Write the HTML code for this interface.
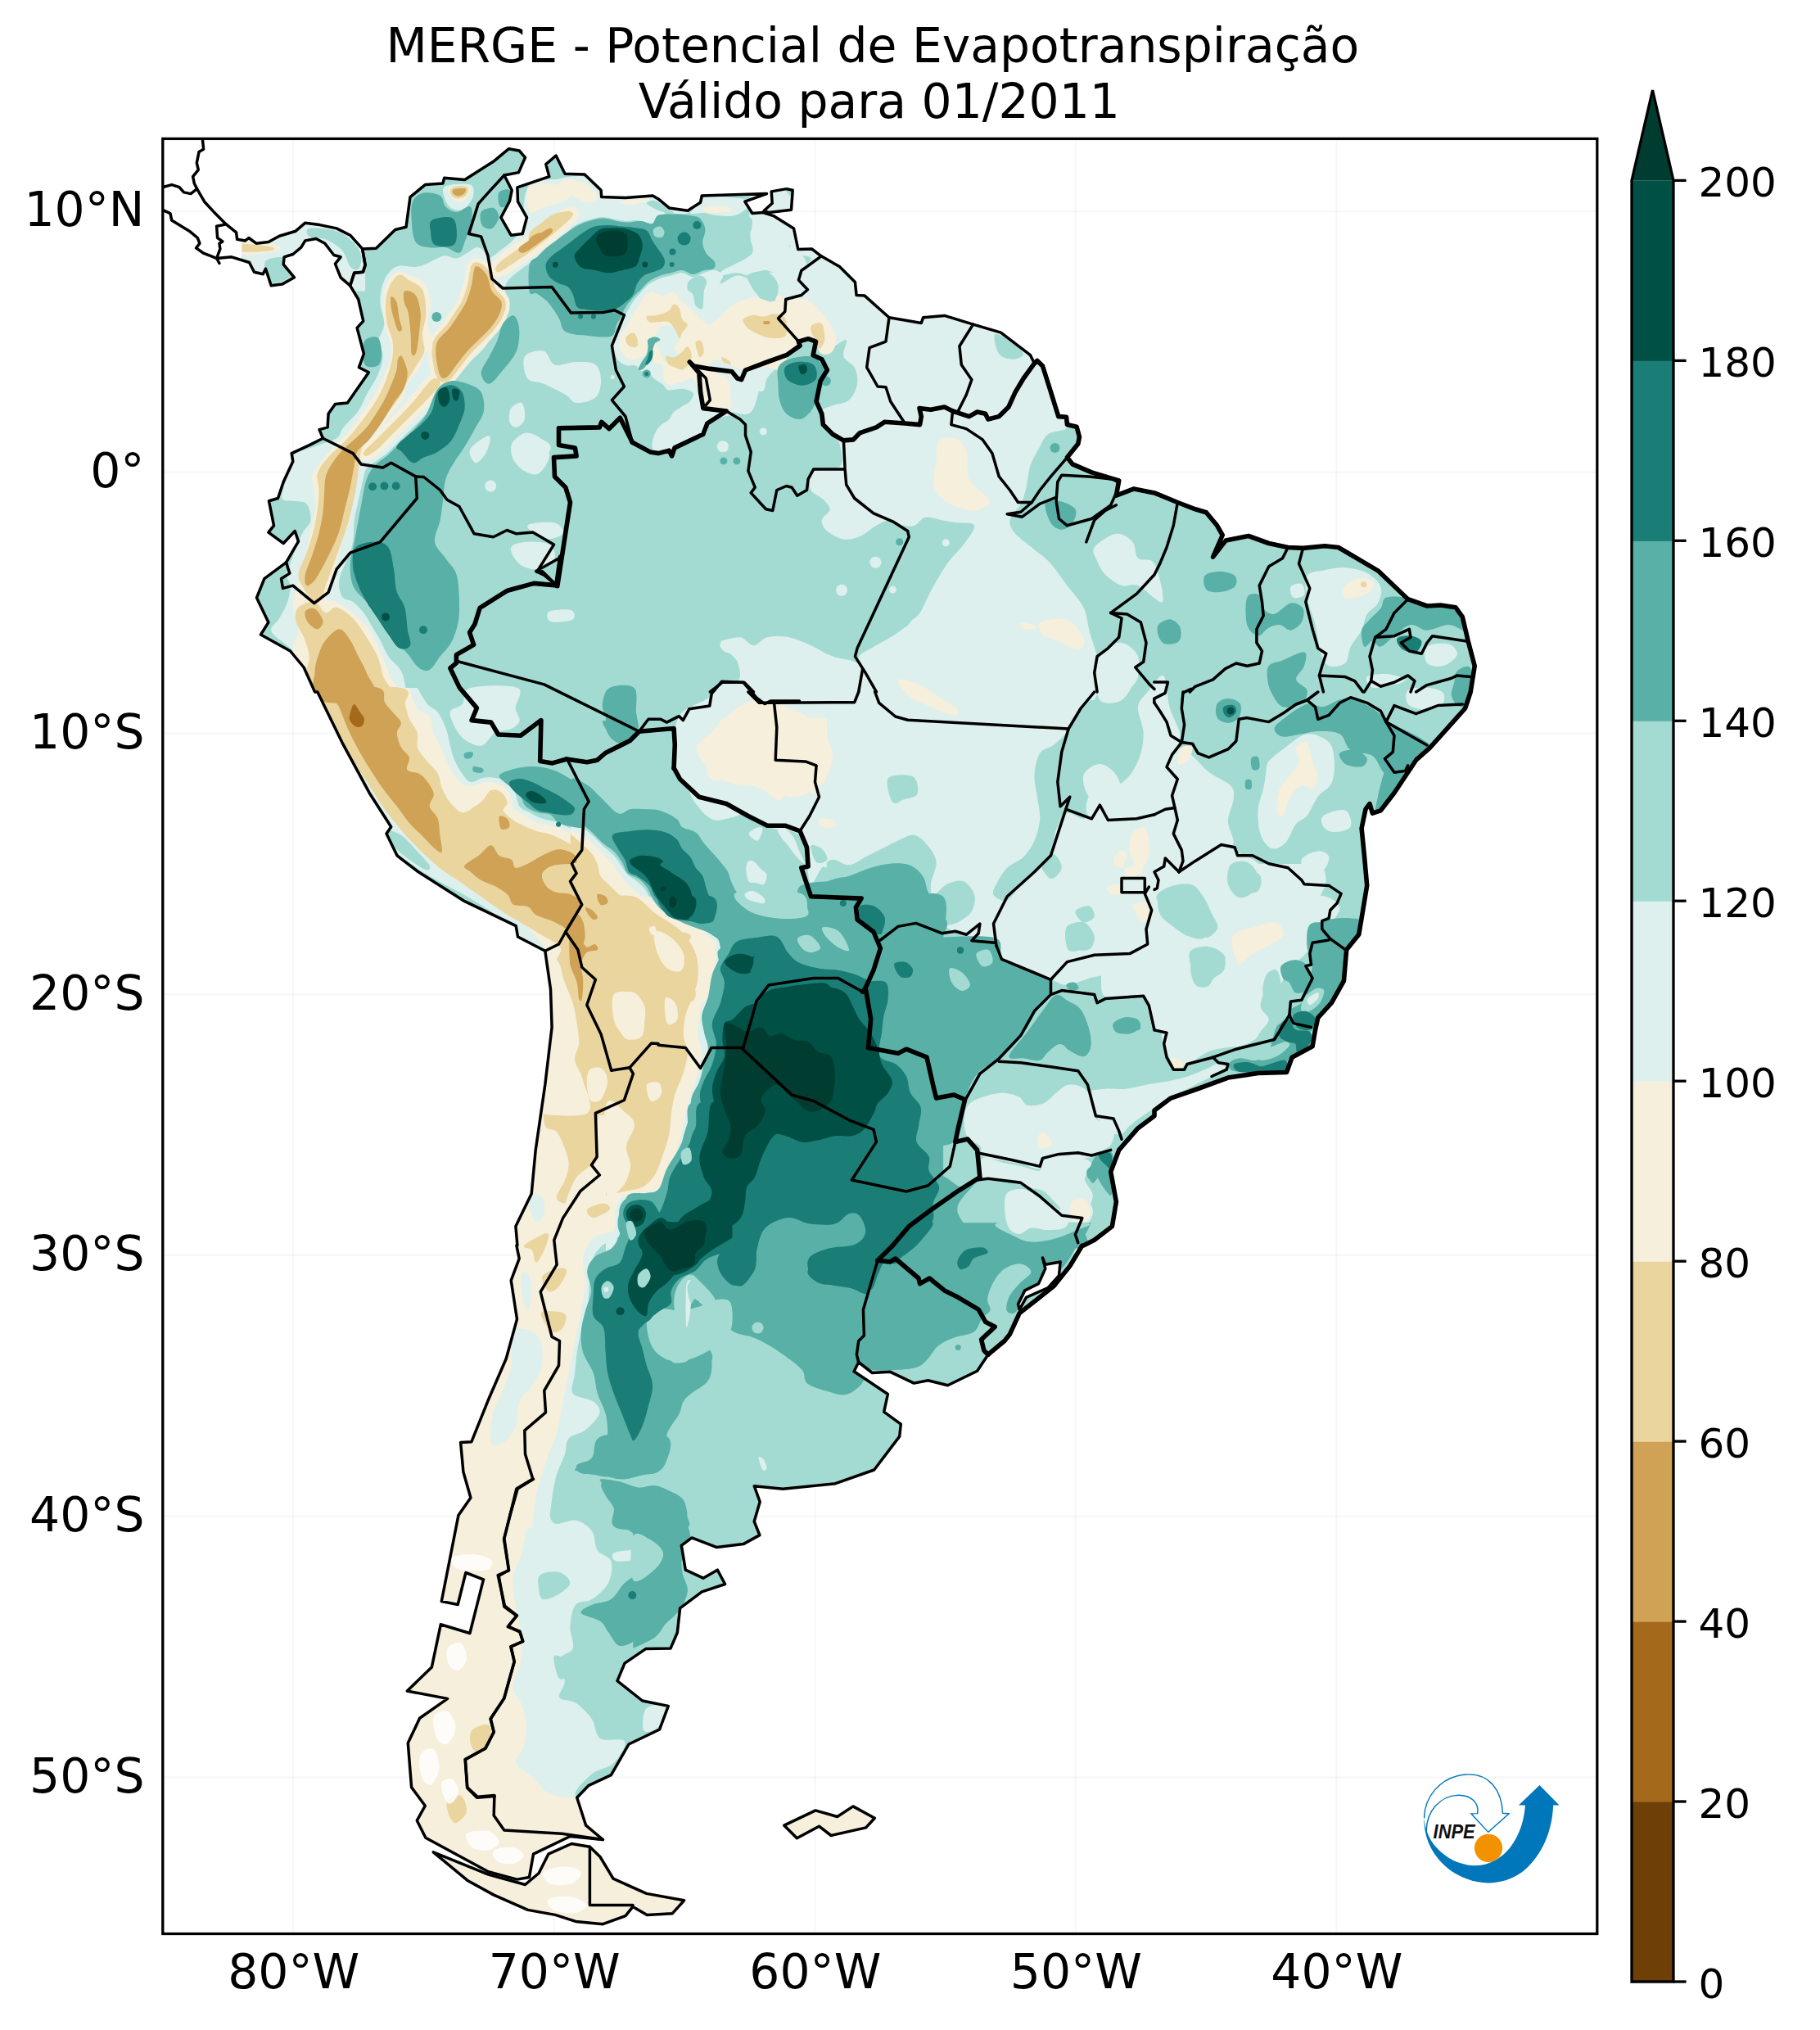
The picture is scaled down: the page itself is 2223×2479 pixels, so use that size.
<!DOCTYPE html>
<html lang="pt"><head><meta charset="utf-8"><title>MERGE - Potencial de Evapotranspiração</title>
<style>html,body{margin:0;padding:0;background:#fff}body{width:2223px;height:2479px;overflow:hidden}svg{display:block}text{font-family:"DejaVu Sans","Liberation Sans",sans-serif;fill:#000}</style></head><body>
<svg width="2223" height="2479" viewBox="0 0 2223 2479">
<rect width="2223" height="2479" fill="#fff"/>
<defs><clipPath id="ax"><rect x="198.8" y="169.4" width="1752" height="2192.1"/></clipPath>
<clipPath id="dat"><rect x="295.5" y="169.4" width="1700" height="2192.1"/></clipPath>
<clipPath id="land">
<path d="M442.7,303.9 459.4,303.2 482.7,280.5 496,277.2 501,240.6 519.3,225.6 541,223.9 542.6,217.3 567.6,219.6 602.6,197.3 621.5,181.7 634.2,184 641.5,192.3 633.5,210.6 615.9,214 625.2,232.3 622.5,245.6 611.9,265.6 624.2,287.2 638.2,285.5 643.5,265.6 632.5,246.2 631.9,228.9 670.8,215.6 666.8,200.6 679.1,190 690.1,212.3 714.1,213 734.1,232.3 734.7,240.6 764,241.6 797.3,238.9 804,242.9 817.3,253.9 840,257.2 855.6,247.2 857.3,238.9 936.5,236.6 909.9,246.2 918.9,260.6 932.2,259.6 945.5,263.9 969.5,278.9 974.8,304.5 991.5,303.9 1003.1,312.8 1025.4,325.5 1044.4,344.5 1046.1,360.5 1056.1,361.1 1086,387.8 1125.3,394.4 1127.6,387.8 1153.6,385.4 1188.6,396.1 1222.5,406.1 1258.5,433.7 1263.5,443.7 1266.8,440.4 1273.5,447 1283.5,478.7 1292.8,508.6 1302.5,509.3 1303.5,518.6 1315.1,521.3 1318.4,533.6 1316.8,541.9 1303.5,558.6 1310.1,566.9 1333.4,576.9 1366.7,586.9 1363.4,605.2 1385,596.9 1410,601.9 1410,601.9 1438.3,613.5 1459.9,621.8 1473.3,625.8 1486.6,641.8 1493.2,653.5 1481.6,680.1 1497.2,660.1 1524.9,654.5 1549.8,663.5 1573.2,668.5 1591.5,669.4 1618.1,666.8 1634.8,668.5 1683,696.8 1719.7,731.7 1743,740 1759.6,739 1777.9,741.7 1786.3,753.4 1792.9,781.7 1801.2,813.3 1796.2,844.9 1796.2,845 1789.6,865 1762.9,894.9 1746.3,913.3 1729.6,928.2 1716.3,948.2 1703,968.2 1686.4,989.8 1676.4,993.2 1673,981.5 1668,988.2 1663.1,1011.5 1666.4,1044.8 1669.7,1081.4 1663.1,1121.4 1659.7,1141.3 1644.7,1159.7 1641.4,1197.9 1626.4,1224.6 1609.8,1242.9 1606.5,1257.9 1603.1,1277.9 1578.1,1291.2 1571.5,1309.5 1536.5,1310.5 1499.9,1316.1 1463.3,1329.5 1430,1341.1 1410,1356.1 1410,1362.8 1390,1377.7 1366.7,1404.4 1356.7,1431 1363.4,1467.6 1358.4,1497.6 1336.7,1514.3 1323.4,1520.9 1321.8,1521 1306.8,1546 1286.8,1570.9 1263.5,1589.3 1245.2,1603.6 1233.5,1629.2 1226.9,1637.5 1206.9,1654.2 1193.6,1674.2 1157.6,1691.8 1133.6,1685.8 1116.3,1689.1 1087,1675.2 1065.4,1676.5 1048.7,1663.5 1043.1,1674.8 1084.4,1702.5 1079.7,1724.1 1100.3,1739.1 1098.7,1754.1 1067.7,1795 1020.4,1811.7 956.2,1818.3 921.2,1814.7 928.2,1834 921.2,1858 927.9,1874.6 907.9,1885.6 875.6,1889.6 845,1877.9 832.3,1887.3 837.3,1917.2 858.9,1927.2 876.3,1917.2 885.6,1934.5 857.3,1943.9 830.6,1963.8 827.3,1993.8 819,2013.1 789,2013.4 763,2031.1 754,2052.7 784.7,2077 816.3,2083.4 805.6,2112 768,2130 746.4,2167.6 719.1,2180.3 704.7,2195.2 715.7,2229.2 736.4,2246.5 696.4,2242.5 651.5,2264.2 646.5,2292.5 631.5,2295.1 596.5,2285.8 519.9,2244.2 509.3,2223.2 519.3,2205.2 502.6,2182.6 498.3,2128.6 512.6,2098.3 546.6,2074.4 497.3,2065 527.3,2036.1 538.3,1983.8 573.9,1994.5 590.5,1928.9 568.9,1920.5 559.2,1959.5 539.3,1955.5 559.9,1850.6 574.9,1829 565.9,1797.4 562.6,1761.4 575.9,1760.7 595.9,1710.8 618.2,1659.2 631.5,1610.9 624.2,1563.6 634.2,1537 630.9,1521 631.9,1520.9 629.9,1497.6 649.2,1457.7 654.2,1404.4 665.8,1324.5 674.1,1254.5 672.5,1207.9 665.8,1161.3 632.5,1144 630.2,1130.7 567.6,1100.7 511,1064.8 485,1044.8 472,1018.1 477.7,1009.8 451.1,968.2 417.8,906.6 387.8,845 384.5,844.9 371.1,815 354.5,795 318.5,775 327.9,760 313.5,730 322.9,706.7 349.5,686.8 364.5,661.1 360.2,648.5 346.2,663.5 327.9,650.1 334.5,641.8 328.5,611.8 339.5,608.5 346.2,588.5 357.8,563.6 356.2,553.6 377.8,543.6 394.5,535.3 390.1,524.6 400.1,521.9 401.1,505.3 409.4,493.6 424.4,492 450.4,454.7 438.4,448.7 444.4,432 436.1,400.4 443.7,392.1 437.7,365.5 427.7,348.8 432.7,333.2 443.4,332.2 446.1,323.8Z"/>
<path d="M276.2,273.9 288.6,283.9 289.6,292.2 299.6,293.9 303.9,290.5 312.9,297.2 327.9,295.5 341.2,288.2 361.2,282.2 372.8,272.2 390.5,274.6 411.1,278.9 427.7,287.2 442.7,303.9 446.1,323.8 443.4,332.2 432.7,333.2 427.7,348.8 416.1,338.8 409.4,322.2 416.1,313.8 407.8,311.5 396.8,297.2 386.1,291.5 372.8,293.9 367.8,302.2 357.8,310.5 347.2,313.8 346.2,322.8 359.5,338.8 344.5,347.1 331.2,348.8 324.5,328.2 321.2,334.8 310.5,332.2 304.5,320.5 282.9,313.8 264.6,315.5 268.9,303.9 267.9,297.2 271.9,294.9 265.6,290.5 264.6,276.2Z"/>
<path d="M942.2,233.9 960.5,230.6 968.2,232.3 966.5,256.2 938.9,259.6 933.2,257.2 943.2,248.2Z"/>
<path d="M720.4,2255.2 698.1,2251.5 669.8,2264.2 658.1,2287.5 641.5,2301.5 596.5,2289.1 529.3,2261.8 571.6,2296.8 603.2,2314.1 644.8,2332.4 678.1,2338.4 703.1,2346.4 736.4,2349.7 764,2339.7 773,2328.4 790.3,2338.4 821.3,2336.7 835.6,2320.8 789.6,2312.4 749,2294.1 733,2267.5Z"/>
<path d="M957.8,2229.2 996.1,2210.9 1022.7,2218.5 1042,2205.9 1068.3,2220.2 1057.7,2231.9 1015.1,2241.5 1000.4,2230.2 973.4,2244.8Z"/>
</clipPath></defs>
<g clip-path="url(#ax)">
<g stroke="#000" stroke-opacity="0.03" stroke-width="2.2" fill="none">
<path d="M358.1,169.4 V2361.5"/>
<path d="M676.6,169.4 V2361.5"/>
<path d="M995.2,169.4 V2361.5"/>
<path d="M1313.7,169.4 V2361.5"/>
<path d="M1632.3,169.4 V2361.5"/>
<path d="M198.8,258.1 H1950.8"/>
<path d="M198.8,576.8 H1950.8"/>
<path d="M198.8,895.5 H1950.8"/>
<path d="M198.8,1214.2 H1950.8"/>
<path d="M198.8,1532.9 H1950.8"/>
<path d="M198.8,1851.6 H1950.8"/>
<path d="M198.8,2170.3 H1950.8"/>
</g>
<g clip-path="url(#land)"><g clip-path="url(#dat)">
<rect x="198.8" y="169.4" width="1752" height="2192.1" fill="#a3dbd3"/>
<path d="M296.2,268.9 446.1,268.9 446.1,355.5 296.2,355.5Z" fill="#def0ed"/>
<path d="M534.3,315.5C528.7,317.7 519.3,323.8 511,325.5C502.7,327.2 491.3,322.7 484.4,325.5C477.4,328.3 472.7,334.9 469.4,342.1C466,349.4 464.4,359.9 464.4,368.8C464.4,377.7 469.6,387.6 469.4,395.4C469.1,403.2 463,408.7 462.7,415.4C462.4,422.1 468,428.2 467.7,435.4C467.4,442.6 464.4,450.9 461,458.7C457.7,466.5 451.6,474.8 447.7,482C443.8,489.2 442.5,495.3 437.7,502C433,508.6 423.9,516.4 419.4,521.9C415,527.5 416.9,531.4 411.1,535.3C405.3,539.1 393.3,541.6 384.5,545.3C375.6,548.9 363.7,550.2 357.8,556.9C352,563.6 351.7,576.6 349.5,585.2C347.3,593.8 343.1,604.1 344.5,608.5C345.9,613 352.8,610.7 357.8,611.8C362.8,613 370.9,611.3 374.5,615.2C378.1,619.1 380,629.6 379.5,635.2C378.9,640.7 373.6,644 371.1,648.5C368.6,652.9 367.3,655.1 364.5,661.8C361.7,668.5 357,681.8 354.5,688.4C352,695.1 349.5,697.3 349.5,701.7C349.5,706.2 354.2,709.5 354.5,715.1C354.8,720.6 353.4,728.4 351.2,735C348.9,741.7 344.5,749.5 341.2,755C337.8,760.6 331.7,764.5 331.2,768.3C330.6,772.2 334,774.4 337.8,778.3C341.7,782.2 348.9,785.5 354.5,791.6C360,797.8 366.1,804.4 371.1,815C376.1,825.5 384.5,854.9 384.5,854.9L497.7,854.9C497.7,854.9 494.9,830.5 491,821.6C487.1,812.7 478.8,808.3 474.4,801.6C469.9,795 467.7,787.8 464.4,781.7C461,775.6 457.7,770.6 454.4,765C451.1,759.5 448.3,753.4 444.4,748.4C440.5,743.4 435.5,738.4 431.1,735C426.6,731.7 420.5,732.8 417.8,728.4C415,723.9 413.3,716.2 414.4,708.4C415.5,700.6 421.6,689.5 424.4,681.8C427.2,674 429.7,669.6 431.1,661.8C432.5,654 431.6,643.5 432.7,635.2C433.9,626.8 436.1,619.6 437.7,611.8C439.4,604.1 441.1,595.2 442.7,588.5C444.4,581.9 444.7,576.3 447.7,571.9C450.8,567.5 456.6,565.2 461,561.9C465.5,558.6 469.9,555.8 474.4,551.9C478.8,548 482.7,543.6 487.7,538.6C492.7,533.6 499.3,526.9 504.3,521.9C509.3,517 513.2,513.6 517.6,508.6C522.1,503.6 526.5,497.5 531,492C535.4,486.4 539.8,480.3 544.3,475.3C548.7,470.3 552.6,467.6 557.6,462C562.6,456.5 568.7,448.1 574.3,442C579.8,435.9 585.9,431.5 590.9,425.4C595.9,419.3 600.3,412.1 604.2,405.4C608.1,398.7 611.7,392.1 614.2,385.4C616.7,378.8 619.2,371.3 619.2,365.5C619.2,359.6 617,354.4 614.2,350.5C611.4,346.6 605.3,348 602.6,342.1C599.8,336.3 600.6,322.2 597.6,315.5C594.5,308.8 588.7,303.3 584.2,302.2C579.8,301.1 575.4,306.6 570.9,308.8C566.5,311.1 562,315 557.6,315.5C553.2,316.1 548.2,312.2 544.3,312.2C540.4,312.2 539.8,313.3 534.3,315.5Z" fill="#def0ed"/>
<path d="M597.6,318.8C598.7,313.3 602.6,313.3 607.5,308.8C612.5,304.4 621.4,298.9 627.5,292.2C633.6,285.5 642,276.7 644.2,268.9C646.4,261.1 640.3,251.7 640.8,245.6C641.4,239.5 642.5,236.1 647.5,232.3C652.5,228.4 662.5,225 670.8,222.3C679.1,219.5 689.7,216.4 697.5,215.6C705.2,214.8 711.3,214 717.4,217.3C723.5,220.6 726.3,231.2 734.1,235.6C741.8,240 751.8,242.8 764,243.9C776.3,245 800.1,237.5 807.3,242.3C814.5,247 812.3,267.8 807.3,272.2C802.3,276.7 786.8,270 777.4,268.9C767.9,267.8 759,267.2 750.7,265.6C742.4,263.9 734.1,258.9 727.4,258.9C720.8,258.9 715.8,262.2 710.8,265.6C705.8,268.9 702.4,273.9 697.5,278.9C692.5,283.9 686.9,290 680.8,295.5C674.7,301.1 667.5,307.2 660.8,312.2C654.2,317.2 647.5,320.5 640.8,325.5C634.2,330.5 625.3,337.1 620.9,342.1C616.4,347.1 617.5,355.5 614.2,355.5C610.9,355.5 603.7,348.2 600.9,342.1C598.1,336 596.5,324.4 597.6,318.8Z" fill="#def0ed"/>
<path d="M544.3,227.3C549.6,224.8 568.7,223.4 574.3,225.6C579.8,227.8 579,235.6 577.6,240.6C576.2,245.6 570.4,253.4 565.9,255.6C561.5,257.8 554.8,256.4 550.9,253.9C547.1,251.4 543.7,245 542.6,240.6C541.5,236.1 539,229.8 544.3,227.3Z" fill="#def0ed"/>
<path d="M640.8,435.4C644.2,429.8 658,427 664.2,428.7C670.3,430.4 670.8,443.1 677.5,445.4C684.1,447.6 695.8,442 704.1,442C712.4,442 722.4,441.5 727.4,445.4C732.4,449.2 734.1,458.7 734.1,465.3C734.1,472 732.4,480.9 727.4,485.3C722.4,489.8 710.2,492.5 704.1,492C698,491.4 697.5,485.9 690.8,482C684.1,478.1 671.9,472 664.2,468.7C656.4,465.3 648.1,467.6 644.2,462C640.3,456.5 637.5,440.9 640.8,435.4Z" fill="#def0ed"/>
<path d="M624.2,498.6C626.7,494.8 634.7,489.8 637.5,492C640.3,494.2 642,507 640.8,512C639.7,517 633.9,521.4 630.9,521.9C627.8,522.5 623.6,519.2 622.5,515.3C621.4,511.4 621.7,502.5 624.2,498.6Z" fill="#def0ed"/>
<path d="M630.9,535.3C634.2,532.5 638.6,528 644.2,528.6C649.7,529.2 659.7,533.6 664.2,538.6C668.6,543.6 671.9,551.9 670.8,558.6C669.7,565.2 662.5,575.8 657.5,578.5C652.5,581.3 645.8,578 640.8,575.2C635.9,572.4 630.3,566.9 627.5,561.9C624.8,556.9 623.6,549.7 624.2,545.3C624.8,540.8 627.5,538 630.9,535.3Z" fill="#def0ed"/>
<path d="M574.3,548.6C577,543 594.2,531.4 597.6,531.9C600.9,532.5 597,546.4 594.2,551.9C591.5,557.5 584.2,565.8 580.9,565.2C577.6,564.7 571.5,554.1 574.3,548.6Z" fill="#def0ed"/>
<circle cx="599.2" cy="593.5" r="7" fill="#def0ed"/>
<path d="M624.2,668.5C625.9,664 636.4,662.3 644.2,661.8C651.9,661.2 665.3,661.8 670.8,665.1C676.4,668.5 679.7,676.8 677.5,681.8C675.3,686.8 664.7,694 657.5,695.1C650.3,696.2 639.7,692.9 634.2,688.4C628.6,684 622.5,672.9 624.2,668.5Z" fill="#def0ed"/>
<path d="M644.2,641.8C646.4,638.5 670.3,636.8 677.5,638.5C684.7,640.1 689.7,648.5 687.5,651.8C685.2,655.1 671.4,660.1 664.2,658.5C656.9,656.8 642,645.1 644.2,641.8Z" fill="#def0ed"/>
<path d="M670.8,746.7C675,744.4 692.7,743.4 697.5,745C702.2,746.7 703.3,754.4 699.1,756.7C695,759 677.2,760.7 672.5,759C667.8,757.4 666.7,749 670.8,746.7Z" fill="#def0ed"/>
<path d="M915.5,242.3C919.7,233.9 928,210.1 943.8,218.9C959.7,227.8 991.6,273.9 1010.4,295.5C1029.3,317.2 1043.7,335.5 1057.1,348.8C1070.4,362.1 1068.2,369.3 1090.4,375.4C1112.5,381.5 1166.9,381.5 1190.2,385.4C1213.5,389.3 1216.9,391 1230.2,398.7C1243.5,406.5 1261.8,420.4 1270.2,432C1278.5,443.7 1275.7,457 1280.1,468.7C1284.6,480.3 1292.9,493.1 1296.8,502C1300.7,510.8 1306.2,517.2 1303.5,521.9C1300.7,526.7 1286,525.8 1280.1,530.3C1274.3,534.7 1272.1,542.2 1268.5,548.6C1264.9,555 1261,560.8 1258.5,568.6C1256,576.3 1255.4,587.4 1253.5,595.2C1251.6,603 1250.2,608.5 1246.8,615.2C1243.5,621.8 1234.6,629 1233.5,635.2C1232.4,641.3 1235.7,646.3 1240.2,651.8C1244.6,657.4 1253,662.3 1260.2,668.5C1267.4,674.6 1276.3,680.7 1283.5,688.4C1290.7,696.2 1296.8,706.2 1303.5,715.1C1310.1,723.9 1319,732.8 1323.4,741.7C1327.9,750.6 1327.9,759.5 1330.1,768.3C1332.3,777.2 1333.4,786.7 1336.7,795C1340.1,803.3 1350.1,808.3 1350.1,818.3C1350.1,828.3 1336.7,854.9 1336.7,854.9L1057.1,854.9C1057.1,854.9 1059.3,830.5 1063.7,821.6C1068.2,812.7 1077,808.3 1083.7,801.6C1090.4,795 1099.2,788.3 1103.7,781.7C1108.1,775 1107,767.2 1110.3,761.7C1113.7,756.1 1119.2,755 1123.6,748.4C1128.1,741.7 1131.4,731.7 1137,721.7C1142.5,711.7 1150.3,697.9 1156.9,688.4C1163.6,679 1171.4,672.9 1176.9,665.1C1182.5,657.4 1191.4,646.3 1190.2,641.8C1189.1,637.4 1176.9,639.6 1170.3,638.5C1163.6,637.4 1156.9,636.3 1150.3,635.2C1143.6,634 1135.9,630.7 1130.3,631.8C1124.8,632.9 1121.4,640.1 1117,641.8C1112.5,643.5 1108.7,642.9 1103.7,641.8C1098.7,640.7 1092.6,635.2 1087,635.2C1081.5,635.2 1076.5,638.5 1070.4,641.8C1064.3,645.1 1057.1,652.4 1050.4,655.1C1043.7,657.9 1037.1,659.6 1030.4,658.5C1023.8,657.4 1014.9,652.4 1010.4,648.5C1006,644.6 1003.2,639.6 1003.8,635.2C1004.3,630.7 1013.8,626.3 1013.8,621.8C1013.8,617.4 1007.7,612.4 1003.8,608.5C999.9,604.6 992.7,603.5 990.5,598.5C988.2,593.5 988.2,582.7 990.5,578.5C992.7,574.4 997.7,575.2 1003.8,573.6C1009.9,571.9 1023.5,573.8 1027.1,568.6C1030.7,563.3 1027.1,548 1025.4,541.9C1023.8,535.8 1020.2,535.8 1017.1,531.9C1014,528 1009.3,523.6 1007.1,518.6C1004.9,513.6 1002.1,505.9 1003.8,502C1005.4,498.1 1011.5,497.5 1017.1,495.3C1022.6,493.1 1032.1,493.1 1037.1,488.6C1042.1,484.2 1046,475.3 1047.1,468.7C1048.2,462 1046.5,454.2 1043.7,448.7C1041,443.1 1032.1,440.9 1030.4,435.4C1028.8,429.8 1035.4,417.6 1033.7,415.4C1032.1,413.2 1025.4,419.3 1020.4,422.1C1015.4,424.8 1008.2,433.2 1003.8,432C999.3,430.9 998.2,417.9 993.8,415.4C989.4,412.9 984.4,421.5 977.1,417.1C969.9,412.6 953.6,394.9 950.5,388.8C947.5,382.7 957.3,384.3 958.8,380.4C960.4,376.5 956.5,368.8 959.8,365.5C963.2,362.1 974.4,362.4 978.8,360.5C983.2,358.5 987,356.8 986.5,353.8C985.9,350.7 976.8,346 975.5,342.1C974.2,338.3 976.3,334.9 978.8,330.5C981.3,326 991.8,319.1 990.5,315.5C989.1,311.9 975.5,312.2 970.5,308.8C965.5,305.5 964.9,296.6 960.5,295.5C956.1,294.4 948.8,300.5 943.8,302.2C938.9,303.9 935,306.6 930.5,305.5C926.1,304.4 919.2,301.6 917.2,295.5C915.3,289.4 919.2,277.8 918.9,268.9C918.6,260 911.4,250.6 915.5,242.3Z" fill="#def0ed"/>
<path d="M857.3,242.3C861.7,239.2 878.4,239.8 887.2,240.6C896.1,241.4 907.8,243.9 910.5,247.2C913.3,250.6 907.8,257.8 903.9,260.6C900,263.3 894.5,264.2 887.2,263.9C880,263.6 865.6,262.5 860.6,258.9C855.6,255.3 852.8,245.3 857.3,242.3Z" fill="#def0ed"/>
<path d="M857.3,458.7C862.5,451.5 882.8,454.2 890.6,455.4C898.3,456.5 897.8,464.2 903.9,465.3C910,466.5 923.9,458.1 927.2,462C930.5,465.9 926.1,481.4 923.9,488.6C921.6,495.9 920,503.1 913.9,505.3C907.8,507.5 896.4,503.1 887.2,502C878.1,500.9 863.9,505.9 858.9,498.6C853.9,491.4 852,465.9 857.3,458.7Z" fill="#def0ed"/>
<path d="M880.6,785C883.9,782.2 897.2,777.8 903.9,778.3C910.5,778.9 915,788.3 920.5,788.3C926.1,788.3 930,780 937.2,778.3C944.4,776.7 954.9,776.7 963.8,778.3C972.7,780 981.6,784.4 990.5,788.3C999.3,792.2 1008.2,798.3 1017.1,801.6C1026,805 1037.1,805 1043.7,808.3C1050.4,811.6 1053.2,813.8 1057.1,821.6C1060.9,829.4 1067,854.9 1067,854.9L903.9,854.9C903.9,854.9 905,830.5 903.9,821.6C902.8,812.7 900.6,806.1 897.2,801.6C893.9,797.2 886.7,797.8 883.9,795C881.1,792.2 877.3,787.8 880.6,785Z" fill="#def0ed"/>
<circle cx="1069.4" cy="686.8" r="7" fill="#def0ed"/>
<circle cx="1028.1" cy="720.7" r="7" fill="#def0ed"/>
<circle cx="882.9" cy="545.3" r="7" fill="#def0ed"/>
<circle cx="1090.4" cy="720.1" r="4.5" fill="#def0ed"/>
<circle cx="1155.3" cy="662.8" r="4.5" fill="#def0ed"/>
<circle cx="932.2" cy="526.9" r="4.5" fill="#def0ed"/>
<path d="M1336.7,668.5C1340.6,662.9 1355.6,652.9 1363.4,651.8C1371.2,650.7 1378.9,656.8 1383.4,661.8C1387.8,666.8 1385.6,677.3 1390,681.8C1394.5,686.2 1405,679.5 1410,688.4C1415,697.3 1423.3,730.6 1420,735C1416.7,739.5 1398.3,718.4 1390,715.1C1381.7,711.7 1376.7,717.3 1370,715.1C1363.4,712.8 1355.1,706.7 1350.1,701.7C1345.1,696.8 1342.3,690.6 1340.1,685.1C1337.9,679.5 1332.9,674 1336.7,668.5Z" fill="#def0ed"/>
<path d="M1346.7,795C1351.7,788.9 1362.8,783.9 1370,785C1377.3,786.1 1387.2,794.4 1390,801.6C1392.8,808.9 1390,819.4 1386.7,828.3C1383.4,837.2 1377.3,850.5 1370,854.9C1362.8,859.4 1348.4,860.5 1343.4,854.9C1338.4,849.4 1339.5,831.6 1340.1,821.6C1340.6,811.6 1341.7,801.1 1346.7,795Z" fill="#def0ed"/>
<path d="M947.2,295.5C947.2,295.5 973.3,302.2 980.5,312.2C987.7,322.2 993.2,346 990.5,355.5C987.7,364.9 969.9,363.2 963.8,368.8C957.7,374.3 951.6,380.4 953.8,388.8C956.1,397.1 978.3,412.1 977.1,418.7C976,425.4 947.2,428.7 947.2,428.7L947.2,295.5Z" fill="#def0ed"/>
<path d="M831.5,876.7C831.5,876.7 829.9,890.5 829.9,896.6C829.9,902.8 831,907.7 831.5,913.3C832.1,918.8 832.1,924.4 833.2,929.9C834.3,935.5 836.8,941 838.2,946.6C839.6,952.1 840.1,958.2 841.5,963.2C842.9,968.2 843.5,971.6 846.5,976.6C849.6,981.6 855.4,989 859.8,993.2C864.3,997.4 868.7,1000.4 873.1,1001.5C877.6,1002.6 882,1000.7 886.5,999.9C890.9,999 894.8,998.5 899.8,996.5C904.8,994.6 910.9,988.8 916.4,988.2C922,987.7 928.1,990.7 933.1,993.2C938.1,995.7 942,1000.1 946.4,1003.2C950.8,1006.3 955.3,1009.9 959.7,1011.5C964.2,1013.2 969.1,1011.2 973,1013.2C976.9,1015.1 980.2,1018.7 983,1023.2C985.8,1027.6 987.5,1034.8 989.7,1039.8C991.9,1044.8 993,1049.8 996.3,1053.1C999.7,1056.5 1009.7,1059.8 1009.7,1059.8L1009.7,876.7L831.5,876.7Z" fill="#def0ed"/>
<path d="M949.7,1013.2C950.6,1011.5 956.4,1011.5 959.7,1013.2C963,1014.9 966.9,1018.7 969.7,1023.2C972.5,1027.6 974.1,1034.6 976.4,1039.8C978.6,1045.1 983.6,1053.7 983,1054.8C982.5,1055.9 976.4,1050.1 973,1046.5C969.7,1042.9 966.1,1037 963,1033.2C960,1029.3 956.9,1026.5 954.7,1023.2C952.5,1019.8 948.9,1014.9 949.7,1013.2Z" fill="#def0ed"/>
<path d="M696.7,1006.5C696.7,1006.5 705.5,1007.6 710,1009.9C714.4,1012.1 718.9,1016 723.3,1019.8C727.7,1023.7 732.2,1029 736.6,1033.2C741.1,1037.3 746.3,1040.9 749.9,1044.8C753.6,1048.7 755.5,1052.6 758.3,1056.5C761,1060.4 763.3,1064.8 766.6,1068.1C769.9,1071.5 774.6,1073.4 778.2,1076.5C781.9,1079.5 785.5,1082.8 788.2,1086.4C791,1090 791.8,1093.9 794.9,1098.1C797.9,1102.3 802.4,1107.5 806.5,1111.4C810.7,1115.3 815.4,1118.6 819.9,1121.4C824.3,1124.2 828.2,1125.8 833.2,1128.1C838.2,1130.3 844.3,1132.5 849.8,1134.7C855.4,1136.9 861.5,1138.9 866.5,1141.4C871.5,1143.9 878.1,1146.1 879.8,1149.7C881.5,1153.3 876.8,1158 876.5,1163C876.2,1168 877,1174.1 878.1,1179.7C879.2,1185.2 881.5,1190.8 883.1,1196.3C884.8,1201.9 886.5,1208.5 888.1,1213C889.8,1217.4 893.1,1223 893.1,1223L696.7,1223L696.7,1006.5Z" fill="#def0ed"/>
<path d="M1596.5,703.1C1599.8,697.6 1608.7,698.1 1616.4,696.5C1624.2,694.8 1634.2,692.6 1643.1,693.2C1652,693.7 1662.5,695.9 1669.7,699.8C1676.9,703.7 1684.1,710.4 1686.4,716.5C1688.6,722.6 1685.8,730.9 1683,736.4C1680.3,742 1673,744.2 1669.7,749.8C1666.4,755.3 1666.4,763.1 1663.1,769.7C1659.7,776.4 1653.1,783.1 1649.7,789.7C1646.4,796.4 1647.5,805.8 1643.1,809.7C1638.6,813.6 1628.1,815.2 1623.1,813C1618.1,810.8 1615.9,804.7 1613.1,796.4C1610.3,788 1609.2,774.2 1606.5,763.1C1603.7,752 1598.1,739.8 1596.5,729.8C1594.8,719.8 1593.1,708.7 1596.5,703.1Z" fill="#def0ed"/>
<path d="M1576.5,716.5C1578.1,713.7 1587,711.5 1589.8,713.1C1592.6,714.8 1594.8,723.7 1593.1,726.5C1591.5,729.2 1582.6,731.4 1579.8,729.8C1577,728.1 1574.8,719.2 1576.5,716.5Z" fill="#def0ed"/>
<path d="M1743,789.7C1747.4,785.8 1763.5,784.7 1769.6,786.4C1775.7,788 1780.7,795.3 1779.6,799.7C1778.5,804.1 1769,811.4 1762.9,813C1756.8,814.7 1746.3,813.6 1743,809.7C1739.6,805.8 1738.5,793.6 1743,789.7Z" fill="#def0ed"/>
<path d="M1719.7,843C1723.5,839.7 1735.8,839.1 1743,839.7C1750.2,840.2 1760.2,842.4 1762.9,846.3C1765.7,850.2 1764.1,859.6 1759.6,863C1755.2,866.3 1743,866.9 1736.3,866.3C1729.6,865.7 1722.4,863.5 1719.7,859.6C1716.9,855.8 1715.8,846.3 1719.7,843Z" fill="#def0ed"/>
<path d="M1669.7,826.3C1672.5,823.6 1685.3,822.5 1693,823C1700.8,823.6 1714.7,827.5 1716.3,829.7C1718,831.9 1709.7,834.7 1703,836.3C1696.4,838 1681.9,841.3 1676.4,839.7C1670.8,838 1666.9,829.1 1669.7,826.3Z" fill="#def0ed"/>
<path d="M1430,922.9C1432.8,918.5 1438.3,912.4 1443.3,912.9C1448.3,913.5 1454.4,921.2 1459.9,926.2C1465.5,931.2 1469.4,937.3 1476.6,942.9C1483.8,948.4 1498.2,954 1503.2,959.5C1508.2,965.1 1507.1,969 1506.6,976.2C1506,983.4 1499.9,993.9 1499.9,1002.8C1499.9,1011.7 1507.7,1023.3 1506.6,1029.5C1505.5,1035.6 1498.2,1037.2 1493.2,1039.4C1488.2,1041.7 1484.9,1039.4 1476.6,1042.8C1468.3,1046.1 1450,1058.3 1443.3,1059.4C1436.6,1060.5 1437.2,1055.5 1436.6,1049.4C1436.1,1043.3 1440.5,1031.7 1440,1022.8C1439.4,1013.9 1433.9,1006.1 1433.3,996.2C1432.8,986.2 1437.7,972.3 1436.6,962.9C1435.5,953.4 1427.8,946.2 1426.6,939.5C1425.5,932.9 1427.2,927.3 1430,922.9Z" fill="#def0ed"/>
<path d="M1549.8,929.6C1553.7,924.6 1562.1,918.5 1569.8,912.9C1577.6,907.4 1587.6,897.4 1596.5,896.3C1605.3,895.2 1617.5,900.7 1623.1,906.3C1628.6,911.8 1629.2,921.2 1629.8,929.6C1630.3,937.9 1629.8,949 1626.4,956.2C1623.1,963.4 1614.8,966.2 1609.8,972.8C1604.8,979.5 1600.9,990.6 1596.5,996.2C1592,1001.7 1587.6,1000.6 1583.1,1006.1C1578.7,1011.7 1574.8,1024.5 1569.8,1029.5C1564.8,1034.4 1558.2,1037.8 1553.2,1036.1C1548.2,1034.4 1542.6,1027.2 1539.9,1019.5C1537.1,1011.7 1536,998.9 1536.5,989.5C1537.1,980.1 1541.5,970.6 1543.2,962.9C1544.9,955.1 1545.4,948.4 1546.5,942.9C1547.6,937.3 1546,934.6 1549.8,929.6Z" fill="#def0ed"/>
<path d="M1589.8,1049.4C1592,1044.4 1604.2,1040 1609.8,1039.4C1615.3,1038.9 1622,1042.2 1623.1,1046.1C1624.2,1050 1620.9,1058.9 1616.4,1062.7C1612,1066.6 1600.9,1071.6 1596.5,1069.4C1592,1067.2 1587.6,1054.4 1589.8,1049.4Z" fill="#def0ed"/>
<path d="M1616.4,996.2C1620.9,992.8 1637.5,987.3 1643.1,989.5C1648.6,991.7 1652,1005 1649.7,1009.5C1647.5,1013.9 1635.3,1016.1 1629.8,1016.1C1624.2,1016.1 1618.7,1012.8 1616.4,1009.5C1614.2,1006.1 1612,999.5 1616.4,996.2Z" fill="#def0ed"/>
<path d="M1443.3,1062.7C1452.2,1056.6 1467.7,1047.8 1476.6,1042.8C1485.5,1037.8 1491,1033.3 1496.6,1032.8C1502.1,1032.2 1504.3,1036.7 1509.9,1039.4C1515.4,1042.2 1523.2,1045.5 1529.9,1049.4C1536.5,1053.3 1542.1,1059.4 1549.8,1062.7C1557.6,1066.1 1569.3,1065 1576.5,1069.4C1583.7,1073.8 1585.4,1084.9 1593.1,1089.4C1600.9,1093.8 1615.9,1092.7 1623.1,1096C1630.3,1099.4 1636.4,1103.8 1636.4,1109.4C1636.4,1114.9 1627.5,1124.3 1623.1,1129.3C1618.7,1134.3 1614.2,1133.8 1609.8,1139.3C1605.3,1144.9 1602,1155.4 1596.5,1162.6C1590.9,1169.9 1583.1,1173.7 1576.5,1182.6C1569.8,1191.5 1556.5,1215.9 1556.5,1215.9L1403.3,1215.9L1403.3,1096C1403.3,1096 1416.7,1084.9 1423.3,1079.4C1430,1073.8 1434.4,1068.9 1443.3,1062.7Z" fill="#def0ed"/>
<path d="M1416.7,826.3C1420,824.1 1421.4,823.6 1423.3,829.7C1425.3,835.8 1425.3,851.3 1428.3,863C1431.4,874.6 1441.4,889.6 1441.6,899.6C1441.9,909.6 1432.5,916.2 1430,922.9C1427.5,929.6 1425.5,932.9 1426.6,939.5C1427.8,946.2 1435.5,953.4 1436.6,962.9C1437.7,972.3 1432.8,986.2 1433.3,996.2C1433.9,1006.1 1439.4,1013.9 1440,1022.8C1440.5,1031.7 1436.1,1042.8 1436.6,1049.4C1437.2,1056.1 1448.8,1055 1443.3,1062.7C1437.7,1070.5 1412.2,1098.3 1403.3,1096C1394.5,1093.8 1391.1,1061.6 1390,1049.4C1388.9,1037.2 1398.9,1030.6 1396.7,1022.8C1394.5,1015 1385.6,1005 1376.7,1002.8C1367.8,1000.6 1351.7,1011.7 1343.4,1009.5C1335.1,1007.3 1327.9,997.3 1326.8,989.5C1325.6,981.7 1329.5,968.4 1336.7,962.9C1344,957.3 1361.2,961.7 1370,956.2C1378.9,950.6 1385.6,939.5 1390,929.6C1394.5,919.6 1396.7,907.4 1396.7,896.3C1396.7,885.2 1388.9,871.8 1390,863C1391.1,854.1 1398.9,849.1 1403.3,843C1407.8,836.9 1413.3,828.6 1416.7,826.3Z" fill="#def0ed"/>
<path d="M509.8,840C509.8,840 518.1,855 522.3,860C526.5,865 531.1,865 534.8,870C538.5,875 542.3,883.3 544.8,890C547.3,896.6 548.1,903.7 549.8,909.9C551.4,916.2 552.3,921.6 554.8,927.4C557.3,933.2 561.4,940.3 564.8,944.9C568.1,949.5 570.6,954 574.8,954.9C578.9,955.7 584.7,950.7 589.7,949.9C594.7,949.1 599.7,949.1 604.7,949.9C609.7,950.7 615.5,951.5 619.7,954.9C623.9,958.2 627.2,964.9 629.7,969.9C632.2,974.9 631.8,981.1 634.7,984.8C637.6,988.6 642.6,989.8 647.2,992.3C651.8,994.8 656.3,997.7 662.2,999.8C668,1001.9 675.5,1002.3 682.1,1004.8C688.8,1007.3 696.7,1011.5 702.1,1014.8C707.5,1018.1 710.9,1020.6 714.6,1024.8C718.3,1029 721.7,1034 724.6,1039.8C727.5,1045.6 729.2,1053.9 732.1,1059.8C735,1065.6 737.9,1070.6 742.1,1074.7C746.2,1078.9 751.6,1081.4 757.1,1084.7C762.5,1088.1 768.3,1091.8 774.5,1094.7C780.8,1097.6 787.9,1099.7 794.5,1102.2C801.2,1104.7 814.5,1109.7 814.5,1109.7L814.5,1359.4L649.7,1359.4L649.7,1169.6L375,840L509.8,840Z" fill="#def0ed"/>
<path d="M549.8,870C550.6,864.1 560.6,865 564.8,860C568.9,855 563.5,843.3 574.8,840C586,836.7 623,835.8 632.2,840C641.3,844.2 629.3,858.3 629.7,865C630.1,871.6 635.5,875.8 634.7,880C633.9,884.1 629.7,887.5 624.7,890C619.7,892.4 610.5,891.6 604.7,894.9C598.9,898.3 594.7,907.8 589.7,909.9C584.7,912 579.7,909.9 574.8,907.4C569.8,904.9 563.9,901.2 559.8,894.9C555.6,888.7 548.9,875.8 549.8,870Z" fill="#def0ed"/>
<path d="M834.6,1347C834.6,1347 832.1,1367 829.6,1377C827.1,1387 824.6,1397 819.6,1406.9C814.6,1416.9 807.1,1428.6 799.6,1436.9C792.1,1445.2 780.9,1449.4 774.6,1456.9C768.4,1464.4 764.6,1473.5 762.1,1481.9C759.6,1490.2 764.2,1500.2 759.6,1506.8C755.1,1513.5 740.9,1516 734.7,1521.8C728.4,1527.6 724.7,1533.5 722.2,1541.8C719.7,1550.1 720.5,1561.8 719.7,1571.8C718.8,1581.7 718.8,1592.6 717.2,1601.7C715.5,1610.9 711.8,1618.4 709.7,1626.7C707.6,1635 705.9,1643.3 704.7,1651.7C703.4,1660 703,1668.3 702.2,1676.6C701.4,1685 696,1695.8 699.7,1701.6C703.4,1707.4 719.3,1707.4 724.7,1711.6C730.1,1715.8 733.8,1720.8 732.2,1726.6C730.5,1732.4 720.9,1741.6 714.7,1746.6C708.4,1751.6 698.9,1751.6 694.7,1756.6C690.5,1761.5 692.2,1769 689.7,1776.5C687.2,1784 682.2,1793.2 679.7,1801.5C677.2,1809.8 676.4,1815.7 674.7,1826.5C673.1,1837.3 669.7,1866.4 669.7,1866.4L529.9,1866.4L529.9,1751.6L604.8,1601.7L604.8,1347L834.6,1347Z" fill="#def0ed"/>
<path d="M880.6,783.3C882.8,780.5 897.8,778.3 903.9,780C910,781.6 911.7,793.3 917.2,793.3C922.8,793.3 929.4,781.6 937.2,780C945,778.3 954.9,781.1 963.8,783.3C972.7,785.5 981.6,789.4 990.5,793.3C999.3,797.2 1008.2,803.3 1017.1,806.6C1026,809.9 1038.2,814.4 1043.7,813.3C1049.3,812.2 1046.5,803.8 1050.4,800C1054.3,796.1 1060.4,793.9 1067,790C1073.7,786.1 1082.6,781.6 1090.4,776.6C1098.1,771.7 1108.7,763.9 1113.7,760C1118.7,756.1 1120.3,753.3 1120.3,753.3L1323.4,753.3C1323.4,753.3 1330.6,771.7 1333.4,780C1336.2,788.3 1338.4,795.5 1340.1,803.3C1341.7,811.1 1346.2,817.2 1343.4,826.6C1340.6,836 1330.1,848.8 1323.4,859.9C1316.8,871 1309.6,884.9 1303.5,893.2C1297.3,901.5 1292.4,905.4 1286.8,909.8C1281.3,914.3 1274,913.7 1270.2,919.8C1266.3,925.9 1264,937.6 1263.5,946.5C1262.9,955.3 1265.7,964.2 1266.8,973.1C1267.9,982 1270.7,990.9 1270.2,999.7C1269.6,1008.6 1266.8,1018.6 1263.5,1026.4C1260.2,1034.1 1255.7,1040.8 1250.2,1046.4C1244.6,1051.9 1235.7,1054.1 1230.2,1059.7C1224.6,1065.2 1219.7,1074.1 1216.9,1079.6C1214.1,1085.2 1211.3,1089.6 1213.5,1093C1215.8,1096.3 1224.6,1101.8 1230.2,1099.6C1235.7,1097.4 1240.2,1086.3 1246.8,1079.6C1253.5,1073 1264,1065.8 1270.2,1059.7C1276.3,1053.6 1280.1,1050.8 1283.5,1043C1286.8,1035.3 1286.8,1021.4 1290.1,1013.1C1293.5,1004.7 1297.9,995.3 1303.5,993.1C1309,990.9 1316.8,1000.3 1323.4,999.7C1330.1,999.2 1335.6,989.2 1343.4,989.7C1351.2,990.3 1357.8,1002.5 1370,1003.1C1382.3,1003.6 1416.7,993.1 1416.7,993.1L1416.7,1186.2C1416.7,1186.2 1383.4,1188.4 1370,1189.5C1356.7,1190.6 1347.8,1190.6 1336.7,1192.9C1325.6,1195.1 1312.3,1202.3 1303.5,1202.8C1294.6,1203.4 1292.9,1199 1283.5,1196.2C1274,1193.4 1257.4,1190.1 1246.8,1186.2C1236.3,1182.3 1225.5,1178.4 1220.2,1172.9C1214.9,1167.3 1219.1,1156.8 1215.2,1152.9C1211.3,1149 1206.6,1152.9 1196.9,1149.6C1187.2,1146.2 1161.4,1136.8 1156.9,1132.9C1152.5,1129 1165.3,1129.6 1170.3,1126.3C1175.3,1122.9 1183.6,1118.5 1186.9,1112.9C1190.2,1107.4 1191.9,1099.1 1190.2,1093C1188.6,1086.9 1182.5,1078.5 1176.9,1076.3C1171.4,1074.1 1163,1076.9 1156.9,1079.6C1150.8,1082.4 1143.6,1093 1140.3,1093C1137,1093 1136.4,1086.3 1137,1079.6C1137.5,1073 1144.2,1060.8 1143.6,1053C1143.1,1045.2 1138.1,1038.6 1133.6,1033C1129.2,1027.5 1123.1,1020.8 1117,1019.7C1110.9,1018.6 1103.7,1023.6 1097,1026.4C1090.4,1029.1 1083.7,1033 1077,1036.4C1070.4,1039.7 1063.7,1043 1057.1,1046.4C1050.4,1049.7 1043.7,1055.8 1037.1,1056.3C1030.4,1056.9 1022.6,1049.1 1017.1,1049.7C1011.5,1050.2 1008.2,1054.7 1003.8,1059.7C999.3,1064.7 993.5,1080.8 990.5,1079.6C987.4,1078.5 987.1,1061.9 985.5,1053C983.8,1044.1 983,1032.5 980.5,1026.4C978,1020.3 975.5,1018.6 970.5,1016.4C965.5,1014.2 957.2,1014.7 950.5,1013.1C943.8,1011.4 938.3,1009.7 930.5,1006.4C922.8,1003.1 912.8,997 903.9,993.1C895,989.2 886.1,986.4 877.3,983.1C868.4,979.8 858.4,978.1 850.6,973.1C842.8,968.1 835.1,959.8 830.6,953.1C826.2,946.5 825.1,942 824,933.1C822.9,924.3 823.4,908.7 824,899.8C824.5,891 825.1,885.4 827.3,879.9C829.5,874.3 831.2,871 837.3,866.5C843.4,862.1 858.4,857.1 863.9,853.2C869.5,849.3 867.3,846.8 870.6,843.2C873.9,839.6 878.9,833.3 883.9,831.6C888.9,829.9 897.2,836.3 900.6,833.3C903.9,830.2 905.6,819.4 903.9,813.3C902.2,807.2 894.5,801.6 890.6,796.6C886.7,791.6 878.4,786.1 880.6,783.3Z" fill="#def0ed"/>
<path d="M1323.4,946.5C1325.6,939.8 1336.7,933.1 1343.4,933.1C1350.1,933.1 1358.9,939.8 1363.4,946.5C1367.8,953.1 1372.3,967.5 1370,973.1C1367.8,978.6 1356.7,979.8 1350.1,979.8C1343.4,979.8 1334.5,978.6 1330.1,973.1C1325.6,967.5 1321.2,953.1 1323.4,946.5Z" fill="#def0ed"/>
<path d="M1370,806.6C1371.2,800 1380,796.6 1383.4,800C1386.7,803.3 1391.1,819.9 1390,826.6C1388.9,833.3 1380,843.2 1376.7,839.9C1373.4,836.6 1368.9,813.3 1370,806.6Z" fill="#def0ed"/>
<path d="M1295,1055L1614.7,1055C1614.7,1055 1620.1,1068.3 1619.6,1075C1619.2,1081.6 1615.5,1089.1 1612.2,1095C1608.8,1100.8 1602.6,1104.1 1599.7,1109.9C1596.8,1115.8 1596.8,1124.1 1594.7,1129.9C1592.6,1135.8 1590.5,1139.9 1587.2,1144.9C1583.9,1149.9 1578.4,1154.9 1574.7,1159.9C1571,1164.9 1568.5,1169.9 1564.7,1174.9C1561,1179.9 1555.6,1184 1552.2,1189.9C1548.9,1195.7 1546.8,1203.2 1544.7,1209.8C1542.6,1216.5 1538.9,1224 1539.7,1229.8C1540.6,1235.6 1549.7,1239.8 1549.7,1244.8C1549.7,1249.8 1542.6,1255.6 1539.7,1259.8C1536.8,1263.9 1536.4,1266.9 1532.2,1269.8C1528.1,1272.7 1521,1275.6 1514.8,1277.3C1508.5,1278.9 1501.4,1278.5 1494.8,1279.8C1488.1,1281 1481.5,1281.8 1474.8,1284.8C1468.1,1287.7 1461.5,1293.9 1454.8,1297.2C1448.2,1300.6 1439,1305.1 1434.9,1304.7C1430.7,1304.3 1431.9,1298.9 1429.9,1294.7C1427.8,1290.6 1424.4,1285.6 1422.4,1279.8C1420.3,1273.9 1419.5,1263.9 1417.4,1259.8C1415.3,1255.6 1412.4,1258.9 1409.9,1254.8C1407.4,1250.6 1404.1,1240.6 1402.4,1234.8C1400.7,1229 1402.8,1223.2 1399.9,1219.8C1397,1216.5 1391.1,1214.8 1384.9,1214.8C1378.7,1214.8 1368.7,1219.8 1362.4,1219.8C1356.2,1219.8 1350.4,1219 1347.4,1214.8C1344.5,1210.7 1345,1201.5 1345,1194.9C1345,1188.2 1349.5,1179 1347.4,1174.9C1345.4,1170.7 1337.9,1170.7 1332.5,1169.9C1327.1,1169 1321.2,1168.6 1315,1169.9C1308.7,1171.1 1295,1177.4 1295,1177.4L1295,1055Z" fill="#def0ed"/>
<path d="M1325,1334.7C1328.3,1331.4 1341.6,1330.5 1349.9,1329.7C1358.3,1328.9 1366.6,1330.5 1374.9,1329.7C1383.2,1328.9 1390.7,1326.4 1399.9,1324.7C1409,1323 1421.5,1321.4 1429.9,1319.7C1438.2,1318 1442.3,1317.2 1449.8,1314.7C1457.3,1312.2 1468.1,1307.6 1474.8,1304.7C1481.5,1301.8 1485.6,1298.1 1489.8,1297.2C1494,1296.4 1499.8,1297.7 1499.8,1299.7C1499.8,1301.8 1494.8,1306.4 1489.8,1309.7C1484.8,1313.1 1476.5,1316.4 1469.8,1319.7C1463.2,1323 1455.7,1326.8 1449.8,1329.7C1444,1332.6 1439.8,1334.3 1434.9,1337.2C1429.9,1340.1 1425.7,1343.4 1419.9,1347.2C1414,1350.9 1406.5,1355.1 1399.9,1359.7C1393.2,1364.2 1384.9,1370.5 1379.9,1374.7C1374.9,1378.8 1374.1,1383.4 1369.9,1384.6C1365.8,1385.9 1359.9,1385.5 1354.9,1382.1C1349.9,1378.8 1344.1,1370.1 1340,1364.7C1335.8,1359.3 1332.5,1354.7 1330,1349.7C1327.5,1344.7 1321.6,1338 1325,1334.7Z" fill="#def0ed"/>
<path d="M1295,1364.7C1295,1364.7 1317.5,1366.3 1325,1369.7C1332.5,1373 1335.8,1380.5 1340,1384.6C1344.1,1388.8 1349.1,1390.5 1349.9,1394.6C1350.8,1398.8 1349.1,1406.3 1345,1409.6C1340.8,1412.9 1330.8,1412.9 1325,1414.6C1319.1,1416.3 1312.5,1415.4 1310,1419.6C1307.5,1423.8 1307.5,1432.9 1310,1439.6C1312.5,1446.2 1320.8,1452.9 1325,1459.6C1329.1,1466.2 1335,1472.9 1335,1479.5C1335,1486.2 1329.1,1494.5 1325,1499.5C1320.8,1504.5 1315,1507 1310,1509.5C1305,1512 1295,1514.5 1295,1514.5L1295,1364.7Z" fill="#def0ed"/>
<path d="M1259.5,1493.3C1252.8,1495.6 1271.7,1502.8 1279.5,1503.3C1287.2,1503.9 1299.4,1498.9 1306.1,1496.7C1312.7,1494.5 1327.2,1490.6 1319.4,1490C1311.6,1489.5 1266.1,1491.1 1259.5,1493.3Z" fill="#def0ed"/>
<path d="M926.5,1779.7C926.8,1777.8 931.5,1780.8 933.2,1783C934.8,1785.2 936.8,1791.1 936.5,1793C936.2,1795 933.2,1796.9 931.5,1794.7C929.8,1792.5 926.2,1781.6 926.5,1779.7Z" fill="#def0ed"/>
<path d="M795,1095C808.3,1097.5 810.8,1105.4 819.9,1110C829.1,1114.6 841.6,1117.9 849.9,1122.5C858.2,1127.1 864.5,1131.2 869.9,1137.5C875.3,1143.7 881.5,1152 882.4,1159.9C883.2,1167.8 877.4,1176.6 874.9,1184.9C872.4,1193.2 869.5,1201.6 867.4,1209.9C865.3,1218.2 863.6,1226.5 862.4,1234.9C861.1,1243.2 859.5,1252.3 859.9,1259.8C860.3,1267.3 864.9,1273.1 864.9,1279.8C864.9,1286.5 862,1292.3 859.9,1299.8C857.8,1307.3 854.9,1316.4 852.4,1324.8C849.9,1333.1 847,1341.4 844.9,1349.7C842.8,1358 841.6,1366.4 839.9,1374.7C838.2,1383 836.6,1391.8 834.9,1399.7C833.2,1407.6 832,1414.7 829.9,1422.1C827.8,1429.6 825.3,1438.8 822.4,1444.6C819.5,1450.4 817.4,1453.8 812.4,1457.1C807.4,1460.4 799.5,1462.9 792.5,1464.6C785.4,1466.3 776.2,1463.8 770,1467.1C763.7,1470.4 757.9,1477.5 755,1484.6C752.1,1491.7 751.7,1502.1 752.5,1509.5C753.3,1517 760.4,1522.9 760,1529.5C759.6,1536.2 753.3,1545.3 750,1549.5C746.7,1553.7 740,1554.5 740,1554.5L740,1095C740,1095 781.6,1092.5 795,1095Z" fill="#def0ed"/>
<path d="M683.1,1753.3C683.1,1753.3 678.7,1780 676.4,1793.3C674.2,1806.6 669.8,1822.2 669.8,1833.3C669.8,1844.4 670.9,1856 676.4,1859.9C682,1863.8 695.3,1854.9 703.1,1856.6C710.8,1858.2 718.6,1863.8 723.1,1869.9C727.5,1876 725.8,1887.1 729.7,1893.2C733.6,1899.3 744.1,1899.8 746.4,1906.5C748.6,1913.2 746.9,1925.4 743,1933.1C739.1,1940.9 729.7,1948.7 723.1,1953.1C716.4,1957.6 707.5,1954.2 703.1,1959.8C698.6,1965.3 697,1977.5 696.4,1986.4C695.9,1995.3 702,2006.4 699.7,2013.1C697.5,2019.7 684.8,2019.7 683.1,2026.4C681.4,2033 689.8,2045.2 689.8,2053C689.8,2060.8 680.9,2068.5 683.1,2073C685.3,2077.4 696.4,2075.2 703.1,2079.6C709.7,2084.1 718.1,2092.4 723.1,2099.6C728,2106.8 726.4,2118.5 733,2122.9C739.7,2127.4 760.2,2121.3 763,2126.3C765.8,2131.3 756.4,2146.2 749.7,2152.9C743,2159.6 730.8,2159.6 723.1,2166.2C715.3,2172.9 699.7,2186.8 703.1,2192.9C706.4,2199 726.4,2201.2 743,2202.8C759.7,2204.5 803,2202.8 803,2202.8L936.2,2176.2L1102.6,2176.2L1102.6,2445.9L436.7,2445.9L436.7,1753.3L683.1,1753.3Z" fill="#def0ed"/>
<path d="M789.6,2086.3C794.6,2081.3 814.1,2079.1 816.3,2083C818.5,2086.9 808,2104.6 803,2109.6C798,2114.6 788.5,2116.8 786.3,2112.9C784.1,2109.1 784.7,2091.3 789.6,2086.3Z" fill="#def0ed"/>
<path d="M749.7,1896.5C753.6,1894.3 771.3,1892.1 776.3,1893.2C781.3,1894.3 783.5,1901 779.7,1903.2C775.8,1905.4 758,1907.6 753,1906.5C748,1905.4 745.8,1898.7 749.7,1896.5Z" fill="#def0ed"/>
<path d="M1182.5,1349.8C1186.2,1344.8 1192.9,1342.3 1199.9,1339.8C1207,1337.3 1217.4,1334.8 1224.9,1334.8C1232.4,1334.8 1239.9,1337.3 1244.9,1339.8C1249.9,1342.3 1249.9,1348.5 1254.9,1349.8C1259.9,1351 1269,1349.8 1274.9,1347.3C1280.7,1344.8 1284.9,1338.5 1289.8,1334.8C1294.8,1331.1 1299,1325.6 1304.8,1324.8C1310.7,1324 1319.8,1325.6 1324.8,1329.8C1329.8,1334 1332.3,1343.5 1334.8,1349.8C1337.3,1356 1335.6,1363.1 1339.8,1367.3C1344,1371.4 1356.9,1369.8 1359.8,1374.8C1362.7,1379.7 1360.6,1391.8 1357.3,1397.2C1353.9,1402.6 1345.2,1404.7 1339.8,1407.2C1334.4,1409.7 1331.5,1412.2 1324.8,1412.2C1318.1,1412.2 1308.2,1406.8 1299.8,1407.2C1291.5,1407.6 1279.9,1411.4 1274.9,1414.7C1269.9,1418 1274,1425.9 1269.9,1427.2C1265.7,1428.4 1257.4,1423.9 1249.9,1422.2C1242.4,1420.5 1233.2,1418.9 1224.9,1417.2C1216.6,1415.5 1204.5,1415.1 1199.9,1412.2C1195.4,1409.3 1200.4,1403.5 1197.4,1399.7C1194.5,1396 1185.8,1394.7 1182.5,1389.7C1179.1,1384.7 1177.5,1376.4 1177.5,1369.8C1177.5,1363.1 1178.7,1354.8 1182.5,1349.8Z" fill="#def0ed"/>
<path d="M1199.9,1414.7C1204.1,1411.4 1216.6,1418 1224.9,1419.7C1233.2,1421.4 1242.4,1423 1249.9,1424.7C1257.4,1426.4 1265.7,1430.9 1269.9,1429.7C1274,1428.4 1269.9,1420.5 1274.9,1417.2C1279.9,1413.9 1291.5,1410.1 1299.8,1409.7C1308.2,1409.3 1319,1412.2 1324.8,1414.7C1330.6,1417.2 1334.8,1420.5 1334.8,1424.7C1334.8,1428.9 1324.8,1433.9 1324.8,1439.7C1324.8,1445.5 1334.8,1453 1334.8,1459.7C1334.8,1466.3 1329.8,1475.9 1324.8,1479.6C1319.8,1483.4 1310.7,1483.8 1304.8,1482.1C1299,1480.5 1294.8,1474.2 1289.8,1469.6C1284.9,1465.1 1280.7,1458 1274.9,1454.7C1269,1451.3 1259.9,1451.8 1254.9,1449.7C1249.9,1447.6 1249.9,1443.8 1244.9,1442.2C1239.9,1440.5 1232.4,1440.1 1224.9,1439.7C1217.4,1439.3 1204.1,1443.8 1199.9,1439.7C1195.8,1435.5 1195.8,1418 1199.9,1414.7Z" fill="#def0ed"/>
<path d="M646.7,226.7C661.1,211.1 718.5,223.9 733.2,226.7C747.9,229.4 729.4,240.8 734.9,243.3C740.5,245.8 756.3,242.5 766.5,241.7C776.8,240.8 788.2,236.7 796.5,238.3C804.8,240 809.3,248.3 816.5,251.6C823.7,255 837,256.6 839.8,258.3C842.6,260 837,261.4 833.1,261.6C829.2,261.9 821.5,260 816.5,260C811.5,260 806.5,259.7 803.2,261.6C799.8,263.6 799.8,270.5 796.5,271.6C793.2,272.7 788.2,268.6 783.2,268.3C778.2,268 771.5,270 766.5,270C761.5,270 758.2,269.1 753.2,268.3C748.2,267.5 742.1,265 736.6,265C731,265 724.9,266.9 719.9,268.3C714.9,269.7 711,271.1 706.6,273.3C702.2,275.5 697.7,278.6 693.3,281.6C688.8,284.7 684.4,288.3 680,291.6C675.5,294.9 670.5,298.3 666.6,301.6C662.8,304.9 660,308.5 656.7,311.6C653.3,314.6 648.3,334.1 646.7,319.9C645,305.8 632.2,242.2 646.7,226.7Z" fill="#def0ed"/>
<path d="M916.4,261.6C910.3,263.6 923,269.4 923,273.3C923,277.2 916.9,279.4 916.4,284.9C915.8,290.5 920.8,301.3 919.7,306.6C918.6,311.9 913.6,313.8 909.7,316.6C905.8,319.3 900.8,321 896.4,323.2C892,325.5 885.9,327.7 883.1,329.9C880.3,332.1 877,336 879.7,336.5C882.5,337.1 893.6,333.2 899.7,333.2C905.8,333.2 910.8,337.1 916.4,336.5C921.9,336 925.8,331 933,329.9C940.2,328.8 955.2,341.3 959.7,329.9C964.1,318.5 966.9,273 959.7,261.6C952.4,250.3 922.5,259.7 916.4,261.6Z" fill="#def0ed"/>
<path d="M843.1,260C843.1,257.7 854.2,249.4 858.1,246.6C862,243.9 859.5,244.2 866.4,243.3C873.4,242.5 891.4,241.1 899.7,241.7C908,242.2 914.7,244.2 916.4,246.6C918,249.1 913.6,253.9 909.7,256.6C905.8,259.4 898.9,263 893.1,263.3C887.2,263.6 880.6,258.9 874.8,258.3C868.9,257.7 863.4,259.7 858.1,260C852.8,260.2 843.1,262.2 843.1,260Z" fill="#def0ed"/>
<path d="M783.2,356.5C786.5,352.9 789.3,349.3 793.2,346.5C797.1,343.8 802.1,341.5 806.5,339.9C810.9,338.2 815.4,337.7 819.8,336.5C824.3,335.4 828.7,332.9 833.1,333.2C837.6,333.5 842,338.2 846.5,338.2C850.9,338.2 855.3,334.6 859.8,333.2C864.2,331.8 869.2,329.3 873.1,329.9C877,330.4 882,333.8 883.1,336.5C884.2,339.3 877,346.5 879.7,346.5C882.5,346.5 893.6,337.7 899.7,336.5C905.8,335.4 910.8,340.4 916.4,339.9C921.9,339.3 925.8,334.3 933,333.2C940.2,332.1 959.7,333.2 959.7,333.2L959.7,446.4C959.7,446.4 950.2,448.6 946.3,451.4C942.5,454.2 938.6,458.9 936.4,463.1C934.1,467.2 935.2,473.6 933,476.4C930.8,479.2 928.6,476.4 923,479.7C917.5,483.1 904.7,491.9 899.7,496.4C894.7,500.8 896.4,504.1 893.1,506.4C889.7,508.6 884.2,508 879.7,509.7C875.3,511.4 869.2,513 866.4,516.4C863.7,519.7 865.9,526.3 863.1,529.7C860.3,533 854.8,534.1 849.8,536.3C844.8,538.5 837.6,540.8 833.1,543C828.7,545.2 827,547.7 823.1,549.6C819.3,551.6 813.7,554.1 809.8,554.6C805.9,555.2 802.1,554.9 799.8,553C797.6,551 796.5,546.9 796.5,543C796.5,539.1 798.2,533.6 799.8,529.7C801.5,525.8 803.7,522.5 806.5,519.7C809.3,516.9 813.7,515.8 816.5,513C819.3,510.2 820.4,505.8 823.1,503C825.9,500.3 829.8,498.6 833.1,496.4C836.5,494.2 840.9,492.5 843.1,489.7C845.3,486.9 848.1,482.2 846.5,479.7C844.8,477.2 838.1,475.3 833.1,474.7C828.1,474.2 820.4,477.2 816.5,476.4C812.6,475.6 812.6,472 809.8,469.7C807,467.5 802.6,465.3 799.8,463.1C797.1,460.9 796,458.1 793.2,456.4C790.4,454.8 786,454.8 783.2,453.1C780.4,451.4 779.3,447.5 776.5,446.4C773.8,445.3 769.9,447.3 766.5,446.4C763.2,445.6 759.3,444.2 756.5,441.4C753.8,438.7 751.3,433.9 749.9,429.8C748.5,425.6 747.7,420.9 748.2,416.5C748.8,412 751.3,407.6 753.2,403.1C755.2,398.7 757.7,393.7 759.9,389.8C762.1,385.9 764.3,383.4 766.5,379.8C768.8,376.2 770.4,372.1 773.2,368.2C776,364.3 779.9,360.1 783.2,356.5Z" fill="#def0ed"/>
<path d="M646.7,538C648.9,535.2 655.8,535.5 660,536.3C664.2,537.2 670,540.2 671.6,543C673.3,545.8 672.5,550.8 670,553C667.5,555.2 660.5,556.3 656.7,556.3C652.8,556.3 648.3,556 646.7,553C645,549.9 644.5,540.8 646.7,538Z" fill="#def0ed"/>
<circle cx="748.2" cy="460.6" r="2.5" fill="#def0ed"/>
<path d="M377.8,278.9C383.4,277.8 402.2,279.4 411.1,282.2C420,285 426.1,290.5 431.1,295.5C436.1,300.5 440,306.6 441.1,312.2C442.2,317.7 440,326.6 437.7,328.8C435.5,331 431.1,329.4 427.7,325.5C424.4,321.6 422.8,311.1 417.8,305.5C412.8,300 404.4,295 397.8,292.2C391.1,289.4 381.1,291.1 377.8,288.9C374.5,286.6 372.3,280 377.8,278.9Z" fill="#a3dbd3"/>
<path d="M324.5,318.8C328.4,313.8 348.9,312.7 354.5,315.5C360,318.3 361.7,330.5 357.8,335.5C353.9,340.5 336.7,348.2 331.2,345.5C325.6,342.7 320.6,323.8 324.5,318.8Z" fill="#a3dbd3"/>
<path d="M913.9,335.5C917.2,332.7 931.1,329.9 937.2,332.2C943.3,334.4 949.4,342.1 950.5,348.8C951.6,355.5 947.7,369.9 943.8,372.1C940,374.3 931.6,366 927.2,362.1C922.8,358.2 919.4,353.2 917.2,348.8C915,344.4 910.5,338.3 913.9,335.5Z" fill="#a3dbd3"/>
<path d="M1215.2,408.7C1217.4,406 1227.7,411.5 1233.5,415.4C1239.4,419.3 1249.6,428.2 1250.2,432C1250.7,435.9 1241.9,438.7 1236.9,438.7C1231.9,438.7 1223.8,437 1220.2,432C1216.6,427 1213,411.5 1215.2,408.7Z" fill="#a3dbd3"/>
<path d="M1416.7,1096C1421.1,1091.6 1435.5,1088.3 1443.3,1089.4C1451.1,1090.5 1457.7,1096 1463.3,1102.7C1468.8,1109.4 1475.5,1122.1 1476.6,1129.3C1477.7,1136.6 1474.4,1143.8 1469.9,1146C1465.5,1148.2 1456.6,1145.4 1450,1142.7C1443.3,1139.9 1435.5,1133.8 1430,1129.3C1424.4,1124.9 1418.9,1121.6 1416.7,1116C1414.4,1110.5 1412.2,1100.5 1416.7,1096Z" fill="#a3dbd3"/>
<path d="M1503.2,1056.1C1507.1,1051.6 1517.7,1050.5 1523.2,1052.8C1528.8,1055 1535.4,1063.3 1536.5,1069.4C1537.6,1075.5 1533.8,1084.9 1529.9,1089.4C1526,1093.8 1518.2,1097.7 1513.2,1096C1508.2,1094.4 1501.6,1086.1 1499.9,1079.4C1498.2,1072.7 1499.3,1060.5 1503.2,1056.1Z" fill="#a3dbd3"/>
<path d="M1453.3,1162.6C1456.1,1157.1 1469.4,1154.9 1476.6,1156C1483.8,1157.1 1495.5,1163.2 1496.6,1169.3C1497.7,1175.4 1489.4,1189.3 1483.3,1192.6C1477.1,1195.9 1464.9,1194.3 1459.9,1189.3C1455,1184.3 1450.5,1168.2 1453.3,1162.6Z" fill="#a3dbd3"/>
<path d="M1083.7,953.1C1084.8,947.6 1091.5,947 1097,946.5C1102.6,945.9 1113.1,945.9 1117,949.8C1120.9,953.7 1122.5,965.3 1120.3,969.8C1118.1,974.2 1108.7,974.8 1103.7,976.4C1098.7,978.1 1093.7,983.6 1090.4,979.8C1087,975.9 1082.6,958.7 1083.7,953.1Z" fill="#a3dbd3"/>
<path d="M1303.5,1132.9C1305.7,1127.9 1317.9,1124.6 1323.4,1126.3C1329,1127.9 1335.6,1137.4 1336.7,1142.9C1337.9,1148.5 1334.5,1157.3 1330.1,1159.6C1325.6,1161.8 1314.5,1160.7 1310.1,1156.2C1305.7,1151.8 1301.2,1137.9 1303.5,1132.9Z" fill="#a3dbd3"/>
<path d="M1270.2,1053C1270.7,1048 1282.4,1041.9 1286.8,1043C1291.2,1044.1 1297.3,1054.7 1296.8,1059.7C1296.2,1064.7 1287.9,1074.1 1283.5,1073C1279,1071.9 1269.6,1058 1270.2,1053Z" fill="#a3dbd3"/>
<path d="M1313.4,1112.9C1314.5,1109.6 1326.2,1105.2 1330.1,1106.3C1334,1107.4 1337.9,1116.3 1336.7,1119.6C1335.6,1122.9 1327.3,1127.4 1323.4,1126.3C1319.5,1125.2 1312.3,1116.3 1313.4,1112.9Z" fill="#a3dbd3"/>
<path d="M1412.4,1095C1413.2,1089.6 1422.8,1085 1429.9,1082.5C1436.9,1080 1448.2,1077.9 1454.8,1080C1461.5,1082.1 1465.7,1089.1 1469.8,1095C1474,1100.8 1476.9,1108.7 1479.8,1114.9C1482.7,1121.2 1488.1,1127.4 1487.3,1132.4C1486.5,1137.4 1478.6,1144.1 1474.8,1144.9C1471.1,1145.7 1469,1139.5 1464.8,1137.4C1460.7,1135.3 1454.8,1134.1 1449.8,1132.4C1444.8,1130.8 1439,1130.3 1434.9,1127.4C1430.7,1124.5 1428.6,1120.4 1424.9,1114.9C1421.1,1109.5 1411.5,1100.4 1412.4,1095Z" fill="#a3dbd3"/>
<path d="M1509.8,1067.5C1511.9,1064.6 1519.8,1062.1 1524.8,1062.5C1529.7,1062.9 1537.7,1065.8 1539.7,1070C1541.8,1074.2 1540.2,1084.1 1537.2,1087.5C1534.3,1090.8 1526.4,1091.2 1522.3,1090C1518.1,1088.7 1514.3,1083.7 1512.3,1080C1510.2,1076.2 1507.7,1070.4 1509.8,1067.5Z" fill="#a3dbd3"/>
<path d="M1454.8,1177.4C1457.3,1171.5 1468.1,1168.6 1474.8,1167.4C1481.5,1166.1 1491.5,1167 1494.8,1169.9C1498.1,1172.8 1496.9,1180.7 1494.8,1184.9C1492.7,1189 1485.6,1191.5 1482.3,1194.9C1479,1198.2 1478.6,1203.6 1474.8,1204.8C1471.1,1206.1 1463.2,1206.9 1459.8,1202.3C1456.5,1197.8 1452.3,1183.2 1454.8,1177.4Z" fill="#a3dbd3"/>
<path d="M1302.5,1132.4C1305.4,1127 1317.5,1125.8 1322.5,1127.4C1327.5,1129.1 1332,1137.4 1332.5,1142.4C1332.9,1147.4 1329.6,1154.5 1325,1157.4C1320.4,1160.3 1308.7,1164.1 1305,1159.9C1301.2,1155.7 1299.6,1137.8 1302.5,1132.4Z" fill="#a3dbd3"/>
<path d="M1547.2,1189.9C1550.1,1185.7 1556.8,1182.4 1559.7,1184.9C1562.6,1187.4 1564.7,1199 1564.7,1204.8C1564.7,1210.7 1562.6,1216.5 1559.7,1219.8C1556.8,1223.2 1550.1,1226.5 1547.2,1224.8C1544.3,1223.2 1542.2,1215.7 1542.2,1209.8C1542.2,1204 1544.3,1194 1547.2,1189.9Z" fill="#a3dbd3"/>
<path d="M659.8,1923.2C664,1919.8 677,1918.2 683.1,1919.8C689.2,1921.5 696.4,1928.7 696.4,1933.1C696.4,1937.6 688.6,1943.1 683.1,1946.5C677.5,1949.8 667.3,1954.2 663.1,1953.1C659,1952 658.7,1944.8 658.1,1939.8C657.6,1934.8 655.6,1926.5 659.8,1923.2Z" fill="#a3dbd3"/>
<path d="M676.4,2023C677.5,2019.2 686.4,2023 689.8,2026.4C693.1,2029.7 697.5,2039.1 696.4,2043C695.3,2046.9 686.4,2053 683.1,2049.7C679.8,2046.4 675.3,2026.9 676.4,2023Z" fill="#a3dbd3"/>
<path d="M789.8,248.3C789.8,246.6 796,244.2 799.8,245C803.7,245.8 809.3,250.8 813.2,253.3C817,255.8 823.1,258.9 823.1,260C823.1,261.1 817,260.8 813.2,260C809.3,259.1 803.7,256.9 799.8,255C796,253 789.8,250 789.8,248.3Z" fill="#a3dbd3"/>
<path d="M841.5,343.2C844,340.4 851.2,336.5 854.8,336.5C858.4,336.5 862.3,339.9 863.1,343.2C863.9,346.5 860.6,351 859.8,356.5C858.9,362.1 859.8,373.7 858.1,376.5C856.4,379.3 851.7,376 849.8,373.2C847.8,370.4 848.1,363.2 846.5,359.9C844.8,356.5 840.6,356 839.8,353.2C839,350.4 839,346 841.5,343.2Z" fill="#a3dbd3"/>
<path d="M913,336.5C915.3,334.1 928,333.2 933,334.9C938,336.5 943,342.9 943,346.5C943,350.1 936.9,356 933,356.5C929.1,357.1 923,353.2 919.7,349.9C916.4,346.5 910.8,339 913,336.5Z" fill="#a3dbd3"/>
<path d="M926.4,356.5C928.6,354.6 939.1,353.2 943,354.9C946.9,356.5 950.2,363.5 949.7,366.5C949.1,369.6 943,373.2 939.7,373.2C936.4,373.2 931.9,369.3 929.7,366.5C927.5,363.7 924.1,358.5 926.4,356.5Z" fill="#a3dbd3"/>
<path d="M549.3,228.9C552.9,226.9 568.7,226.6 572.6,228.3C576.5,229.9 574.5,235.8 572.6,238.9C570.6,242.1 564.5,247 560.9,247.2C557.3,247.5 552.9,243.6 550.9,240.6C549,237.5 545.7,231 549.3,228.9Z" fill="#f5efdc"/>
<path d="M484.4,332.2C488.8,329.9 492.1,333.3 497.7,335.5C503.2,337.7 512.9,339.9 517.6,345.5C522.4,351 525.1,360.5 526,368.8C526.8,377.1 522.4,387.6 522.6,395.4C522.9,403.2 528.5,408.7 527.6,415.4C526.8,422.1 520.4,429.3 517.6,435.4C514.9,441.5 514.3,446.5 511,452C507.7,457.6 501,462.6 497.7,468.7C494.3,474.8 494.3,482.5 491,488.6C487.7,494.8 482.1,499.7 477.7,505.3C473.3,510.8 468.8,517 464.4,521.9C459.9,526.9 454.9,529.7 451.1,535.3C447.2,540.8 443.3,549.7 441.1,555.2C438.8,560.8 439.4,560.8 437.7,568.6C436.1,576.3 432.7,590.8 431.1,601.9C429.4,613 430,625.2 427.7,635.2C425.5,645.1 420.5,652.9 417.8,661.8C415,670.7 413.3,679.5 411.1,688.4C408.9,697.3 406.7,707.9 404.4,715.1C402.2,722.3 396.7,728.4 397.8,731.7C398.9,735 405.5,732.3 411.1,735C416.6,737.8 424.4,742.8 431.1,748.4C437.7,753.9 445.5,760.6 451.1,768.3C456.6,776.1 460.5,786.1 464.4,795C468.3,803.9 471.6,811.6 474.4,821.6C477.1,831.6 496,849.4 481,854.9C466,860.5 402.8,861.6 384.5,854.9C366.1,848.3 375.6,824.9 371.1,815C366.7,805 358.9,802.7 357.8,795C356.7,787.2 364.5,777.2 364.5,768.3C364.5,759.5 358.4,749.5 357.8,741.7C357.3,733.9 358.9,730.6 361.2,721.7C363.4,712.8 368.4,699.5 371.1,688.4C373.9,677.3 375.6,665.1 377.8,655.1C380,645.1 383.4,637.4 384.5,628.5C385.6,619.6 385,609.6 384.5,601.9C383.9,594.1 380,588 381.1,581.9C382.2,575.8 386.7,571.3 391.1,565.2C395.6,559.1 402.2,551.4 407.8,545.3C413.3,539.1 419.4,534.2 424.4,528.6C429.4,523.1 433.3,518.1 437.7,512C442.2,505.9 446.6,499.2 451.1,492C455.5,484.8 460.5,476.4 464.4,468.7C468.3,460.9 472.1,453.1 474.4,445.4C476.6,437.6 478.2,429.3 477.7,422.1C477.1,414.8 472.7,409.8 471,402.1C469.4,394.3 467.7,384.3 467.7,375.4C467.7,366.6 468.3,356 471,348.8C473.8,341.6 479.9,334.4 484.4,332.2Z" fill="#f5efdc"/>
<path d="M578.9,315.7 573.8,318.5 570.3,323.9 566.2,346.5 558.9,367.1 541.7,393.4 527.7,408.7 523.5,417.7 522.3,425.5 522.7,436.1 526.9,458.8 531.7,467.4 535.1,470.2 539.1,471.6 544.3,471.7 547.7,470.7 555.3,465.3 578.4,435.4 600.4,413.7 609.8,402.8 616.7,392.8 621.9,379.7 622.9,371.7 621.9,365.3 619,359.9 609.7,350.5 605.2,335.2 602.7,330.2 596.9,323 590.1,317.4 584.5,315.3Z" fill="#f5efdc"/>
<path d="M531.5,456 526.9,457.1 520.5,462.1 489.4,498.2 441.2,546.1 439,549.4 437.9,553.5 438.4,557.2 441.3,561 445.5,562.9 449.7,562.6 456.9,559 465,553.1 523.3,495.1 536.9,480.4 543.1,471.2 543.6,465.5 542.2,462.2 539.4,459 536.2,457.1Z" fill="#f5efdc"/>
<path d="M600.3,321.3 598.5,325.4 598.2,329.3 599.3,333.4 601.9,336.7 605.5,338.7 609.5,339.1 617.4,336.1 653.6,311.9 679,291.9 697.2,276.2 703.3,270 706.3,265 706.9,260.4 705.4,255.8 701.5,252.6 696.6,252 691.2,253.5 683.3,257.7 656.3,279.4 616.6,306.6 604.7,316.3Z" fill="#f5efdc"/>
<path d="M690.8,218.9C696.9,217.8 710.8,222 717.4,225.6C724.1,229.2 730.7,237 730.7,240.6C730.7,244.2 723,247.5 717.4,247.2C711.9,247 703.6,241.4 697.5,238.9C691.3,236.4 681.9,235.6 680.8,232.3C679.7,228.9 684.7,220.1 690.8,218.9Z" fill="#f5efdc"/>
<path d="M292.9,293.9C300.4,291.9 329.8,296.9 337.8,298.9C345.9,300.8 343.4,303.9 341.2,305.5C339,307.2 332.6,308 324.5,308.8C316.5,309.7 298.2,313 292.9,310.5C287.6,308 285.4,295.8 292.9,293.9Z" fill="#f5efdc"/>
<path d="M862.3,253.9C866.2,252.7 882.8,251.5 887.2,252.2C891.7,253 892.8,257 888.9,258.2C885,259.5 868.4,260.3 863.9,259.6C859.5,258.8 858.4,255.1 862.3,253.9Z" fill="#f5efdc"/>
<path d="M960.5,368.8C965.5,364.9 976.6,363.2 983.8,365.5C991,367.7 997.7,374.9 1003.8,382.1C1009.9,389.3 1018.2,401 1020.4,408.7C1022.6,416.5 1019.9,424.8 1017.1,428.7C1014.3,432.6 1007.7,434.3 1003.8,432C999.9,429.8 998.2,417.9 993.8,415.4C989.4,412.9 983.8,421.5 977.1,417.1C970.5,412.6 956.6,396.8 953.8,388.8C951.1,380.7 955.5,372.7 960.5,368.8Z" fill="#f5efdc"/>
<path d="M860.6,462C864.8,455.9 882,457 887.2,460.3C892.5,463.7 892.8,475.3 892.2,482C891.7,488.6 888.9,497.8 883.9,500.3C878.9,502.8 866.2,503.4 862.3,497C858.4,490.6 856.4,468.1 860.6,462Z" fill="#f5efdc"/>
<path d="M1147,538.6C1150.8,534.2 1161.4,533 1166.9,535.3C1172.5,537.5 1177.5,543.6 1180.3,551.9C1183,560.2 1180.3,576.9 1183.6,585.2C1186.9,593.5 1196.1,596.9 1200.2,601.9C1204.4,606.9 1210.2,611.6 1208.6,615.2C1206.9,618.8 1197.2,622.9 1190.2,623.5C1183.3,624.1 1173.6,621 1166.9,618.5C1160.3,616 1154.7,613 1150.3,608.5C1145.8,604.1 1141.4,599.6 1140.3,591.9C1139.2,584.1 1142.5,570.8 1143.6,561.9C1144.7,553 1143.1,543 1147,538.6Z" fill="#f5efdc"/>
<path d="M1270.2,765C1272.4,761.7 1282.9,758.4 1290.1,758.4C1297.3,758.4 1307.6,760.6 1313.4,765C1319.3,769.5 1325.1,781.1 1325.1,785C1325.1,788.9 1318.7,789.4 1313.4,788.3C1308.2,787.2 1299.6,780 1293.5,778.3C1287.4,776.7 1280.7,780.5 1276.8,778.3C1272.9,776.1 1267.9,768.3 1270.2,765Z" fill="#f5efdc"/>
<path d="M1246.8,760C1249.3,759.5 1260.4,762 1263.5,763.3C1266.5,764.7 1267.7,767.8 1265.2,768.3C1262.7,768.9 1251.6,768.1 1248.5,766.7C1245.5,765.3 1244.3,760.6 1246.8,760Z" fill="#f5efdc"/>
<path d="M947.2,365.5C949.4,354.9 959.4,364.9 960.5,368.8C961.6,372.7 951.3,380.7 953.8,388.8C956.3,396.8 972.7,411 975.5,417.1C978.3,423.2 975.2,422.9 970.5,425.4C965.8,427.9 951.1,442 947.2,432C943.3,422.1 945,376 947.2,365.5Z" fill="#f5efdc"/>
<path d="M883.1,876.7C883.1,876.7 876.5,885.5 873.1,890C869.8,894.4 866.5,899.4 863.2,903.3C859.8,907.2 853.7,910 853.2,913.3C852.6,916.6 858.2,919.4 859.8,923.3C861.5,927.2 862,932.2 863.2,936.6C864.3,941 864.3,947.1 866.5,949.9C868.7,952.7 872.6,953 876.5,953.3C880.4,953.5 885.4,951.6 889.8,951.6C894.2,951.6 898.7,952.1 903.1,953.3C907.5,954.4 912,956.6 916.4,958.2C920.9,959.9 925.9,961.3 929.7,963.2C933.6,965.2 936.4,967.7 939.7,969.9C943.1,972.1 947,975.7 949.7,976.6C952.5,977.4 954.7,976.6 956.4,974.9C958,973.2 957.5,968.5 959.7,966.6C961.9,964.6 965.8,964.4 969.7,963.2C973.6,962.1 979.1,958.8 983,959.9C986.9,961 990.2,969.9 993,969.9C995.8,969.9 996.9,963.8 999.7,959.9C1002.4,956 1008,960.5 1009.7,946.6C1011.3,932.7 1009.7,876.7 1009.7,876.7L883.1,876.7Z" fill="#f5efdc"/>
<path d="M696.7,1013.2C696.7,1013.2 702.8,1016 706.7,1018.2C710.5,1020.4 715.5,1022.9 720,1026.5C724.4,1030.1 728.9,1035.4 733.3,1039.8C737.7,1044.3 742.7,1048.7 746.6,1053.1C750.5,1057.6 753.3,1062 756.6,1066.5C759.9,1070.9 763,1075.9 766.6,1079.8C770.2,1083.7 774.4,1086.2 778.2,1089.8C782.1,1093.4 786.3,1097.8 789.9,1101.4C793.5,1105 796,1108.1 799.9,1111.4C803.8,1114.7 808.8,1118.3 813.2,1121.4C817.6,1124.5 821.5,1127.2 826.5,1129.7C831.5,1132.2 837.6,1134.2 843.2,1136.4C848.7,1138.6 854.8,1140.8 859.8,1143C864.8,1145.3 870.9,1146.4 873.1,1149.7C875.4,1153 873.1,1158 873.1,1163C873.1,1168 872.6,1174.1 873.1,1179.7C873.7,1185.2 874.8,1190.8 876.5,1196.3C878.1,1201.9 881.5,1208.5 883.1,1213C884.8,1217.4 886.5,1223 886.5,1223L696.7,1223L696.7,1013.2Z" fill="#f5efdc"/>
<path d="M1639.7,719.8C1642,715.9 1650.3,708.1 1656.4,706.5C1662.5,704.8 1673.6,707 1676.4,709.8C1679.1,712.6 1676.4,719.8 1673,723.1C1669.7,726.5 1661.4,728.7 1656.4,729.8C1651.4,730.9 1645.9,731.4 1643.1,729.8C1640.3,728.1 1637.5,723.7 1639.7,719.8Z" fill="#f5efdc"/>
<path d="M1583.1,912.9C1584.8,909 1593.1,903.5 1596.5,906.3C1599.8,909 1600.9,922.3 1603.1,929.6C1605.3,936.8 1609.8,944 1609.8,949.5C1609.8,955.1 1606.5,961.2 1603.1,962.9C1599.8,964.5 1594.2,957.9 1589.8,959.5C1585.4,961.2 1580.4,966.7 1576.5,972.8C1572.6,979 1569.3,993.4 1566.5,996.2C1563.7,998.9 1560.4,995 1559.8,989.5C1559.3,983.9 1560.4,970.1 1563.2,962.9C1565.9,955.6 1572.6,951.8 1576.5,946.2C1580.4,940.7 1585.4,935.1 1586.5,929.6C1587.6,924 1581.5,916.8 1583.1,912.9Z" fill="#f5efdc"/>
<path d="M1509.9,1139.3C1513.2,1135.4 1522.1,1134.9 1529.9,1132.7C1537.6,1130.5 1550.4,1125.5 1556.5,1126C1562.6,1126.6 1567.6,1132.7 1566.5,1136C1565.4,1139.3 1556,1143.2 1549.8,1146C1543.7,1148.8 1535.4,1149.9 1529.9,1152.6C1524.3,1155.4 1519.9,1162.1 1516.5,1162.6C1513.2,1163.2 1511,1159.9 1509.9,1156C1508.8,1152.1 1506.6,1143.2 1509.9,1139.3Z" fill="#f5efdc"/>
<path d="M1443.3,912.9C1446.3,909.6 1455.5,910.1 1456.6,912.9C1457.7,915.7 1453,926.2 1450,929.6C1446.9,932.9 1439.4,935.7 1438.3,932.9C1437.2,930.1 1440.2,916.2 1443.3,912.9Z" fill="#f5efdc"/>
<path d="M499.8,840C499.8,840 505.7,859.2 509.8,865C514,870.8 521.5,870 524.8,875C528.1,880 527.3,888.3 529.8,894.9C532.3,901.6 536.9,908.7 539.8,914.9C542.7,921.2 544.4,926.6 547.3,932.4C550.2,938.2 553.5,945.3 557.3,949.9C561,954.5 565.2,958.6 569.8,959.9C574.3,961.1 580.2,958.2 584.7,957.4C589.3,956.5 592.2,954.5 597.2,954.9C602.2,955.3 610.1,956.5 614.7,959.9C619.3,963.2 622.6,970.3 624.7,974.9C626.8,979.4 624.7,984 627.2,987.3C629.7,990.7 634.7,991.9 639.7,994.8C644.7,997.7 650.5,1002.3 657.2,1004.8C663.8,1007.3 672.6,1007.3 679.6,1009.8C686.7,1012.3 694.6,1016.5 699.6,1019.8C704.6,1023.1 706.3,1025.6 709.6,1029.8C712.9,1034 717.1,1039 719.6,1044.8C722.1,1050.6 722.1,1058.9 724.6,1064.8C727.1,1070.6 730.4,1075.6 734.6,1079.7C738.7,1083.9 743.7,1086.4 749.6,1089.7C755.4,1093.1 762.9,1096.4 769.5,1099.7C776.2,1103 782,1106.4 789.5,1109.7C797,1113 814.5,1119.7 814.5,1119.7L814.5,1359.4L649.7,1359.4L649.7,1169.6L375,840L499.8,840Z" fill="#f5efdc"/>
<path d="M819.6,1347C819.6,1347 817.1,1362.8 814.6,1372C812.1,1381.1 808.8,1392 804.6,1401.9C800.4,1411.9 796.3,1423.6 789.6,1431.9C782.9,1440.2 770.9,1444.4 764.6,1451.9C758.4,1459.4 754.6,1468.5 752.1,1476.9C749.6,1485.2 754.2,1496 749.6,1501.8C745.1,1507.7 730.9,1506 724.7,1511.8C718.4,1517.7 713.9,1527.6 712.2,1536.8C710.5,1546 715.1,1555.9 714.7,1566.8C714.3,1577.6 711.4,1591.7 709.7,1601.7C708,1611.7 706.4,1618.4 704.7,1626.7C703,1635 701.4,1643.3 699.7,1651.7C698,1660 696.4,1668.3 694.7,1676.6C693,1685 691.4,1693.3 689.7,1701.6C688,1709.9 686.4,1718.3 684.7,1726.6C683.1,1734.9 682.2,1743.2 679.7,1751.6C677.2,1759.9 672.6,1768.2 669.7,1776.5C666.8,1784.9 664.7,1793.2 662.2,1801.5C659.7,1809.8 656.8,1815.7 654.8,1826.5C652.7,1837.3 649.8,1866.4 649.8,1866.4L529.9,1866.4L529.9,1751.6L604.8,1601.7L604.8,1347L819.6,1347Z" fill="#f5efdc"/>
<path d="M850.6,913.2C851.7,906 863.4,900.4 870.6,893.2C877.8,886 886.1,876 893.9,869.9C901.7,863.8 908.3,858.2 917.2,856.6C926.1,854.9 937.2,857.7 947.2,859.9C957.2,862.1 967.7,864.3 977.1,869.9C986.6,875.4 997.1,884.9 1003.8,893.2C1010.4,901.5 1016,910.9 1017.1,919.8C1018.2,928.7 1014.9,938.7 1010.4,946.5C1006,954.2 998.2,962 990.5,966.4C982.7,970.9 972.7,974.2 963.8,973.1C954.9,972 946.1,962 937.2,959.8C928.3,957.6 919.4,960.9 910.5,959.8C901.7,958.7 891.7,957 883.9,953.1C876.1,949.2 869.5,943.1 863.9,936.5C858.4,929.8 849.5,920.4 850.6,913.2Z" fill="#f5efdc"/>
<path d="M1097,829.9C1099.2,827.7 1114.8,832.7 1123.6,836.6C1132.5,840.5 1142.5,848.2 1150.3,853.2C1158.1,858.2 1168,863.2 1170.3,866.5C1172.5,869.9 1169.2,873.8 1163.6,873.2C1158.1,872.7 1145.8,867.1 1137,863.2C1128.1,859.3 1117,855.5 1110.3,849.9C1103.7,844.4 1094.8,832.1 1097,829.9Z" fill="#f5efdc"/>
<path d="M1270.2,760C1275.1,757.2 1294.6,753.3 1303.5,756.7C1312.3,760 1321.2,773.9 1323.4,780C1325.6,786.1 1321.8,792.7 1316.8,793.3C1311.8,793.9 1300.7,786.6 1293.5,783.3C1286.2,780 1277.4,777.2 1273.5,773.3C1269.6,769.4 1265.2,762.8 1270.2,760Z" fill="#f5efdc"/>
<path d="M1383.4,1016.4C1386.7,1011.9 1396.7,1008.1 1400,1013.1C1403.3,1018 1405,1038.6 1403.3,1046.4C1401.7,1054.1 1393.9,1060.8 1390,1059.7C1386.1,1058.6 1381.1,1046.9 1380,1039.7C1378.9,1032.5 1380,1020.8 1383.4,1016.4Z" fill="#f5efdc"/>
<path d="M1366.7,1039.7C1369.5,1038 1376.1,1039.7 1376.7,1043C1377.3,1046.4 1372.8,1058 1370,1059.7C1367.3,1061.3 1360.6,1056.3 1360.1,1053C1359.5,1049.7 1363.9,1041.4 1366.7,1039.7Z" fill="#f5efdc"/>
<path d="M1000.5,999.7C1002.7,998.3 1013.8,999.7 1017.1,1001.4C1020.4,1003.1 1022.6,1008.3 1020.4,1009.7C1018.2,1011.1 1007.1,1011.4 1003.8,1009.7C1000.5,1008.1 998.2,1001.1 1000.5,999.7Z" fill="#f5efdc"/>
<path d="M1504.8,1144.9C1506.9,1140.3 1513.9,1138.2 1519.8,1137.4C1525.6,1136.6 1533.1,1140.7 1539.7,1139.9C1546.4,1139.1 1555.1,1132 1559.7,1132.4C1564.3,1132.8 1568.9,1138.7 1567.2,1142.4C1565.5,1146.2 1556,1151.1 1549.7,1154.9C1543.5,1158.6 1535.6,1161.1 1529.7,1164.9C1523.9,1168.6 1518.5,1177.4 1514.8,1177.4C1511,1177.4 1508.9,1170.3 1507.3,1164.9C1505.6,1159.5 1502.7,1149.5 1504.8,1144.9Z" fill="#f5efdc"/>
<path d="M1384.9,1105C1387,1102.9 1396.6,1100.4 1399.9,1102.5C1403.2,1104.5 1405.7,1113.7 1404.9,1117.4C1404.1,1121.2 1397.8,1125.3 1394.9,1124.9C1392,1124.5 1389.1,1118.3 1387.4,1114.9C1385.7,1111.6 1382.8,1107 1384.9,1105Z" fill="#f5efdc"/>
<path d="M1374.9,1060C1377.8,1057.9 1392,1056.3 1394.9,1057.5C1397.8,1058.8 1395.3,1065.4 1392.4,1067.5C1389.5,1069.6 1380.3,1071.2 1377.4,1070C1374.5,1068.7 1372,1062.1 1374.9,1060Z" fill="#f5efdc"/>
<path d="M1429.9,1292.2C1431.5,1290.6 1439.8,1292.9 1442.3,1294.7C1444.8,1296.6 1446.5,1301.8 1444.8,1303.5C1443.2,1305.1 1434.9,1306.6 1432.4,1304.7C1429.9,1302.9 1428.2,1293.9 1429.9,1292.2Z" fill="#f5efdc"/>
<path d="M1352.4,1082.5C1354.1,1080.4 1364.5,1078.7 1367.4,1080C1370.3,1081.2 1371.6,1087.9 1369.9,1090C1368.3,1092 1360.4,1093.7 1357.4,1092.5C1354.5,1091.2 1350.8,1084.6 1352.4,1082.5Z" fill="#f5efdc"/>
<path d="M1307.5,1472C1310,1468.7 1320.8,1467.9 1325,1469.5C1329.1,1471.2 1333.3,1477.9 1332.5,1482C1331.6,1486.2 1323.7,1493.3 1320,1494.5C1316.2,1495.8 1312.1,1493.3 1310,1489.5C1307.9,1485.8 1305,1475.4 1307.5,1472Z" fill="#f5efdc"/>
<path d="M1305,1517C1306.7,1514.5 1315.8,1512.8 1317.5,1514.5C1319.1,1516.2 1316.6,1524.5 1315,1527C1313.3,1529.5 1309.2,1531.1 1307.5,1529.5C1305.8,1527.8 1303.3,1519.5 1305,1517Z" fill="#f5efdc"/>
<path d="M787.5,1095C799.5,1097.9 802.9,1107.1 812.4,1112.5C822,1117.9 836.2,1122.5 844.9,1127.5C853.6,1132.5 859.9,1136.2 864.9,1142.5C869.9,1148.7 874.4,1157 874.9,1164.9C875.3,1172.8 869.9,1181.6 867.4,1189.9C864.9,1198.2 862,1206.5 859.9,1214.9C857.8,1223.2 856.1,1231.5 854.9,1239.8C853.6,1248.2 852,1257.3 852.4,1264.8C852.8,1272.3 857.4,1277.3 857.4,1284.8C857.4,1292.3 854.5,1301.4 852.4,1309.8C850.3,1318.1 847.4,1326.4 844.9,1334.7C842.4,1343.1 839.5,1351.4 837.4,1359.7C835.3,1368 834.5,1376.4 832.4,1384.7C830.3,1393 827.4,1401.8 824.9,1409.7C822.4,1417.6 820.3,1425.5 817.4,1432.1C814.5,1438.8 812,1445.5 807.4,1449.6C802.9,1453.8 797,1455.4 790,1457.1C782.9,1458.8 773.3,1457.9 765,1459.6C756.7,1461.3 740,1467.1 740,1467.1L740,1095C740,1095 775.4,1092.1 787.5,1095Z" fill="#f5efdc"/>
<path d="M656.5,1753.3C656.5,1753.3 660.9,1781.1 659.8,1793.3C658.7,1805.5 652.6,1814.4 649.8,1826.6C647,1838.8 645.4,1854.3 643.1,1866.5C640.9,1878.8 639.3,1889.9 636.5,1899.8C633.7,1909.8 627.6,1916.5 626.5,1926.5C625.4,1936.5 628.2,1948.7 629.8,1959.8C631.5,1970.9 635.4,1982 636.5,1993.1C637.6,2004.2 638.1,2015.3 636.5,2026.4C634.8,2037.5 626.5,2050.8 626.5,2059.7C626.5,2068.5 633.7,2071.9 636.5,2079.6C639.3,2087.4 642.6,2097.4 643.1,2106.3C643.7,2115.2 642,2125.2 639.8,2132.9C637.6,2140.7 628.2,2146.8 629.8,2152.9C631.5,2159 643.1,2163.4 649.8,2169.5C656.5,2175.7 661.5,2185.1 669.8,2189.5C678.1,2194 687.5,2194 699.7,2196.2C712,2198.4 725.8,2201.7 743,2202.8C760.2,2204 803,2202.8 803,2202.8L936.2,2176.2L1102.6,2176.2L1102.6,2445.9L436.7,2445.9L436.7,1753.3L656.5,1753.3Z" fill="#f5efdc"/>
<path d="M1267.4,1389.7C1268.2,1386.4 1271.9,1381 1274.9,1382.2C1277.8,1383.5 1285.7,1393.9 1284.9,1397.2C1284,1400.6 1272.8,1403.5 1269.9,1402.2C1267,1401 1266.5,1393.1 1267.4,1389.7Z" fill="#f5efdc"/>
<path d="M1309.8,1467.2C1312.3,1464.2 1321.5,1463.4 1324.8,1464.7C1328.1,1465.9 1330.2,1471.3 1329.8,1474.6C1329.4,1478 1325.6,1483.4 1322.3,1484.6C1319,1485.9 1311.9,1485 1309.8,1482.1C1307.7,1479.2 1307.3,1470.1 1309.8,1467.2Z" fill="#f5efdc"/>
<path d="M646.7,226.7C653.9,221.4 681.1,225 690,226.7C698.8,228.3 700.5,233.3 699.9,236.7C699.4,240 691.6,244.2 686.6,246.6C681.6,249.1 675,250 670,251.6C665,253.3 660.5,255.5 656.7,256.6C652.8,257.7 648.3,263.3 646.7,258.3C645,253.3 639.5,231.9 646.7,226.7Z" fill="#f5efdc"/>
<path d="M756.5,246.6C757.1,245.5 767.1,244.2 773.2,243.3C779.3,242.5 791,241.1 793.2,241.7C795.4,242.2 790.4,245.3 786.5,246.6C782.6,248 774.9,250 769.9,250C764.9,250 756,247.8 756.5,246.6Z" fill="#f5efdc"/>
<path d="M858.1,255C858.7,253.9 864.2,251.9 869.8,251.6C875.3,251.4 888.1,252.2 891.4,253.3C894.7,254.4 893.9,257.5 889.7,258.3C885.6,259.1 871.7,258.9 866.4,258.3C861.2,257.7 857.5,256.1 858.1,255Z" fill="#f5efdc"/>
<path d="M786.5,363.2C789.3,360.4 792.6,356.8 796.5,356.5C800.4,356.3 805.4,361.5 809.8,361.5C814.3,361.5 819.3,355.4 823.1,356.5C827,357.6 829.2,364.3 833.1,368.2C837,372.1 842.6,376.2 846.5,379.8C850.3,383.4 853.1,387 856.4,389.8C859.8,392.6 862.5,397 866.4,396.5C870.3,395.9 875.9,389.8 879.7,386.5C883.6,383.2 885.3,379.8 889.7,376.5C894.2,373.2 900.8,368.7 906.4,366.5C911.9,364.3 917.5,362.9 923,363.2C928.6,363.5 933.6,366.5 939.7,368.2C945.8,369.8 956.3,360.1 959.7,373.2C963,386.2 964.1,433.9 959.7,446.4C955.2,458.9 941.3,447.3 933,448.1C924.7,448.9 916.4,451.7 909.7,451.4C903.1,451.1 898.1,448.4 893.1,446.4C888.1,444.5 884.2,439.8 879.7,439.8C875.3,439.8 865.9,442.5 866.4,446.4C867,450.3 879.2,457.5 883.1,463.1C887,468.6 888.1,474.2 889.7,479.7C891.4,485.3 894.2,492.5 893.1,496.4C892,500.3 887.5,503 883.1,503C878.6,503 870.9,500.3 866.4,496.4C862,492.5 859.8,485.3 856.4,479.7C853.1,474.2 850.3,465.3 846.5,463.1C842.6,460.9 838.1,465.3 833.1,466.4C828.1,467.5 820.4,470.8 816.5,469.7C812.6,468.6 810.9,463.6 809.8,459.7C808.7,455.9 811.5,449.2 809.8,446.4C808.2,443.7 802.6,445.9 799.8,443.1C797.1,440.3 796,430.9 793.2,429.8C790.4,428.7 786.5,434.8 783.2,436.4C779.9,438.1 776.5,440 773.2,439.8C769.9,439.5 766,437.5 763.2,434.8C760.4,432 757.4,427.3 756.5,423.1C755.7,419 756.5,414.2 758.2,409.8C759.9,405.4 764,400.9 766.5,396.5C769,392 771,387 773.2,383.2C775.4,379.3 777.6,376.5 779.9,373.2C782.1,369.8 783.7,366 786.5,363.2Z" fill="#f5efdc"/>
<path d="M432.4,927.4C431.6,917.4 439.1,927.8 444.9,934.9C450.7,942 459.9,958.2 467.4,969.9C474.9,981.5 481.1,993.6 489.8,1004.8C498.6,1016.1 509.8,1027.7 519.8,1037.3C529.8,1046.9 538.5,1053.9 549.8,1062.3C561,1070.6 574.8,1078.9 587.2,1087.2C599.7,1095.6 611.8,1100.6 624.7,1112.2C637.6,1123.9 659.2,1148.4 664.7,1157.2C670.1,1165.9 664.7,1169.6 657.2,1164.6C649.7,1159.7 633.4,1138.4 619.7,1127.2C606,1116 590.6,1106.8 574.8,1097.2C558.9,1087.6 540.6,1079.7 524.8,1069.8C509,1059.8 492.3,1049.8 479.9,1037.3C467.4,1024.8 457.8,1013.1 449.9,994.8C442,976.5 433.2,937.4 432.4,927.4Z" fill="#def0ed"/>
<path d="M647.3,1459.4C649.8,1456.9 659.3,1458.1 662.2,1461.9C665.2,1465.6 666,1476.9 664.7,1481.9C663.5,1486.9 657.7,1492.7 654.8,1491.8C651.8,1491 648.5,1482.3 647.3,1476.9C646,1471.5 644.8,1461.9 647.3,1459.4Z" fill="#def0ed"/>
<path d="M624.8,1626.7C628.1,1619.6 638.9,1622.5 644.8,1624.2C650.6,1625.9 656.8,1629.6 659.7,1636.7C662.7,1643.8 663.5,1657.9 662.2,1666.7C661,1675.4 656.8,1681.6 652.3,1689.1C647.7,1696.6 638.5,1702.9 634.8,1711.6C631,1720.3 633.1,1733.2 629.8,1741.6C626.5,1749.9 619.8,1758.2 614.8,1761.5C609.8,1764.9 601.9,1767.4 599.8,1761.5C597.7,1755.7 599.8,1737.4 602.3,1726.6C604.8,1715.8 611.1,1706.6 614.8,1696.6C618.5,1686.6 623.1,1678.3 624.8,1666.7C626.5,1655 621.5,1633.8 624.8,1626.7Z" fill="#def0ed"/>
<path d="M637.3,1556.8C638.5,1551.4 645.6,1552.6 647.3,1559.3C648.9,1565.9 648.5,1591.3 647.3,1596.7C646,1602.1 641.4,1598.4 639.8,1591.7C638.1,1585.1 636,1562.2 637.3,1556.8Z" fill="#def0ed"/>
<path d="M809.8,398.1C813.2,397.3 819.8,397.3 823.1,399.8C826.5,402.3 829.8,408.7 829.8,413.1C829.8,417.6 822.6,422.6 823.1,426.5C823.7,430.3 832.6,433.1 833.1,436.4C833.7,439.8 829.8,445.3 826.5,446.4C823.1,447.5 816.5,445.9 813.2,443.1C809.8,440.3 808.7,434.2 806.5,429.8C804.3,425.3 800.4,420.6 799.8,416.5C799.3,412.3 801.5,407.9 803.2,404.8C804.8,401.8 806.5,399 809.8,398.1Z" fill="#def0ed"/>
<path d="M472.4,1014.8C473.6,1012.3 483.6,1015.6 489.8,1019.8C496.1,1024 504,1033.5 509.8,1039.8C515.7,1046 523.1,1053.5 524.8,1057.3C526.5,1061 524,1063.5 519.8,1062.3C515.7,1061 506.1,1054.4 499.8,1049.8C493.6,1045.2 486.9,1040.6 482.4,1034.8C477.8,1029 471.1,1017.3 472.4,1014.8Z" fill="#a3dbd3"/>
<path d="M553.4,228.4 550.1,231.6 549.9,235.5 552.1,239.4 556.4,242 561.1,242.5 566.1,240.8 569.3,238.4 571.8,234.1 571.8,229.9 569.1,227.4 561.2,227Z" fill="#ead59f"/>
<path d="M487.7,335.5C491.6,334.4 494.6,339.1 499.3,342.1C504.1,345.2 512.5,347.1 516,353.8C519.5,360.5 520.3,372.9 520.3,382.1C520.3,391.3 516.3,401 516,408.7C515.7,416.5 519.4,422.6 518.3,428.7C517.2,434.8 512.5,439.8 509.3,445.4C506.2,450.9 502.4,456.2 499.3,462C496.3,467.8 494.3,474.5 491,480.3C487.7,486.2 483.5,491.4 479.4,497C475.2,502.5 470.5,508.1 466,513.6C461.6,519.2 456.6,525 452.7,530.3C448.8,535.5 445,540 442.7,545.3C440.5,550.5 440.5,554.7 439.4,561.9C438.3,569.1 437.5,579.7 436.1,588.5C434.7,597.4 433,606.3 431.1,615.2C429.1,624.1 426.9,633.5 424.4,641.8C421.9,650.1 418.9,657.4 416.1,665.1C413.3,672.9 410.8,680.1 407.8,688.4C404.7,696.8 400.3,707.9 397.8,715.1C395.3,722.3 395,728.4 392.8,731.7C390.6,735 388.1,737.3 384.5,735C380.9,732.8 374.5,723.9 371.1,718.4C367.8,712.8 363.9,709 364.5,701.7C365,694.5 371.4,684 374.5,675.1C377.5,666.2 380.6,657.4 382.8,648.5C385,639.6 386.7,630.2 387.8,621.8C388.9,613.5 389.5,605.7 389.5,598.5C389.5,591.3 386.4,584.7 387.8,578.5C389.2,572.4 393.3,567.5 397.8,561.9C402.2,556.4 409.4,550.2 414.4,545.3C419.4,540.3 423.3,536.9 427.7,531.9C432.2,526.9 436.6,521.1 441.1,515.3C445.5,509.5 450.2,503.4 454.4,497C458.5,490.6 462.7,483.9 466,477C469.4,470.1 472.1,462.3 474.4,455.4C476.6,448.4 478.5,442 479.4,435.4C480.2,428.7 480.5,422.1 479.4,415.4C478.2,408.7 474.1,403.2 472.7,395.4C471.3,387.6 470.5,376.5 471,368.8C471.6,361 473.3,354.4 476,348.8C478.8,343.3 483.8,336.6 487.7,335.5Z" fill="#ead59f"/>
<path d="M364.5,741.7C368.4,737.8 378.9,733.9 384.5,735C390,736.2 393.3,747.3 397.8,748.4C402.2,749.5 405.5,740.6 411.1,741.7C416.6,742.8 425,748.9 431.1,755C437.2,761.1 442.7,770.6 447.7,778.3C452.7,786.1 457.7,793.9 461,801.6C464.4,809.4 465.5,816.1 467.7,824.9C469.9,833.8 489.1,849.9 474.4,854.9C459.7,859.9 396.1,860.5 379.5,854.9C362.8,849.4 374.8,830.5 374.5,821.6C374.2,812.7 378.4,808.9 377.8,801.6C377.2,794.4 373.9,785.5 371.1,778.3C368.4,771.1 362.3,764.5 361.2,758.4C360,752.2 360.6,745.6 364.5,741.7Z" fill="#ead59f"/>
<path d="M579.9,320.6 577.3,322 575,325.7 571.1,347.6 567.1,360.8 563.4,369.4 545.7,396.4 531.8,411.5 528.4,418.8 527.4,432.4 530.6,453.4 534.6,463.2 537.2,465.6 540.2,466.8 546,466 551.2,462.3 574.7,432 601.3,405.4 612,390.9 617.1,378.3 617.9,371.5 617.2,367 615.2,363.2 605.3,353 598.5,332.9 593.4,326.6 587.9,321.9 583.6,320.2Z" fill="#ead59f"/>
<path d="M531,462C533.7,461.7 538.7,464.8 537.6,468.7C536.5,472.6 529.3,479.8 524.3,485.3C519.3,490.9 513.2,496.4 507.7,502C502.1,507.5 496.6,513.1 491,518.6C485.5,524.2 479.4,530.3 474.4,535.3C469.4,540.3 465.5,545 461,548.6C456.6,552.2 450.5,556.4 447.7,556.9C445,557.5 442.7,555 444.4,551.9C446.1,548.9 452.7,543.6 457.7,538.6C462.7,533.6 468.8,527.5 474.4,521.9C479.9,516.4 485.5,511.1 491,505.3C496.6,499.5 502.7,492.8 507.7,487C512.7,481.2 517.1,474.5 521,470.3C524.9,466.2 528.2,462.3 531,462Z" fill="#ead59f"/>
<path d="M605.9,325.5C607.8,322.2 615,316.6 620.9,312.2C626.7,307.7 633.6,303.9 640.8,298.9C648.1,293.9 656.9,287.8 664.2,282.2C671.4,276.7 678.6,269.4 684.1,265.6C689.7,261.7 695,259.2 697.5,258.9C699.9,258.6 700.8,261.1 699.1,263.9C697.5,266.7 692.7,270.8 687.5,275.5C682.2,280.3 674.4,286.6 667.5,292.2C660.5,297.7 652.8,303.9 645.8,308.8C638.9,313.8 632,318.3 625.9,322.2C619.8,326 612.5,331.6 609.2,332.2C605.9,332.7 603.9,328.8 605.9,325.5Z" fill="#ead59f"/>
<path d="M292.9,297.9C299.3,296.9 325.1,300.1 331.2,301.5C337.3,302.9 335.9,305.2 329.5,306.2C323.1,307.1 299,308.6 292.9,307.2C286.8,305.8 286.5,298.8 292.9,297.9Z" fill="#ead59f"/>
<path d="M990.5,398.7C992.1,396 1001,392.6 1003.8,395.4C1006.6,398.2 1007.7,410.4 1007.1,415.4C1006.6,420.4 1002.7,425.9 1000.5,425.4C998.2,424.8 995.5,416.5 993.8,412.1C992.1,407.6 988.8,401.5 990.5,398.7Z" fill="#ead59f"/>
<path d="M696.7,1018.2C696.7,1018.2 705.5,1025.7 710,1029.8C714.4,1034 720,1038.7 723.3,1043.2C726.6,1047.6 728.3,1052 730,1056.5C731.6,1060.9 731.1,1065.9 733.3,1069.8C735.5,1073.7 739.4,1075.9 743.3,1079.8C747.2,1083.7 752.2,1088.9 756.6,1093.1C761,1097.3 765.5,1101.4 769.9,1104.8C774.4,1108.1 778.8,1110 783.2,1113.1C787.7,1116.1 792.1,1120.3 796.6,1123.1C801,1125.8 804.9,1127.5 809.9,1129.7C814.9,1131.9 821,1134.4 826.5,1136.4C832.1,1138.3 841,1139.2 843.2,1141.4C845.4,1143.6 842.6,1147.8 839.8,1149.7C837.1,1151.6 830.4,1150.8 826.5,1153C822.6,1155.3 817.6,1159.1 816.5,1163C815.4,1166.9 817.1,1173 819.9,1176.3C822.6,1179.7 829.3,1179.7 833.2,1183C837.1,1186.3 840.4,1191.3 843.2,1196.3C846,1201.3 849.3,1208.5 849.8,1213C850.4,1217.4 846.5,1223 846.5,1223L696.7,1223L696.7,1018.2Z" fill="#ead59f"/>
<circle cx="1665.7" cy="713.8" r="3.5" fill="#ead59f"/>
<path d="M489.8,840C507.7,843.3 493.2,853.7 494.8,860C496.5,866.2 497.3,871.6 499.8,877.5C502.3,883.3 508.2,889.1 509.8,894.9C511.5,900.8 508.2,907 509.8,912.4C511.5,917.8 515.7,922 519.8,927.4C524,932.8 531.5,939.1 534.8,944.9C538.1,950.7 537.3,956.5 539.8,962.4C542.3,968.2 545.6,974.9 549.8,979.9C553.9,984.8 559.8,991.5 564.8,992.3C569.8,993.2 575.6,987.3 579.7,984.8C583.9,982.3 586.4,980.7 589.7,977.4C593.1,974 596,966.5 599.7,964.9C603.5,963.2 608.9,964.9 612.2,967.4C615.5,969.9 619.3,976.1 619.7,979.9C620.1,983.6 613.9,986.5 614.7,989.8C615.5,993.2 621,996.9 624.7,999.8C628.4,1002.7 632.2,1004.8 637.2,1007.3C642.2,1009.8 648.4,1012.7 654.7,1014.8C660.9,1016.9 668,1017.3 674.6,1019.8C681.3,1022.3 689.2,1026.5 694.6,1029.8C700,1033.1 704.2,1036.5 707.1,1039.8C710,1043.1 710.4,1044.8 712.1,1049.8C713.8,1054.8 715,1063.9 717.1,1069.8C719.2,1075.6 720.8,1080.6 724.6,1084.7C728.3,1088.9 734.6,1091.4 739.6,1094.7C744.6,1098.1 748.7,1102.2 754.6,1104.7C760.4,1107.2 768.7,1107.2 774.5,1109.7C780.4,1112.2 782.9,1116.8 789.5,1119.7C796.2,1122.6 814.5,1127.2 814.5,1127.2L814.5,1359.4C814.5,1359.4 732.1,1366.1 714.6,1359.4C697.1,1352.8 712.1,1330.3 709.6,1319.5C707.1,1308.7 700.4,1302.8 699.6,1294.5C698.8,1286.2 704.2,1277.9 704.6,1269.5C705,1261.2 703.4,1252.9 702.1,1244.6C700.9,1236.2 699.6,1227.9 697.1,1219.6C694.6,1211.3 690,1202.1 687.1,1194.6C684.2,1187.1 680.1,1180.9 679.6,1174.6C679.2,1168.4 687.5,1162.6 684.6,1157.2C681.7,1151.7 670.1,1147.2 662.2,1142.2C654.2,1137.2 645.5,1132.2 637.2,1127.2C628.9,1122.2 620.5,1117.6 612.2,1112.2C603.9,1106.8 595.6,1100.6 587.2,1094.7C578.9,1088.9 570.2,1082.7 562.3,1077.2C554.4,1071.8 546.9,1067.7 539.8,1062.3C532.7,1056.9 526.5,1051 519.8,1044.8C513.2,1038.5 505.7,1031 499.8,1024.8C494,1018.6 490.3,1014 484.9,1007.3C479.4,1000.7 473.2,993.2 467.4,984.8C461.5,976.5 455.7,966.5 449.9,957.4C444.1,948.2 438.2,939.5 432.4,929.9C426.6,920.3 420.3,910.3 414.9,899.9C409.5,889.5 404.5,877.5 399.9,867.5C395.4,857.5 372.5,844.6 387.5,840C402.4,835.4 471.9,836.7 489.8,840Z" fill="#ead59f"/>
<path d="M662.2,1347C672.9,1344.5 716.1,1342 727.2,1347C738.2,1352 728.4,1366.2 728.4,1377C728.4,1387.8 728.6,1404 727.2,1411.9C725.7,1419.8 723.4,1420.3 719.7,1424.4C715.9,1428.6 708.9,1431.5 704.7,1436.9C700.5,1442.3 697.2,1451.5 694.7,1456.9C692.2,1462.3 692.2,1468.5 689.7,1469.4C687.2,1470.2 679.7,1466.5 679.7,1461.9C679.7,1457.3 687.2,1448.6 689.7,1441.9C692.2,1435.2 694.7,1428.6 694.7,1421.9C694.7,1415.3 692.2,1408.6 689.7,1401.9C687.2,1395.3 683.5,1386.1 679.7,1382C676,1377.8 669.9,1380.3 667.2,1377C664.5,1373.6 664.3,1367 663.5,1362C662.7,1357 651.6,1349.5 662.2,1347Z" fill="#ead59f"/>
<path d="M764.6,1372C766.7,1366.2 774.2,1365.3 779.6,1367C785,1368.6 793.4,1375.3 797.1,1382C800.8,1388.6 803.3,1399.4 802.1,1406.9C800.8,1414.4 794.2,1424.4 789.6,1426.9C785,1429.4 778.4,1426.1 774.6,1421.9C770.9,1417.8 768.8,1410.3 767.1,1401.9C765.5,1393.6 762.6,1377.8 764.6,1372Z" fill="#ead59f"/>
<path d="M639.8,1521.8C640.6,1519.3 649.8,1514.3 654.8,1511.8C659.7,1509.3 668.1,1504.3 669.7,1506.8C671.4,1509.3 667.2,1521 664.7,1526.8C662.2,1532.6 657.3,1541.8 654.8,1541.8C652.3,1541.8 652.3,1530.1 649.8,1526.8C647.3,1523.5 638.9,1524.3 639.8,1521.8Z" fill="#ead59f"/>
<path d="M662.2,1559.3C663.9,1554.7 674.7,1550.5 679.7,1549.3C684.7,1548 691.8,1548 692.2,1551.8C692.6,1555.5 686,1567.6 682.2,1571.8C678.5,1575.9 673.1,1578.8 669.7,1576.8C666.4,1574.7 660.6,1563.9 662.2,1559.3Z" fill="#ead59f"/>
<path d="M662.2,1601.7C666.4,1600.1 685.6,1600.9 689.7,1604.2C693.9,1607.6 689.7,1618 687.2,1621.7C684.7,1625.4 678.5,1627.9 674.7,1626.7C671,1625.4 666.8,1618.4 664.7,1614.2C662.7,1610 658.1,1603.4 662.2,1601.7Z" fill="#ead59f"/>
<path d="M717.2,1476.9C719.3,1473.9 732.6,1469.4 737.2,1469.4C741.7,1469.4 746.7,1473.9 744.7,1476.9C742.6,1479.8 729.3,1486.9 724.7,1486.9C720.1,1486.9 715.1,1479.8 717.2,1476.9Z" fill="#ead59f"/>
<path d="M775,1095C785,1098.3 790.4,1107.9 799.9,1115C809.5,1122.1 824.1,1129.1 832.4,1137.5C840.7,1145.8 846.6,1155.4 849.9,1164.9C853.2,1174.5 853.2,1185.7 852.4,1194.9C851.6,1204.1 847.4,1212.4 844.9,1219.9C842.4,1227.4 839.1,1232.4 837.4,1239.8C835.7,1247.3 834.5,1257.3 834.9,1264.8C835.3,1272.3 839.9,1277.3 839.9,1284.8C839.9,1292.3 837.4,1301.4 834.9,1309.8C832.4,1318.1 827.4,1326.4 824.9,1334.7C822.4,1343.1 821.2,1351.4 819.9,1359.7C818.7,1368 819.1,1376.4 817.4,1384.7C815.8,1393 812.8,1401.3 809.9,1409.7C807,1418 804.1,1428 799.9,1434.6C795.8,1441.3 790.8,1446.3 785,1449.6C779.1,1452.9 772.5,1452.9 765,1454.6C757.5,1456.3 740,1459.6 740,1459.6L740,1095C740,1095 765,1091.7 775,1095Z" fill="#ead59f"/>
<path d="M576.5,2112.9C580.2,2109.1 592.6,2104.1 596.5,2106.3C600.4,2108.5 602.1,2120.7 599.9,2126.3C597.6,2131.8 587.4,2139 583.2,2139.6C579,2140.1 576,2134 574.9,2129.6C573.8,2125.2 572.9,2116.8 576.5,2112.9Z" fill="#ead59f"/>
<path d="M546.6,2199.5C549.1,2195.6 559.3,2190.6 563.2,2192.9C567.1,2195.1 571,2207.3 569.9,2212.8C568.8,2218.4 560.2,2225.6 556.6,2226.2C553,2226.7 549.9,2220.6 548.2,2216.2C546.6,2211.7 544.1,2203.4 546.6,2199.5Z" fill="#ead59f"/>
<path d="M646.7,284.9C648.9,279.9 655,277.2 660,273.3C665,269.4 670.5,264.1 676.6,261.6C682.7,259.1 695.5,256.9 696.6,258.3C697.7,259.7 688.3,265.8 683.3,270C678.3,274.1 672.2,278.3 666.6,283.3C661.1,288.3 653.3,296.6 650,299.9C646.7,303.3 647.2,305.8 646.7,303.3C646.1,300.8 644.5,289.9 646.7,284.9Z" fill="#ead59f"/>
<path d="M789.8,386.5C791.5,385.1 798.7,385.9 803.2,384.8C807.6,383.7 813.2,382.1 816.5,379.8C819.8,377.6 820.9,372.1 823.1,371.5C825.4,371 828.1,373.5 829.8,376.5C831.5,379.6 831.5,386.5 833.1,389.8C834.8,393.2 839.8,393.7 839.8,396.5C839.8,399.3 834.8,403.7 833.1,406.5C831.5,409.2 831.2,413.7 829.8,413.1C828.4,412.6 827,406.5 824.8,403.1C822.6,399.8 820.1,394.8 816.5,393.2C812.9,391.5 807,393.2 803.2,393.2C799.3,393.2 795.4,394.3 793.2,393.2C791,392 788.2,387.9 789.8,386.5Z" fill="#ead59f"/>
<path d="M764.9,411.5C766.3,409.5 771,406.2 773.2,406.5C775.4,406.8 777.4,410.4 778.2,413.1C779,415.9 779.6,421.5 778.2,423.1C776.8,424.8 772.1,424 769.9,423.1C767.6,422.3 765.7,420.1 764.9,418.1C764,416.2 763.5,413.4 764.9,411.5Z" fill="#ead59f"/>
<path d="M813.2,434.8C814.3,433.4 819.8,437.3 823.1,436.4C826.5,435.6 830.4,432 833.1,429.8C835.9,427.6 837.8,422.6 839.8,423.1C841.7,423.7 844.5,429.5 844.8,433.1C845.1,436.7 843.4,441.7 841.5,444.8C839.5,447.8 836.2,450.9 833.1,451.4C830.1,452 825.9,449.2 823.1,448.1C820.4,447 818.1,447 816.5,444.8C814.8,442.5 812,436.2 813.2,434.8Z" fill="#ead59f"/>
<path d="M849.8,418.1C850.6,416.2 854.8,414.5 856.4,416.5C858.1,418.4 860,426.5 859.8,429.8C859.5,433.1 856.2,436.7 854.8,436.4C853.4,436.2 852.3,431.2 851.4,428.1C850.6,425.1 848.9,420.1 849.8,418.1Z" fill="#ead59f"/>
<path d="M908,389.8C909.7,387.9 915.5,385.4 919.7,384.8C923.9,384.3 928.6,386.8 933,386.5C937.5,386.2 941.9,382.6 946.3,383.2C950.8,383.7 957.4,385.4 959.7,389.8C961.9,394.3 962.4,405.9 959.7,409.8C956.9,413.7 948,413.1 943,413.1C938,413.1 934.1,411.5 929.7,409.8C925.3,408.1 919.7,405.4 916.4,403.1C913,400.9 911.1,398.7 909.7,396.5C908.3,394.3 906.4,391.8 908,389.8Z" fill="#ead59f"/>
<path d="M881.4,436.4C882.2,435.9 887.8,438.4 889.7,439.8C891.7,441.2 893.9,444.2 893.1,444.8C892.2,445.3 886.7,444.5 884.7,443.1C882.8,441.7 880.6,437 881.4,436.4Z" fill="#ead59f"/>
<path d="M793.2,1133.1C793.9,1131.4 798.5,1130.3 799.9,1131.4C801.3,1132.5 802.2,1138 801.6,1139.7C800.9,1141.4 797.1,1142.5 795.7,1141.4C794.3,1140.3 792.5,1134.7 793.2,1133.1Z" fill="#f5efdc"/>
<path d="M753.3,1218C753.3,1216.6 762.7,1214.4 766.6,1214.6C770.5,1214.9 776.6,1218.2 776.6,1219.6C776.6,1221 770.5,1223.2 766.6,1223C762.7,1222.7 753.3,1219.3 753.3,1218Z" fill="#f5efdc"/>
<path d="M749.6,1214.6C752.9,1209.2 764.1,1210.4 769.5,1212.1C774.9,1213.8 779.1,1219.2 782,1224.6C784.9,1230 786.6,1237.9 787,1244.6C787.4,1251.2 787,1260.4 784.5,1264.5C782,1268.7 776.2,1269.9 772,1269.5C767.9,1269.1 763.3,1266.2 759.5,1262C755.8,1257.9 751.2,1252.5 749.6,1244.6C747.9,1236.7 746.2,1220 749.6,1214.6Z" fill="#f5efdc"/>
<path d="M719.6,1307C722.5,1303.2 730.8,1302.4 734.6,1304.5C738.3,1306.6 742.1,1313.2 742.1,1319.5C742.1,1325.7 737.9,1337.8 734.6,1342C731.2,1346.1 725,1346.9 722.1,1344.5C719.2,1342 717.5,1333.2 717.1,1327C716.7,1320.7 716.7,1310.7 719.6,1307Z" fill="#f5efdc"/>
<path d="M669.6,1169.6C675.1,1170.5 678.8,1169.6 682.1,1174.6C685.5,1179.6 686.7,1191.3 689.6,1199.6C692.5,1207.9 697.1,1216.3 699.6,1224.6C702.1,1232.9 703.4,1241.2 704.6,1249.6C705.9,1257.9 707.5,1267 707.1,1274.5C706.7,1282 701.3,1287 702.1,1294.5C702.9,1302 709.6,1308.7 712.1,1319.5C714.6,1330.3 727.5,1352.8 717.1,1359.4C706.7,1366.1 649.7,1359.4 649.7,1359.4L649.7,1169.6C649.7,1169.6 664.2,1168.8 669.6,1169.6Z" fill="#f5efdc"/>
<path d="M757.5,1214.9C761.2,1211.1 770,1209.9 775,1212.4C780,1214.9 785.8,1222.8 787.5,1229.9C789.1,1236.9 787.9,1248.2 785,1254.8C782,1261.5 774.6,1269 770,1269.8C765.4,1270.6 760.4,1265.7 757.5,1259.8C754.6,1254 752.5,1242.3 752.5,1234.9C752.5,1227.4 753.7,1218.6 757.5,1214.9Z" fill="#f5efdc"/>
<path d="M812.4,1219.9C814.1,1215.7 822.4,1220.7 824.9,1224.9C827.4,1229 829.1,1240.7 827.4,1244.8C825.8,1249 817.4,1254 814.9,1249.8C812.4,1245.7 810.8,1224 812.4,1219.9Z" fill="#f5efdc"/>
<path d="M790,1324.8C791.6,1321 802,1320.2 804.9,1322.3C807.9,1324.3 809.1,1333.5 807.4,1337.2C805.8,1341 797.9,1346.8 795,1344.7C792,1342.6 788.3,1328.5 790,1324.8Z" fill="#f5efdc"/>
<path d="M740,1349.7C744.2,1333.9 759.2,1355.6 765,1359.7C770.8,1363.9 775,1368 775,1374.7C775,1381.4 765.8,1391.3 765,1399.7C764.2,1408 770.8,1416.3 770,1424.6C769.1,1433 765,1444.6 760,1449.6C755,1454.6 743.3,1471.3 740,1454.6C736.7,1438 735.8,1365.5 740,1349.7Z" fill="#f5efdc"/>
<path d="M799.9,1137.5C802.9,1134.5 814.1,1140.4 819.9,1145C825.8,1149.5 832.8,1158.3 834.9,1164.9C837,1171.6 835.7,1182 832.4,1184.9C829.1,1187.8 819.9,1186.2 814.9,1182.4C809.9,1178.7 804.9,1169.9 802.4,1162.4C799.9,1154.9 797,1140.4 799.9,1137.5Z" fill="#f5efdc"/>
<path d="M554.3,231.3C556.7,230.2 566.2,229.4 568.3,230.3C570.4,231.2 568.4,235 566.9,236.6C565.5,238.1 561.8,239.6 559.6,239.6C557.4,239.6 554.5,238 553.6,236.6C552.7,235.2 551.8,232.3 554.3,231.3Z" fill="#cfa256"/>
<path d="M494.3,355.5C496.7,354.1 504.4,356 507.7,360.5C510.9,364.9 513,374.1 513.7,382.1C514.3,390.1 512.5,400.7 511.7,408.7C510.8,416.8 509.8,426.5 508.3,430.4C506.8,434.3 503.8,435.7 502.7,432C501.6,428.4 502.3,417.1 501.7,408.7C501,400.4 500,388.8 498.7,382.1C497.3,375.4 494.4,373.2 493.7,368.8C493,364.3 492,356.8 494.3,355.5Z" fill="#cfa256"/>
<path d="M477.7,362.1C478.8,361 482.7,364.3 484.4,368.8C486,373.2 486.6,383.2 487.7,388.8C488.8,394.3 491.3,399.6 491,402.1C490.7,404.6 487.7,406 486,403.7C484.4,401.5 482.4,393.5 481,388.8C479.6,384 478.2,379.9 477.7,375.4C477.1,371 476.6,363.2 477.7,362.1Z" fill="#cfa256"/>
<path d="M491,435.4C493,438.1 497.4,448.7 497.7,455.4C497.9,462 495.5,469.2 492.7,475.3C489.9,481.4 484.6,486.4 481,492C477.4,497.5 474.4,503.4 471,508.6C467.7,513.9 464.7,518.6 461,523.6C457.4,528.6 453.6,533.9 449.4,538.6C445.2,543.3 438.8,546.9 436.1,551.9C433.3,556.9 434.1,561.3 432.7,568.6C431.4,575.8 429.7,586.3 427.7,595.2C425.8,604.1 423.3,613 421.1,621.8C418.9,630.7 416.9,640.7 414.4,648.5C411.9,656.2 409.4,661.2 406.1,668.5C402.8,675.7 398.1,685.1 394.5,691.8C390.8,698.4 387.8,704.5 384.5,708.4C381.1,712.3 376.4,716.2 374.5,715.1C372.5,714 371.7,707.9 372.8,701.7C373.9,695.6 378.4,686.8 381.1,678.4C383.9,670.1 387.2,660.7 389.5,651.8C391.7,642.9 393.3,633.5 394.5,625.2C395.6,616.8 395.6,609.1 396.1,601.9C396.7,594.6 396.1,588 397.8,581.9C399.4,575.8 402.5,570.8 406.1,565.2C409.7,559.7 414.7,553.6 419.4,548.6C424.1,543.6 429.7,539.7 434.4,535.3C439.1,530.8 443.6,526.9 447.7,521.9C451.9,517 455.8,510.8 459.4,505.3C463,499.7 466.3,494.5 469.4,488.6C472.4,482.8 475.2,476.4 477.7,470.3C480.2,464.2 483,457.3 484.4,452C485.7,446.8 484.9,441.5 486,438.7C487.1,435.9 489.1,432.6 491,435.4Z" fill="#cfa256"/>
<path d="M397.8,781.7C401.9,776.7 409.4,768.3 414.4,768.3C419.4,768.3 423.9,776.1 427.7,781.7C431.6,787.2 434.4,795 437.7,801.6C441.1,808.3 444.4,812.7 447.7,821.6C451.1,830.5 467.7,849.4 457.7,854.9C447.7,860.5 400,860.5 387.8,854.9C375.6,849.4 384.2,831 384.5,821.6C384.7,812.2 387.2,805 389.5,798.3C391.7,791.6 393.6,786.7 397.8,781.7Z" fill="#cfa256"/>
<path d="M372.8,746.7C374.2,743.9 380.9,741.4 384.5,743.4C388.1,745.3 393.9,754.2 394.5,758.4C395,762.5 390.8,768.1 387.8,768.3C384.7,768.6 378.6,763.6 376.1,760C373.6,756.4 371.4,749.5 372.8,746.7Z" fill="#cfa256"/>
<path d="M580.9,325.5C584,323.3 590.9,330.5 594.2,335.5C597.6,340.5 597.8,349.9 600.9,355.5C603.9,361 611.2,363.8 612.5,368.8C613.9,373.8 611.7,379.9 609.2,385.4C606.7,391 601.7,397.1 597.6,402.1C593.4,407.1 588.7,411 584.2,415.4C579.8,419.8 575.4,423.7 570.9,428.7C566.5,433.7 561.8,440.1 557.6,445.4C553.4,450.6 549.3,458.1 546,460.3C542.6,462.6 539.8,462.8 537.6,458.7C535.4,454.5 533.2,442.3 532.6,435.4C532.1,428.4 531.8,422.6 534.3,417.1C536.8,411.5 543.5,407.3 547.6,402.1C551.8,396.8 555.7,391 559.3,385.4C562.9,379.9 566.5,374.9 569.3,368.8C572,362.7 574,356 575.9,348.8C577.9,341.6 577.9,327.7 580.9,325.5Z" fill="#cfa256"/>
<path d="M634.2,302.2C636.7,298.9 648.1,292.8 654.2,288.9C660.3,285 667.5,279.7 670.8,278.9C674.1,278 676.4,280.8 674.1,283.9C671.9,286.9 663.3,293 657.5,297.2C651.7,301.4 643.1,308 639.2,308.8C635.3,309.7 631.7,305.5 634.2,302.2Z" fill="#cfa256"/>
<path d="M696.7,1109.7C698.3,1099.2 703.9,1113.1 706.7,1116.4C709.4,1119.7 712.5,1124.7 713.3,1129.7C714.2,1134.7 711.1,1141.9 711.7,1146.4C712.2,1150.8 714.2,1155.3 716.6,1156.4C719.1,1157.5 724.4,1152.5 726.6,1153C728.9,1153.6 731.6,1158 730,1159.7C728.3,1161.4 720,1160.8 716.6,1163C713.3,1165.2 713.3,1170.2 710,1173C706.7,1175.8 698.9,1190.2 696.7,1179.7C694.5,1169.1 695,1120.3 696.7,1109.7Z" fill="#cfa256"/>
<path d="M730,1093.1C730.5,1091.7 734.7,1094.8 736.6,1096.4C738.6,1098.1 742.2,1101.7 741.6,1103.1C741.1,1104.5 735.2,1106.4 733.3,1104.8C731.4,1103.1 729.4,1094.5 730,1093.1Z" fill="#cfa256"/>
<path d="M715,1108.1C715.8,1107.3 720.8,1109.5 723.3,1111.4C725.8,1113.4 729.7,1117.8 730,1119.7C730.2,1121.7 726.9,1123.6 725,1123.1C723,1122.5 720,1118.9 718.3,1116.4C716.6,1113.9 714.2,1108.9 715,1108.1Z" fill="#cfa256"/>
<path d="M403.7,840C395.8,844.2 411.4,856.7 414.9,865C418.5,873.3 421.2,881.6 424.9,890C428.7,898.3 432.8,906.6 437.4,914.9C442,923.2 447.4,932 452.4,939.9C457.4,947.8 462,954.9 467.4,962.4C472.8,969.9 479.4,977.8 484.9,984.8C490.3,991.9 494.8,999 499.8,1004.8C504.8,1010.7 509.4,1014.4 514.8,1019.8C520.2,1025.2 528.1,1034 532.3,1037.3C536.5,1040.6 539,1042.7 539.8,1039.8C540.6,1036.9 538.1,1026.5 537.3,1019.8C536.5,1013.1 536.9,1005.7 534.8,999.8C532.7,994 525.6,989.8 524.8,984.8C524,979.9 530.2,974.9 529.8,969.9C529.4,964.9 525.2,959 522.3,954.9C519.4,950.7 516.5,947.4 512.3,944.9C508.2,942.4 499.4,943.2 497.3,939.9C495.3,936.6 501.1,929.5 499.8,924.9C498.6,920.3 492.3,917.4 489.8,912.4C487.3,907.4 484.9,899.9 484.9,894.9C484.9,890 490.7,886.6 489.8,882.5C489,878.3 483.2,874.1 479.9,870C476.5,865.8 472.8,862.5 469.9,857.5C467,852.5 473.4,842.9 462.4,840C451.3,837.1 411.6,835.8 403.7,840Z" fill="#cfa256"/>
<path d="M567.3,1057.3C568.9,1053.9 579.3,1048.9 584.7,1044.8C590.2,1040.6 595.6,1032.3 599.7,1032.3C603.9,1032.3 605.6,1041.9 609.7,1044.8C613.9,1047.7 621.4,1047.3 624.7,1049.8C628,1052.3 626.4,1058.9 629.7,1059.8C633,1060.6 639.3,1057.3 644.7,1054.8C650.1,1052.3 655.9,1047.7 662.2,1044.8C668.4,1041.9 675.9,1037.7 682.1,1037.3C688.4,1036.9 695.9,1039.8 699.6,1042.3C703.4,1044.8 705,1050.2 704.6,1052.3C704.2,1054.4 702.1,1053.9 697.1,1054.8C692.1,1055.6 680.5,1055.2 674.6,1057.3C668.8,1059.3 663.4,1063.1 662.2,1067.3C660.9,1071.4 664.2,1078.5 667.2,1082.2C670.1,1086 674.6,1088.1 679.6,1089.7C684.6,1091.4 692.1,1089.7 697.1,1092.2C702.1,1094.7 710,1098.1 709.6,1104.7C709.2,1111.4 698.8,1128 694.6,1132.2C690.5,1136.3 688,1130.9 684.6,1129.7C681.3,1128.4 679.6,1126.8 674.6,1124.7C669.6,1122.6 659.7,1120.1 654.7,1117.2C649.7,1114.3 649.3,1109.3 644.7,1107.2C640.1,1105.1 631.4,1107.2 627.2,1104.7C623,1102.2 623.4,1096 619.7,1092.2C616,1088.5 610.1,1085.2 604.7,1082.2C599.3,1079.3 592.2,1077.7 587.2,1074.7C582.2,1071.8 578.1,1067.7 574.8,1064.8C571.4,1061.8 565.6,1060.6 567.3,1057.3Z" fill="#cfa256"/>
<path d="M692.1,1137.2C693,1131.8 701.3,1121.4 704.6,1119.7C707.9,1118 710.4,1123 712.1,1127.2C713.8,1131.4 715,1140.1 714.6,1144.7C714.2,1149.2 712.1,1153.4 709.6,1154.7C707.1,1155.9 702.5,1155.1 699.6,1152.2C696.7,1149.2 691.3,1142.6 692.1,1137.2Z" fill="#cfa256"/>
<path d="M699.6,1164.6C701.3,1164.2 705,1172.1 707.1,1177.1C709.2,1182.1 711.5,1187.5 712.1,1194.6C712.7,1201.7 711.7,1215.4 710.9,1219.6C710,1223.8 708.1,1222.9 707.1,1219.6C706.1,1216.3 706.3,1206.3 704.6,1199.6C702.9,1193 698,1185.5 697.1,1179.6C696.3,1173.8 698,1165.1 699.6,1164.6Z" fill="#cfa256"/>
<path d="M609.7,997.3C611,995.3 617.6,997.7 619.7,999.8C621.8,1001.9 623.4,1007.7 622.2,1009.8C621,1011.9 614.3,1014.4 612.2,1012.3C610.1,1010.2 608.5,999.4 609.7,997.3Z" fill="#cfa256"/>
<path d="M729.6,1092.2C730.8,1091 737.5,1093.1 739.6,1094.7C741.7,1096.4 743.3,1101 742.1,1102.2C740.8,1103.5 734.2,1103.9 732.1,1102.2C730,1100.6 728.3,1093.5 729.6,1092.2Z" fill="#cfa256"/>
<path d="M646.7,291.6C648.3,288.8 653.6,285.8 656.7,284.9C659.7,284.1 665.3,284.7 665,286.6C664.7,288.5 658,294.1 655,296.6C651.9,299.1 648.1,302.4 646.7,301.6C645.3,300.8 645,294.4 646.7,291.6Z" fill="#cfa256"/>
<path d="M933,392.3C934.1,391.8 938.6,391.8 939.7,392.3C940.8,392.9 940.8,395.1 939.7,395.7C938.6,396.2 934.1,396.2 933,395.7C931.9,395.1 931.9,392.9 933,392.3Z" fill="#cfa256"/>
<path d="M427.4,872.5C428.2,869.1 430.3,860.4 432.4,860C434.5,859.6 437.8,867.1 439.9,870C442,872.9 444.5,874.8 444.9,877.5C445.3,880.2 444.1,884.5 442.4,886.2C440.7,887.9 437.4,888.5 434.9,887.5C432.4,886.4 428.7,882.5 427.4,880C426.2,877.5 426.6,875.8 427.4,872.5Z" fill="#a5691b"/>
<path d="M504.3,245.6C506.8,240 512.1,236.7 517.6,235.6C523.2,234.5 533.2,236.1 537.6,238.9C542.1,241.7 541,248.9 544.3,252.2C547.6,255.6 552.6,258.9 557.6,258.9C562.6,258.9 571.2,250.6 574.3,252.2C577.3,253.9 577,261.7 575.9,268.9C574.8,276.1 570.1,288.9 567.6,295.5C565.1,302.2 564.8,307.7 560.9,308.8C557,310 550.4,303.3 544.3,302.2C538.2,301.1 530.4,303.3 524.3,302.2C518.2,301.1 511.3,301.1 507.7,295.5C504.1,290 503.2,277.2 502.7,268.9C502.1,260.6 501.8,251.1 504.3,245.6Z" fill="#58b0a7"/>
<path d="M587.6,258.9C589.8,255.3 598.9,252.8 602.6,253.9C606.2,255 609.5,261.4 609.2,265.6C608.9,269.7 604.2,277.2 600.9,278.9C597.6,280.5 591.5,278.9 589.2,275.5C587,272.2 585.4,262.5 587.6,258.9Z" fill="#58b0a7"/>
<path d="M609.2,235.6C611.2,232.3 620.6,230 622.5,232.3C624.5,234.5 622.8,245.6 620.9,248.9C618.9,252.2 612.8,254.5 610.9,252.2C608.9,250 607.3,238.9 609.2,235.6Z" fill="#58b0a7"/>
<path d="M446.1,415.4C449.1,412.1 457.7,409.8 461,412.1C464.4,414.3 465.8,423.2 466,428.7C466.3,434.3 465.8,442.3 462.7,445.4C459.7,448.4 451.1,449.2 447.7,447C444.4,444.8 443,437.3 442.7,432C442.5,426.8 443,418.7 446.1,415.4Z" fill="#58b0a7"/>
<circle cx="533.3" cy="387.1" r="6" fill="#58b0a7"/>
<path d="M627.5,385.4C630.9,386.5 633.6,394.9 634.2,402.1C634.7,409.3 634.2,420.4 630.9,428.7C627.5,437 619.8,445.4 614.2,452C608.7,458.7 602,468.1 597.6,468.7C593.1,469.2 587.6,460.9 587.6,455.4C587.6,449.8 594.2,442 597.6,435.4C600.9,428.7 604.8,422.1 607.5,415.4C610.3,408.7 610.9,400.4 614.2,395.4C617.5,390.4 624.2,384.3 627.5,385.4Z" fill="#58b0a7"/>
<path d="M534.3,475.3C539.3,468.7 544.8,466.5 550.9,465.3C557,464.2 564.8,466.5 570.9,468.7C577,470.9 584.2,473.1 587.6,478.7C590.9,484.2 592,494.8 590.9,502C589.8,509.2 584.8,514.7 580.9,521.9C577,529.2 572,538 567.6,545.3C563.2,552.5 558.2,558.6 554.3,565.2C550.4,571.9 546.5,577.4 544.3,585.2C542.1,593 542.1,603.5 541,611.8C539.8,620.2 539.3,626.8 537.6,635.2C536,643.5 529.9,654 531,661.8C532.1,669.6 539.8,675.1 544.3,681.8C548.7,688.4 554.8,692.9 557.6,701.7C560.4,710.6 560.7,725.1 560.9,735C561.2,745 560.9,753.4 559.3,761.7C557.6,770 554.6,778.3 550.9,785C547.3,791.6 542.1,796.1 537.6,801.6C533.2,807.2 528.7,816.1 524.3,818.3C519.9,820.5 515.4,818.3 511,815C506.5,811.6 502.1,803.3 497.7,798.3C493.2,793.3 488.8,790 484.4,785C479.9,780 475.5,775 471,768.3C466.6,761.7 462.2,751.1 457.7,745C453.3,738.9 448.8,736.7 444.4,731.7C440,726.7 433.9,722.3 431.1,715.1C428.3,707.9 427.5,697.3 427.7,688.4C428,679.5 431.1,670.7 432.7,661.8C434.4,652.9 436.1,644 437.7,635.2C439.4,626.3 441.1,616.8 442.7,608.5C444.4,600.2 445.2,591.9 447.7,585.2C450.2,578.5 453.3,573.6 457.7,568.6C462.2,563.6 468.8,560.2 474.4,555.2C479.9,550.2 485.5,544.1 491,538.6C496.6,533 502.7,527.5 507.7,521.9C512.7,516.4 516.5,513.1 521,505.3C525.4,497.5 529.3,482 534.3,475.3Z" fill="#58b0a7"/>
<path d="M950.5,448.7C952.7,443.7 957.2,440.9 963.8,438.7C970.5,436.5 983.8,434.3 990.5,435.4C997.1,436.5 1001,440.9 1003.8,445.4C1006.6,449.8 1007.9,455.4 1007.1,462C1006.3,468.7 1001.6,478.7 998.8,485.3C996,492 994.1,497.5 990.5,502C986.9,506.4 982.1,511.4 977.1,512C972.1,512.5 964.7,509.2 960.5,505.3C956.3,501.4 953.8,494.8 952.2,488.6C950.5,482.5 950.8,475.3 950.5,468.7C950.2,462 948.3,453.7 950.5,448.7Z" fill="#58b0a7"/>
<circle cx="1288.5" cy="546.9" r="6" fill="#58b0a7"/>
<circle cx="1008.8" cy="465.3" r="6" fill="#58b0a7"/>
<path d="M1276.8,615.2C1278.5,610.7 1287.4,610.7 1293.5,611.8C1299.6,613 1310.7,617.4 1313.4,621.8C1316.2,626.3 1312.9,634.3 1310.1,638.5C1307.3,642.6 1301.2,646.8 1296.8,646.8C1292.4,646.8 1286.8,643.8 1283.5,638.5C1280.1,633.2 1275.1,619.6 1276.8,615.2Z" fill="#58b0a7"/>
<circle cx="883.9" cy="562.9" r="4.5" fill="#58b0a7"/>
<circle cx="899.9" cy="562.9" r="4.5" fill="#58b0a7"/>
<circle cx="1098.7" cy="661.8" r="4.5" fill="#58b0a7"/>
<path d="M696.7,953.3C700,945.8 710.5,954.9 716.6,958.2C722.8,961.6 726.9,967.4 733.3,973.2C739.7,979.1 748.8,990.7 754.9,993.2C761,995.7 764.1,989 769.9,988.2C775.8,987.4 783.8,987.9 789.9,988.2C796,988.5 800.4,987.9 806.5,989.9C812.7,991.8 822.1,996.5 826.5,999.9C831,1003.2 829.3,1007.1 833.2,1009.9C837.1,1012.6 845.4,1013.2 849.8,1016.5C854.3,1019.8 855.7,1024.8 859.8,1029.8C864,1034.8 870.1,1040.9 874.8,1046.5C879.5,1052 885.1,1058.1 888.1,1063.1C891.2,1068.1 891.2,1072 893.1,1076.5C895.1,1080.9 897,1085.3 899.8,1089.8C902.6,1094.2 907,1099.2 909.8,1103.1C912.5,1107 912.5,1110.9 916.4,1113.1C920.3,1115.3 927.5,1115 933.1,1116.4C938.6,1117.8 944.2,1121.1 949.7,1121.4C955.3,1121.7 960.8,1118.3 966.4,1118.1C971.9,1117.8 979.7,1121.1 983,1119.7C986.4,1118.3 986.4,1112.8 986.4,1109.7C986.4,1106.7 985,1104.2 983,1101.4C981.1,1098.6 975.8,1096.2 974.7,1093.1C973.6,1090 973.9,1085.6 976.4,1083.1C978.9,1080.6 984.1,1079.2 989.7,1078.1C995.2,1077 1009.7,1076.5 1009.7,1076.5L1009.7,1223L896.5,1223C896.5,1223 892,1211.3 889.8,1206.3C887.6,1201.3 884.8,1197.4 883.1,1193C881.5,1188.5 880.9,1184.7 879.8,1179.7C878.7,1174.7 875.9,1167.5 876.5,1163C877,1158.6 884.8,1156.9 883.1,1153C881.5,1149.1 872,1143 866.5,1139.7C860.9,1136.4 855.4,1135.3 849.8,1133.1C844.3,1130.8 838.2,1128.6 833.2,1126.4C828.2,1124.2 824.3,1122.5 819.9,1119.7C815.4,1117 810.4,1113.6 806.5,1109.7C802.7,1105.9 799.3,1100.9 796.6,1096.4C793.8,1092 792.7,1087 789.9,1083.1C787.1,1079.2 783.8,1075.9 779.9,1073.1C776,1070.3 769.9,1069.8 766.6,1066.5C763.3,1063.1 762.7,1057.6 759.9,1053.1C757.2,1048.7 753.8,1043.7 749.9,1039.8C746.1,1035.9 741.1,1033.7 736.6,1029.8C732.2,1026 727.7,1020.4 723.3,1016.5C718.9,1012.6 714.4,1008.7 710,1006.5C705.5,1004.3 698.9,1012.1 696.7,1003.2C694.5,994.3 693.3,960.7 696.7,953.3Z" fill="#58b0a7"/>
<path d="M738.3,880C744.4,880 772.4,889.4 778.2,893.3C784.1,897.2 776.3,900.8 773.3,903.3C770.2,905.8 764.1,908.3 759.9,908.3C755.8,908.3 751.3,905.8 748.3,903.3C745.2,900.8 743.3,897.2 741.6,893.3C740,889.4 732.2,880 738.3,880Z" fill="#58b0a7"/>
<path d="M1471.6,703.1C1474.4,699.5 1483.8,698.1 1489.9,698.1C1496,698.1 1505.2,700.1 1508.2,703.1C1511.3,706.2 1511.3,713.1 1508.2,716.5C1505.2,719.8 1495.7,722.6 1489.9,723.1C1484.1,723.7 1476.3,723.1 1473.3,719.8C1470.2,716.5 1468.8,706.8 1471.6,703.1Z" fill="#58b0a7"/>
<path d="M1415,763.1C1417.5,759.7 1425.5,755.9 1430,756.4C1434.4,757 1440,762 1441.6,766.4C1443.3,770.8 1443,779.7 1440,783.1C1436.9,786.4 1427.5,787.5 1423.3,786.4C1419.2,785.3 1416.4,780.3 1415,776.4C1413.6,772.5 1412.5,766.4 1415,763.1Z" fill="#58b0a7"/>
<path d="M1523.2,729.8C1525.7,723.7 1534.9,724.2 1538.2,726.5C1541.5,728.7 1540.1,739.2 1543.2,743.1C1546.2,747 1551,750.9 1556.5,749.8C1562.1,748.6 1570.7,737.5 1576.5,736.4C1582.3,735.3 1589.2,739.2 1591.5,743.1C1593.7,747 1592.3,755.3 1589.8,759.7C1587.3,764.2 1580.9,769.2 1576.5,769.7C1572,770.3 1567.6,763.6 1563.2,763.1C1558.7,762.5 1554.3,764.2 1549.8,766.4C1545.4,768.6 1541,777 1536.5,776.4C1532.1,775.8 1525.4,770.8 1523.2,763.1C1521,755.3 1520.7,735.9 1523.2,729.8Z" fill="#58b0a7"/>
<path d="M1549.8,813C1552.9,809.1 1559.3,809.1 1566.5,806.4C1573.7,803.6 1588.7,795.3 1593.1,796.4C1597.6,797.5 1594.8,807.5 1593.1,813C1591.5,818.6 1582.6,824.7 1583.1,829.7C1583.7,834.7 1595.4,838 1596.5,843C1597.6,848 1594.8,856.3 1589.8,859.6C1584.8,863 1572.6,865.2 1566.5,863C1560.4,860.7 1556.2,851.9 1553.2,846.3C1550.1,840.8 1548.7,835.2 1548.2,829.7C1547.6,824.1 1546.8,816.9 1549.8,813Z" fill="#58b0a7"/>
<path d="M1556.5,889.6C1557.1,885.7 1563.2,881.3 1569.8,876.3C1576.5,871.3 1588.7,861.9 1596.5,859.6C1604.2,857.4 1608.7,864.1 1616.4,863C1624.2,861.9 1633.6,853 1643.1,853C1652.5,853 1664.7,858.5 1673,863C1681.4,867.4 1688,874.1 1693,879.6C1698,885.2 1700.2,889 1703,896.3C1705.8,903.5 1709.7,914.6 1709.7,922.9C1709.7,931.2 1706.3,942.9 1703,946.2C1699.7,949.5 1694.1,946.8 1689.7,942.9C1685.3,939 1683,927.3 1676.4,922.9C1669.7,918.5 1656.4,920.7 1649.7,916.2C1643.1,911.8 1643.1,900.1 1636.4,896.3C1629.8,892.4 1617.5,892.9 1609.8,892.9C1602,892.9 1597,895.2 1589.8,896.3C1582.6,897.4 1572,900.7 1566.5,899.6C1560.9,898.5 1556,893.5 1556.5,889.6Z" fill="#58b0a7"/>
<path d="M1693,882.9C1700.2,882.4 1740.2,901.8 1746.3,909.6C1752.4,917.4 1735.8,921.8 1729.6,929.6C1723.5,937.3 1715.2,947.9 1709.7,956.2C1704.1,964.5 1701.3,972.8 1696.4,979.5C1691.4,986.2 1681.9,997.3 1679.7,996.2C1677.5,995 1681.4,981.2 1683,972.8C1684.7,964.5 1686.4,956.2 1689.7,946.2C1693,936.2 1702.5,923.5 1703,912.9C1703.6,902.4 1685.8,883.5 1693,882.9Z" fill="#58b0a7"/>
<path d="M1693,729.8C1698.6,727.6 1708.6,728.4 1719.7,729.8C1730.8,731.2 1749.1,734.8 1759.6,738.1C1770.2,741.4 1777.9,744.5 1782.9,749.8C1787.9,755 1791.8,767.5 1789.6,769.7C1787.4,772 1777.4,763.1 1769.6,763.1C1761.8,763.1 1750.7,769.7 1743,769.7C1735.2,769.7 1729.6,762 1723,763.1C1716.3,764.2 1709.1,772 1703,776.4C1696.9,780.8 1690.8,788.6 1686.4,789.7C1681.9,790.8 1679.7,783.1 1676.4,783.1C1673,783.1 1668.6,791.9 1666.4,789.7C1664.2,787.5 1661.9,775.3 1663.1,769.7C1664.2,764.2 1669.2,760.9 1673,756.4C1676.9,752 1683,747.5 1686.4,743.1C1689.7,738.7 1687.5,732 1693,729.8Z" fill="#58b0a7"/>
<path d="M1779.6,819.7C1782.9,816.9 1793.2,810.2 1796.2,816.4C1799.3,822.5 1800.1,848.5 1797.9,856.3C1795.7,864.1 1787.1,864.1 1782.9,863C1778.8,861.9 1774,854.6 1772.9,849.6C1771.8,844.7 1775.2,838 1776.3,833C1777.4,828 1776.3,822.5 1779.6,819.7Z" fill="#58b0a7"/>
<path d="M1599.8,1129.3C1604.2,1124.3 1613.1,1127.1 1623.1,1126C1633.1,1124.9 1653.1,1119.4 1659.7,1122.7C1666.4,1126 1665.3,1139.3 1663.1,1146C1660.8,1152.6 1649.7,1151 1646.4,1162.6C1643.1,1174.3 1651.4,1207 1643.1,1215.9C1634.8,1224.8 1603.1,1222 1596.5,1215.9C1589.8,1209.8 1603.1,1189.3 1603.1,1179.3C1603.1,1169.3 1597,1164.3 1596.5,1156C1595.9,1147.7 1595.4,1134.3 1599.8,1129.3Z" fill="#58b0a7"/>
<path d="M1486.6,859.6C1488.8,855.8 1495.2,853 1499.9,853C1504.6,853 1512.7,855.8 1514.9,859.6C1517.1,863.5 1515.7,872.4 1513.2,876.3C1510.7,880.2 1504.3,882.9 1499.9,882.9C1495.5,882.9 1488.8,880.2 1486.6,876.3C1484.4,872.4 1484.4,863.5 1486.6,859.6Z" fill="#58b0a7"/>
<path d="M1636.4,919.6C1638.6,916.8 1650.8,915.1 1656.4,916.2C1661.9,917.4 1668.6,922.9 1669.7,926.2C1670.8,929.6 1667.5,935.1 1663.1,936.2C1658.6,937.3 1647.5,935.7 1643.1,932.9C1638.6,930.1 1634.2,922.3 1636.4,919.6Z" fill="#58b0a7"/>
<path d="M1528.2,926.2C1529.3,923.7 1534.9,922.6 1536.5,924.6C1538.2,926.5 1539.3,935.4 1538.2,937.9C1537.1,940.4 1531.5,941.5 1529.9,939.5C1528.2,937.6 1527.1,928.7 1528.2,926.2Z" fill="#58b0a7"/>
<path d="M1521.5,952.9C1522.7,951.2 1527.1,951.2 1528.2,952.9C1529.3,954.5 1529.3,961.2 1528.2,962.9C1527.1,964.5 1522.7,964.5 1521.5,962.9C1520.4,961.2 1520.4,954.5 1521.5,952.9Z" fill="#58b0a7"/>
<path d="M609.7,947.4C610.1,944.1 618,941.8 624.7,939.9C631.4,938 641.3,936.1 649.7,936.1C658,936.1 667.2,937.6 674.6,939.9C682.1,942.2 688.8,946.1 694.6,949.9C700.4,953.6 705.4,957.4 709.6,962.4C713.8,967.4 718.8,974.4 719.6,979.9C720.4,985.3 715.8,989.8 714.6,994.8C713.4,999.8 714.6,1007.3 712.1,1009.8C709.6,1012.3 704.6,1010.7 699.6,1009.8C694.6,1009 686.7,1007.3 682.1,1004.8C677.6,1002.3 676.3,996.9 672.1,994.8C668,992.8 662.2,994 657.2,992.3C652.2,990.7 645.9,988.6 642.2,984.8C638.4,981.1 638,974 634.7,969.9C631.4,965.7 626.4,963.6 622.2,959.9C618,956.1 609.3,950.7 609.7,947.4Z" fill="#58b0a7"/>
<path d="M567.3,919.9C568.7,918.7 575.8,917.8 577.3,918.7C578.7,919.5 577.5,923.7 576,924.9C574.5,926.2 570,927 568.5,926.2C567.1,925.3 565.8,921.2 567.3,919.9Z" fill="#58b0a7"/>
<path d="M578.5,936.1C580.4,935.5 588.1,937.4 589.7,938.6C591.4,939.9 590.4,943 588.5,943.6C586.6,944.3 580.2,943.6 578.5,942.4C576.8,941.1 576.6,936.8 578.5,936.1Z" fill="#58b0a7"/>
<path d="M744.6,840C751,836.7 769.1,835 774.5,840C779.9,845 776.2,861.6 777,870C777.9,878.3 780.8,884.5 779.5,890C778.3,895.4 773.7,899.9 769.5,902.4C765.4,904.9 759.1,906.2 754.6,904.9C750,903.7 744.6,899.9 742.1,894.9C739.6,890 740.6,880.8 739.6,875C738.5,869.1 735,865.8 735.8,860C736.7,854.2 738.1,843.3 744.6,840Z" fill="#58b0a7"/>
<path d="M844.5,1347C835.4,1352 842,1367.8 839.5,1377C837.1,1386.1 833.7,1393.6 829.6,1401.9C825.4,1410.3 818.7,1418.6 814.6,1426.9C810.4,1435.2 808.8,1446.9 804.6,1451.9C800.4,1456.9 795.8,1455.6 789.6,1456.9C783.4,1458.1 771.7,1455.2 767.1,1459.4C762.6,1463.5 763.8,1473.9 762.1,1481.9C760.5,1489.8 759.6,1499.8 757.1,1506.8C754.6,1513.9 752.1,1519.7 747.2,1524.3C742.2,1528.9 732.2,1529.7 727.2,1534.3C722.2,1538.9 718,1544.7 717.2,1551.8C716.4,1558.9 722.6,1568.4 722.2,1576.8C721.8,1585.1 716.8,1593.4 714.7,1601.7C712.6,1610 710.1,1618.4 709.7,1626.7C709.3,1635 709.7,1643.3 712.2,1651.7C714.7,1660 721.8,1668.3 724.7,1676.6C727.6,1685 727.2,1693.3 729.7,1701.6C732.2,1709.9 737.6,1718.3 739.7,1726.6C741.7,1734.9 742.6,1744.1 742.2,1751.6C741.7,1759.1 740.1,1766.5 737.2,1771.5C734.2,1776.5 730.1,1778.6 724.7,1781.5C719.3,1784.4 707.2,1786.1 704.7,1789C702.2,1791.9 704.7,1796.9 709.7,1799C714.7,1801.1 726.3,1800.3 734.7,1801.5C743,1802.8 751.3,1806.5 759.6,1806.5C768,1806.5 777.1,1803.2 784.6,1801.5C792.1,1799.8 799.6,1800.7 804.6,1796.5C809.6,1792.3 812.9,1784 814.6,1776.5C816.2,1769 812.1,1759.9 814.6,1751.6C817.1,1743.2 826.2,1733.2 829.6,1726.6C832.9,1719.9 832.1,1715.8 834.6,1711.6C837.1,1707.4 839.5,1705.8 844.5,1701.6C849.5,1697.5 860.4,1692.5 864.5,1686.6C868.7,1680.8 869.5,1672.5 869.5,1666.7C869.5,1660.8 868.7,1652.5 864.5,1651.7C860.4,1650.8 852,1659.6 844.5,1661.7C837.1,1663.7 827.1,1665.8 819.6,1664.2C812.1,1662.5 804.2,1656.2 799.6,1651.7C795,1647.1 792.9,1641.7 792.1,1636.7C791.3,1631.7 791.7,1626.3 794.6,1621.7C797.5,1617.1 803.8,1611.7 809.6,1609.2C815.4,1606.7 822.1,1608 829.6,1606.7C837.1,1605.5 847.9,1604.2 854.5,1601.7C861.2,1599.2 862.9,1592.6 869.5,1591.7C876.2,1590.9 894.5,1596.7 894.5,1596.7L894.5,1347C894.5,1347 853.7,1342 844.5,1347Z" fill="#58b0a7"/>
<path d="M734.7,1811.5C737.2,1808.6 747.2,1808.2 754.6,1809C762.1,1809.8 772.1,1815.7 779.6,1816.5C787.1,1817.3 792.9,1813.2 799.6,1814C806.3,1814.8 813.7,1818.6 819.6,1821.5C825.4,1824.4 831.2,1826.5 834.6,1831.5C837.9,1836.5 839.5,1845.6 839.5,1851.5C839.5,1857.3 848.7,1863.9 834.6,1866.4C820.4,1868.9 768.8,1870.6 754.6,1866.4C740.5,1862.3 752.1,1848.1 749.6,1841.5C747.2,1834.8 742.2,1831.5 739.7,1826.5C737.2,1821.5 732.2,1814.4 734.7,1811.5Z" fill="#58b0a7"/>
<circle cx="777.1" cy="1480.6" r="21" fill="#58b0a7"/>
<path d="M990.5,1093C992.7,1081.9 998.8,1083 1003.8,1079.6C1008.8,1076.3 1014.9,1074.7 1020.4,1073C1026,1071.3 1029.9,1071.9 1037.1,1069.7C1044.3,1067.4 1055.4,1062.2 1063.7,1059.7C1072,1057.2 1079.3,1055.2 1087,1054.7C1094.8,1054.1 1103.7,1053.8 1110.3,1056.3C1117,1058.8 1123.1,1064.1 1127,1069.7C1130.9,1075.2 1130.9,1083 1133.6,1089.6C1136.4,1096.3 1139.7,1103.5 1143.6,1109.6C1147.5,1115.7 1155.8,1120.2 1156.9,1126.3C1158.1,1132.4 1150.3,1146.2 1150.3,1146.2L990.5,1146.2C990.5,1146.2 988.2,1104.1 990.5,1093Z" fill="#58b0a7"/>
<path d="M1300,1244.8C1302.5,1240.6 1310.4,1247.3 1315,1249.8C1319.6,1252.3 1324.6,1255.2 1327.5,1259.8C1330.4,1264.4 1332.9,1272.3 1332.5,1277.3C1332,1282.3 1328.7,1288.5 1325,1289.7C1321.2,1291 1314.2,1287.3 1310,1284.8C1305.8,1282.3 1301.7,1281.4 1300,1274.8C1298.3,1268.1 1297.5,1249 1300,1244.8Z" fill="#58b0a7"/>
<path d="M1359.9,1249.8C1362,1246.9 1369.9,1242.7 1374.9,1242.3C1379.9,1241.9 1387,1244.8 1389.9,1247.3C1392.8,1249.8 1394.1,1255.6 1392.4,1257.3C1390.7,1258.9 1383.2,1256.5 1379.9,1257.3C1376.6,1258.1 1375.3,1261.9 1372.4,1262.3C1369.5,1262.7 1364.5,1261.9 1362.4,1259.8C1360.4,1257.7 1357.9,1252.7 1359.9,1249.8Z" fill="#58b0a7"/>
<path d="M1302.5,1202.3C1303.3,1200.7 1310,1199 1312.5,1199.8C1315,1200.7 1318.3,1205.7 1317.5,1207.3C1316.6,1209 1310,1210.7 1307.5,1209.8C1305,1209 1301.7,1204 1302.5,1202.3Z" fill="#58b0a7"/>
<path d="M1340,1409.6C1343.3,1407.5 1354.1,1403 1357.4,1407.1C1360.8,1411.3 1359.9,1425.8 1359.9,1434.6C1359.9,1443.3 1359.5,1457.1 1357.4,1459.6C1355.4,1462.1 1350.8,1453.7 1347.4,1449.6C1344.1,1445.4 1340.4,1436.3 1337.5,1434.6C1334.5,1432.9 1331.6,1440.4 1330,1439.6C1328.3,1438.8 1326.2,1432.9 1327.5,1429.6C1328.7,1426.3 1335.4,1422.9 1337.5,1419.6C1339.5,1416.3 1336.6,1411.7 1340,1409.6Z" fill="#58b0a7"/>
<path d="M1614.7,1124.9C1621.7,1122 1647.1,1119.5 1654.6,1122.4C1662.1,1125.3 1661.3,1136.2 1659.6,1142.4C1657.9,1148.7 1647.5,1152.8 1644.6,1159.9C1641.7,1167 1643,1177.4 1642.1,1184.9C1641.3,1192.4 1641.7,1199 1639.6,1204.8C1637.5,1210.7 1633,1214.8 1629.6,1219.8C1626.3,1224.8 1623.4,1229.8 1619.6,1234.8C1615.9,1239.8 1610.5,1245.6 1607.2,1249.8C1603.8,1254 1604.2,1259.8 1599.7,1259.8C1595.1,1259.8 1583.9,1254 1579.7,1249.8C1575.5,1245.6 1573,1239 1574.7,1234.8C1576.4,1230.6 1585.5,1229 1589.7,1224.8C1593.8,1220.7 1597.2,1215.7 1599.7,1209.8C1602.2,1204 1604.7,1196.5 1604.7,1189.9C1604.7,1183.2 1600.1,1176.5 1599.7,1169.9C1599.3,1163.2 1600.1,1154.9 1602.2,1149.9C1604.2,1144.9 1610.1,1144.1 1612.2,1139.9C1614.2,1135.8 1607.6,1127.8 1614.7,1124.9Z" fill="#58b0a7"/>
<path d="M1564.7,1179.9C1566.8,1176.1 1574.7,1172.8 1579.7,1172.4C1584.7,1172 1591.3,1173.6 1594.7,1177.4C1598,1181.1 1599.7,1189.4 1599.7,1194.9C1599.7,1200.3 1597.6,1206.9 1594.7,1209.8C1591.8,1212.7 1585.5,1214 1582.2,1212.3C1578.9,1210.7 1577.2,1202.8 1574.7,1199.8C1572.2,1196.9 1568.9,1198.2 1567.2,1194.9C1565.5,1191.5 1562.6,1183.6 1564.7,1179.9Z" fill="#58b0a7"/>
<path d="M1554.7,1267.3C1557.2,1261.4 1557.2,1251 1564.7,1249.8C1572.2,1248.5 1593.4,1254.8 1599.7,1259.8C1605.9,1264.8 1606.3,1274.3 1602.2,1279.8C1598,1285.2 1580.1,1287.3 1574.7,1292.2C1569.3,1297.2 1576.4,1306.8 1569.7,1309.7C1563,1312.6 1545.6,1310.1 1534.7,1309.7C1523.9,1309.3 1510.2,1309.3 1504.8,1307.2C1499.4,1305.1 1500.6,1299.7 1502.3,1297.2C1503.9,1294.7 1509.4,1292.7 1514.8,1292.2C1520.2,1291.8 1528.9,1296 1534.7,1294.7C1540.6,1293.5 1546.4,1289.3 1549.7,1284.8C1553.1,1280.2 1552.2,1273.1 1554.7,1267.3Z" fill="#58b0a7"/>
<path d="M773.3,1753.1C776.1,1758.6 784.4,1738.6 790,1733.1C795.5,1727.5 801.6,1725.3 806.6,1719.8C811.6,1714.2 815.5,1700.9 820,1699.8C824.4,1698.7 829.9,1714.2 833.3,1713.1C836.6,1712 836.6,1698.7 839.9,1693.1C843.3,1687.6 848.3,1685.4 853.3,1679.8C858.2,1674.3 868.2,1665.4 869.9,1659.8C871.6,1654.3 867.1,1647.1 863.2,1646.5C859.4,1646 852.1,1653.2 846.6,1656.5C841,1659.8 835.5,1666.5 829.9,1666.5C824.4,1666.5 818.3,1660.9 813.3,1656.5C808.3,1652.1 802.8,1646 800,1639.8C797.2,1633.7 794.4,1624.9 796.6,1619.9C798.9,1614.9 808.9,1615.4 813.3,1609.9C817.7,1604.3 820.5,1593.2 823.3,1586.6C826.1,1579.9 826.1,1573.8 829.9,1569.9C833.8,1566 841,1559.9 846.6,1563.3C852.1,1566.6 857.7,1582.1 863.2,1589.9C868.8,1597.7 874.3,1603.8 879.9,1609.9C885.4,1616 889.9,1622.6 896.5,1626.5C903.2,1630.4 912.6,1630.4 919.8,1633.2C927.1,1636 933.2,1639.3 939.8,1643.2C946.5,1647.1 953.1,1651.5 959.8,1656.5C966.5,1661.5 975.3,1667.6 979.8,1673.1C984.2,1678.7 980.9,1685.4 986.4,1689.8C992,1694.2 1005.3,1697.6 1013.1,1699.8C1020.8,1702 1027,1704.2 1033.1,1703.1C1039.2,1702 1045.8,1697 1049.7,1693.1C1053.6,1689.2 1056.4,1684.2 1056.4,1679.8C1056.4,1675.4 1048,1667.6 1049.7,1666.5C1051.4,1665.4 1059.1,1672 1066.4,1673.1C1073.6,1674.3 1084.1,1673.7 1093,1673.1C1101.9,1672.6 1113,1672 1119.6,1669.8C1126.3,1667.6 1128.5,1664.3 1132.9,1659.8C1137.4,1655.4 1140.7,1647.6 1146.3,1643.2C1151.8,1638.7 1159,1636 1166.2,1633.2C1173.5,1630.4 1184,1630.4 1189.5,1626.5C1195.1,1622.6 1196.2,1614.3 1199.5,1609.9C1202.9,1605.4 1208.4,1603.8 1209.5,1599.9C1210.6,1596 1205.6,1592.1 1206.2,1586.6C1206.8,1581 1209.5,1572.7 1212.9,1566.6C1216.2,1560.5 1220.6,1553.8 1226.2,1549.9C1231.7,1546.1 1240.6,1542.7 1246.2,1543.3C1251.7,1543.8 1259.5,1549.4 1259.5,1553.3C1259.5,1557.2 1250.6,1561.6 1246.2,1566.6C1241.7,1571.6 1235.6,1577.7 1232.8,1583.2C1230.1,1588.8 1228.4,1596.6 1229.5,1599.9C1230.6,1603.2 1235.6,1605.4 1239.5,1603.2C1243.4,1601 1246.2,1592.7 1252.8,1586.6C1259.5,1580.5 1271.7,1573.3 1279.5,1566.6C1287.2,1559.9 1293.9,1553.3 1299.4,1546.6C1305,1540 1308.3,1533.3 1312.7,1526.6C1317.2,1520 1322.7,1512.2 1326.1,1506.7C1329.4,1501.1 1332.7,1493.3 1332.7,1493.3L1212.9,1493.3C1212.9,1493.3 1196.2,1493.3 1179.6,1493.3C1162.9,1493.3 1135.2,1493.3 1113,1493.3C1090.8,1493.3 1068.6,1493.3 1046.4,1493.3C1024.2,1493.3 1002,1493.3 979.8,1493.3C957.6,1493.3 935.4,1493.3 913.2,1493.3C891,1493.3 869.9,1493.3 846.6,1493.3C823.3,1493.3 785.5,1481.1 773.3,1493.3C761.1,1505.5 773.3,1543.3 773.3,1566.6C773.3,1589.9 773.3,1611 773.3,1633.2C773.3,1655.4 773.3,1679.8 773.3,1699.8C773.3,1719.8 770.6,1747.5 773.3,1753.1Z" fill="#58b0a7"/>
<circle cx="1170.2" cy="1645.5" r="3.5" fill="#58b0a7"/>
<path d="M773.3,1826.3C773.3,1826.3 792.2,1827.4 800,1829.6C807.7,1831.9 813.9,1835.2 820,1839.6C826.1,1844.1 832.7,1849.6 836.6,1856.3C840.5,1862.9 843.8,1873.5 843.3,1879.6C842.7,1885.7 834.9,1886.2 833.3,1892.9C831.6,1899.6 832.2,1911.2 833.3,1919.5C834.4,1927.9 840.5,1935.1 839.9,1942.8C839.4,1950.6 834.4,1959.5 829.9,1966.2C825.5,1972.8 818.3,1977.3 813.3,1982.8C808.3,1988.4 806.6,1994.5 800,1999.5C793.3,2004.4 773.3,2012.8 773.3,2012.8L773.3,1826.3Z" fill="#58b0a7"/>
<path d="M849.9,1095C842.8,1101.2 853.2,1124.6 857.4,1132.5C861.5,1140.4 871.1,1137 874.9,1142.5C878.6,1147.9 880.7,1157 879.9,1164.9C879,1172.8 872.4,1181.2 869.9,1189.9C867.4,1198.6 867,1209 864.9,1217.4C862.8,1225.7 858.2,1232.8 857.4,1239.8C856.5,1246.9 858.6,1253.2 859.9,1259.8C861.1,1266.5 864.9,1273.1 864.9,1279.8C864.9,1286.5 861.5,1293.1 859.9,1299.8C858.2,1306.4 857.4,1313.1 854.9,1319.8C852.4,1326.4 847,1332.7 844.9,1339.7C842.8,1346.8 844.1,1354.3 842.4,1362.2C840.7,1370.1 837,1378.9 834.9,1387.2C832.8,1395.5 831.6,1404.2 829.9,1412.2C828.2,1420.1 827.4,1427.6 824.9,1434.6C822.4,1441.7 819.9,1450.4 814.9,1454.6C809.9,1458.8 802.4,1458.4 795,1459.6C787.5,1460.9 776.2,1458.8 770,1462.1C763.7,1465.4 760,1473.3 757.5,1479.6C755,1485.8 753.7,1492.1 755,1499.6C756.2,1507.1 764.6,1516.2 765,1524.5C765.4,1532.9 760.8,1543.3 757.5,1549.5C754.2,1555.7 747.1,1551.2 745,1562C742.9,1572.8 745,1614.4 745,1614.4L1152.1,1614.4C1152.1,1614.4 1152.1,1568.7 1152.1,1549.5C1152.1,1530.4 1152.1,1516.2 1152.1,1499.6C1152.1,1482.9 1152.1,1466.3 1152.1,1449.6C1152.1,1433 1152.1,1416.3 1152.1,1399.7C1152.1,1383 1152.1,1366.4 1152.1,1349.7C1152.1,1333.1 1152.1,1316.4 1152.1,1299.8C1152.1,1283.1 1152.1,1266.5 1152.1,1249.8C1152.1,1233.2 1152.1,1216.5 1152.1,1199.9C1152.1,1183.2 1152.1,1167.4 1152.1,1149.9C1152.1,1132.5 1160.8,1104.2 1152.1,1095C1143.3,1085.8 1116.7,1095 1099.6,1095C1082.6,1095 1066.3,1095 1049.7,1095C1033,1095 1016.4,1095 999.7,1095C983.1,1095 966.4,1095 949.8,1095C933.1,1095 916.5,1095 899.8,1095C883.2,1095 857,1088.8 849.9,1095Z" fill="#58b0a7"/>
<path d="M703.1,1793.3C705.9,1790.5 717.5,1786.6 723.1,1780C728.6,1773.3 721.4,1757.8 736.4,1753.3C751.4,1748.9 800.2,1747.8 813,1753.3C825.7,1758.9 815.7,1778.9 813,1786.6C810.2,1794.4 803.5,1798.8 796.3,1800C789.1,1801.1 778.5,1792.7 769.7,1793.3C760.8,1793.9 750.8,1802.2 743,1803.3C735.3,1804.4 729.2,1801.1 723.1,1800C717,1798.8 709.7,1797.7 706.4,1796.6C703.1,1795.5 700.3,1796.1 703.1,1793.3Z" fill="#58b0a7"/>
<path d="M749.7,1826.6C751.9,1821 760.8,1820.5 769.7,1819.9C778.5,1819.4 793,1821 803,1823.3C813,1825.5 823.5,1827.1 829.6,1833.3C835.7,1839.4 838.5,1849.9 839.6,1859.9C840.7,1869.9 837.9,1883.2 836.3,1893.2C834.6,1903.2 829.6,1910.9 829.6,1919.8C829.6,1928.7 837.4,1939.8 836.3,1946.5C835.2,1953.1 828.5,1955.3 822.9,1959.8C817.4,1964.2 808.5,1968.7 803,1973.1C797.4,1977.5 794.1,1981.4 789.6,1986.4C785.2,1991.4 781.9,1999.2 776.3,2003.1C770.8,2007 761.9,2011.4 756.4,2009.7C750.8,2008.1 746.9,1998.1 743,1993.1C739.1,1988.1 738.6,1983.6 733,1979.8C727.5,1975.9 711.4,1973.1 709.7,1969.8C708.1,1966.4 717,1962.6 723.1,1959.8C729.2,1957 739.7,1957.6 746.4,1953.1C753,1948.7 756.9,1938.7 763,1933.1C769.1,1927.6 776.3,1924.3 783,1919.8C789.6,1915.4 798.5,1912.1 803,1906.5C807.4,1901 811.8,1891.5 809.6,1886.5C807.4,1881.5 796.3,1879.3 789.6,1876.5C783,1873.8 775.2,1873.8 769.7,1869.9C764.1,1866 759.7,1860.4 756.4,1853.2C753,1846 747.5,1832.1 749.7,1826.6Z" fill="#58b0a7"/>
<path d="M733,1806.6C735.3,1805.5 751.4,1807.7 756.4,1809.9C761.3,1812.2 765.2,1818.8 763,1819.9C760.8,1821 748,1818.8 743,1816.6C738,1814.4 730.8,1807.7 733,1806.6Z" fill="#58b0a7"/>
<path d="M1145,1145C1145,1145 1201.6,1140.8 1214.9,1145C1228.2,1149.2 1218.3,1163.3 1224.9,1170C1231.6,1176.6 1245.3,1180.4 1254.9,1185C1264.5,1189.5 1277.8,1192.9 1282.4,1197.4C1286.9,1202 1284.9,1206.6 1282.4,1212.4C1279.9,1218.3 1272.8,1224.1 1267.4,1232.4C1262,1240.7 1257,1252.8 1249.9,1262.4C1242.8,1271.9 1234.1,1281.9 1224.9,1289.8C1215.8,1297.8 1202.4,1301.5 1195,1309.8C1187.5,1318.1 1183.3,1329 1180,1339.8C1176.6,1350.6 1177.5,1365.6 1175,1374.8C1172.5,1383.9 1170,1390.6 1165,1394.7C1160,1398.9 1145,1399.7 1145,1399.7L1145,1145Z" fill="#58b0a7"/>
<path d="M1232.4,1289.8C1233.2,1284.4 1247.8,1269.5 1254.9,1259.9C1262,1250.3 1269,1239.9 1274.9,1232.4C1280.7,1224.9 1284.9,1216.6 1289.8,1214.9C1294.8,1213.3 1299.8,1219.5 1304.8,1222.4C1309.8,1225.3 1315.7,1227 1319.8,1232.4C1324,1237.8 1327.7,1247.8 1329.8,1254.9C1331.9,1262 1333.1,1269 1332.3,1274.9C1331.5,1280.7 1328.6,1288.2 1324.8,1289.8C1321.1,1291.5 1314.8,1287.3 1309.8,1284.9C1304.8,1282.4 1299.8,1274.9 1294.8,1274.9C1289.8,1274.9 1284,1281.5 1279.9,1284.9C1275.7,1288.2 1274.9,1293.6 1269.9,1294.8C1264.9,1296.1 1256.1,1293.2 1249.9,1292.3C1243.6,1291.5 1231.6,1295.3 1232.4,1289.8Z" fill="#58b0a7"/>
<path d="M1359.8,1249.9C1361.4,1247 1369.8,1243.2 1374.8,1242.4C1379.7,1241.6 1386.8,1242.8 1389.7,1244.9C1392.6,1247 1393.9,1252 1392.2,1254.9C1390.6,1257.8 1384.3,1261.5 1379.7,1262.4C1375.2,1263.2 1368.1,1262 1364.8,1259.9C1361.4,1257.8 1358.1,1252.8 1359.8,1249.9Z" fill="#58b0a7"/>
<path d="M1339.8,1409.7C1344.4,1405.6 1353.9,1404.7 1357.3,1407.2C1360.6,1409.7 1360.2,1418.5 1359.8,1424.7C1359.4,1430.9 1357.3,1443 1354.8,1444.7C1352.3,1446.3 1348.1,1434.7 1344.8,1434.7C1341.5,1434.7 1337.3,1445.1 1334.8,1444.7C1332.3,1444.3 1329,1438 1329.8,1432.2C1330.6,1426.4 1335.2,1413.9 1339.8,1409.7Z" fill="#58b0a7"/>
<path d="M1145,1439.7C1150,1427.2 1166.6,1449.7 1175,1449.7C1183.3,1449.7 1195.8,1435.9 1195,1439.7C1194.1,1443.4 1172.9,1463 1170,1472.1C1167.1,1481.3 1173.3,1488.4 1177.5,1494.6C1181.6,1500.9 1188.7,1505.9 1195,1509.6C1201.2,1513.4 1208.3,1515.4 1214.9,1517.1C1221.6,1518.8 1227.4,1519.2 1234.9,1519.6C1242.4,1520 1250.7,1520 1259.9,1519.6C1269,1519.2 1281.5,1517.1 1289.8,1517.1C1298.2,1517.1 1304,1521.3 1309.8,1519.6C1315.7,1517.9 1321.5,1506.3 1324.8,1507.1C1328.1,1507.9 1329.8,1524.6 1329.8,1524.6L1145,1524.6C1145,1524.6 1140,1452.2 1145,1439.7Z" fill="#58b0a7"/>
<path d="M646.7,323.2C648.3,316 653.3,316.6 656.7,313.2C660,309.9 662.8,306.6 666.6,303.3C670.5,299.9 675.5,296.6 680,293.3C684.4,289.9 688.8,286.3 693.3,283.3C697.7,280.2 702.2,277.2 706.6,275C711,272.7 714.9,271.3 719.9,270C724.9,268.6 731,266.6 736.6,266.6C742.1,266.6 748.2,269.1 753.2,270C758.2,270.8 761.5,271.6 766.5,271.6C771.5,271.6 778.2,269.7 783.2,270C788.2,270.2 793.2,274.4 796.5,273.3C799.8,272.2 799.8,265.2 803.2,263.3C806.5,261.4 812,261.9 816.5,261.6C820.9,261.4 825.4,261.4 829.8,261.6C834.2,261.9 839,262.5 843.1,263.3C847.3,264.1 851.7,263.9 854.8,266.6C857.8,269.4 860.9,275 861.4,279.9C862,284.9 857.8,291.6 858.1,296.6C858.4,301.6 860.6,306 863.1,309.9C865.6,313.8 871.7,316.8 873.1,319.9C874.5,323 873.6,326.6 871.4,328.2C869.2,329.9 863.9,328.8 859.8,329.9C855.6,331 850.9,334.9 846.5,334.9C842,334.9 837.6,330.2 833.1,329.9C828.7,329.6 824.3,332.1 819.8,333.2C815.4,334.3 810.9,334.9 806.5,336.5C802.1,338.2 797.1,340.4 793.2,343.2C789.3,346 786.5,349.9 783.2,353.2C779.9,356.5 776.5,359.3 773.2,363.2C769.9,367.1 765.4,372.9 763.2,376.5C761,380.1 761.5,381.5 759.9,384.8C758.2,388.2 755.2,392.3 753.2,396.5C751.3,400.6 751.6,407.3 748.2,409.8C744.9,412.3 738.5,411.5 733.2,411.5C728,411.5 722.1,410.4 716.6,409.8C711,409.2 704.7,409.2 699.9,408.1C695.2,407 691.1,406.2 688.3,403.1C685.5,400.1 685.5,394.3 683.3,389.8C681.1,385.4 677.7,380.4 675,376.5C672.2,372.6 670,369.6 666.6,366.5C663.3,363.5 658.3,359.9 655,358.2C651.7,356.5 648.1,362.4 646.7,356.5C645.3,350.7 645,330.4 646.7,323.2Z" fill="#58b0a7"/>
<path d="M976.4,1149.7C977.2,1147.2 983,1144.2 986.4,1144.7C989.7,1145.3 995.2,1150 996.3,1153C997.5,1156.1 995.5,1161.9 993,1163C990.5,1164.1 984.1,1161.9 981.4,1159.7C978.6,1157.5 975.5,1152.2 976.4,1149.7Z" fill="#a3dbd3"/>
<path d="M792.1,1604.2C795.2,1599.4 803.3,1598.6 809.6,1598C815.8,1597.4 822.1,1600.9 829.6,1600.5C837.1,1600.1 847.9,1597.6 854.5,1595.5C861.2,1593.4 863.3,1588.8 869.5,1588C875.8,1587.2 888.2,1584 892,1590.5C895.7,1596.9 895.7,1617.3 892,1626.7C888.2,1636.1 877.4,1641.3 869.5,1646.7C861.6,1652.1 852.9,1656.7 844.5,1659.2C836.2,1661.7 827.1,1663.3 819.6,1661.7C812.1,1660 804.4,1655 799.6,1649.2C794.8,1643.3 792.1,1634.2 790.9,1626.7C789.6,1619.2 789,1609 792.1,1604.2Z" fill="#a3dbd3"/>
<path d="M990.5,1033C991.6,1030.3 1000.5,1033.6 1003.8,1036.4C1007.1,1039.1 1011.5,1046.9 1010.4,1049.7C1009.3,1052.5 1000.5,1055.8 997.1,1053C993.8,1050.2 989.4,1035.8 990.5,1033Z" fill="#a3dbd3"/>
<path d="M1592.2,1219.8C1595.1,1215.2 1603,1209 1607.2,1207.3C1611.3,1205.7 1616.3,1206.9 1617.2,1209.8C1618,1212.7 1615.1,1220.7 1612.2,1224.8C1609.2,1229 1603.4,1233.1 1599.7,1234.8C1595.9,1236.5 1590.9,1237.3 1589.7,1234.8C1588.4,1232.3 1589.3,1224.4 1592.2,1219.8Z" fill="#a3dbd3"/>
<path d="M1219.5,1493.3C1205.1,1496.1 1232.8,1506.1 1239.5,1510C1246.2,1513.9 1251.7,1516.1 1259.5,1516.6C1267.2,1517.2 1277.2,1515.5 1286.1,1513.3C1295,1511.1 1306.1,1506.7 1312.7,1503.3C1319.4,1500 1341.6,1495 1326.1,1493.3C1310.5,1491.7 1233.9,1490.6 1219.5,1493.3Z" fill="#a3dbd3"/>
<path d="M823.3,1586.6C823.8,1579.4 826.6,1571.6 829.9,1566.6C833.3,1561.6 838.8,1556.6 843.3,1556.6C847.7,1556.6 851.6,1561.6 856.6,1566.6C861.6,1571.6 872.1,1581.6 873.2,1586.6C874.3,1591.6 867.7,1596.6 863.2,1596.6C858.8,1596.6 851,1584.4 846.6,1586.6C842.2,1588.8 839.9,1606 836.6,1609.9C833.3,1613.8 828.8,1613.8 826.6,1609.9C824.4,1606 822.7,1593.8 823.3,1586.6Z" fill="#a3dbd3"/>
<circle cx="925.5" cy="1621.5" r="7" fill="#a3dbd3"/>
<path d="M773.3,1876.3C776.7,1867.9 787.2,1876.3 793.3,1879.6C799.4,1882.9 808.9,1890.1 810,1896.2C811.1,1902.3 806.1,1910.7 800,1916.2C793.9,1921.8 777.8,1936.2 773.3,1929.5C768.9,1922.9 770,1884.6 773.3,1876.3Z" fill="#a3dbd3"/>
<path d="M974.8,1145C976.8,1142.9 985.2,1140.4 989.7,1142.5C994.3,1144.5 1002.2,1154.1 1002.2,1157.4C1002.2,1160.8 993.9,1162.8 989.7,1162.4C985.6,1162 979.7,1157.9 977.3,1154.9C974.8,1152 972.7,1147 974.8,1145Z" fill="#a3dbd3"/>
<path d="M1004.7,1132.5C1007.2,1131.2 1019.3,1132.9 1024.7,1137.5C1030.1,1142 1037.2,1156.6 1037.2,1159.9C1037.2,1163.3 1029.3,1159.9 1024.7,1157.4C1020.1,1154.9 1013,1149.1 1009.7,1145C1006.4,1140.8 1002.2,1133.7 1004.7,1132.5Z" fill="#a3dbd3"/>
<path d="M899.8,1090C889.8,1093.8 906.5,1107.2 914.8,1112.5C923.1,1117.7 938.4,1120.3 949.8,1121.5C961.1,1122.7 976.9,1121.7 983,1119.7C989.1,1117.8 987.9,1114.7 986.5,1109.7C985.1,1104.8 989.2,1093.3 974.8,1090C960.3,1086.7 909.8,1086.3 899.8,1090Z" fill="#a3dbd3"/>
<path d="M1160,1182.5C1162.1,1180.4 1170.8,1184.1 1175,1187.5C1179.1,1190.8 1185,1198.7 1185,1202.4C1185,1206.2 1178.7,1210.4 1175,1209.9C1171.2,1209.5 1165,1204.5 1162.5,1199.9C1160,1195.4 1157.9,1184.5 1160,1182.5Z" fill="#a3dbd3"/>
<path d="M1192.5,1165C1193.7,1161.7 1204.1,1158.3 1207.4,1160C1210.8,1161.7 1213.7,1171.6 1212.4,1175C1211.2,1178.3 1203.3,1181.6 1199.9,1180C1196.6,1178.3 1191.2,1168.3 1192.5,1165Z" fill="#a3dbd3"/>
<path d="M1165,1399.7C1168.7,1394.7 1177.9,1393.1 1182.5,1394.7C1187,1396.4 1190.4,1402.6 1192.5,1409.7C1194.5,1416.8 1198.7,1432.2 1195,1437.2C1191.2,1442.2 1175.8,1441.8 1170,1439.7C1164.2,1437.6 1160.8,1431.4 1160,1424.7C1159.2,1418 1161.2,1404.7 1165,1399.7Z" fill="#a3dbd3"/>
<path d="M798.2,279.9C799.3,278 804.3,276.1 806.5,276.6C808.7,277.2 811.2,281.1 811.5,283.3C811.8,285.5 810.1,289.1 808.2,289.9C806.2,290.8 801.5,289.9 799.8,288.3C798.2,286.6 797.1,281.9 798.2,279.9Z" fill="#a3dbd3"/>
<path d="M914.8,1018.2C914.8,1015.7 920.3,1012.6 923.1,1011.5C925.9,1010.4 930.6,1009.6 931.4,1011.5C932.2,1013.5 929.5,1020.7 928.1,1023.2C926.7,1025.7 925.3,1027.3 923.1,1026.5C920.9,1025.7 914.8,1020.7 914.8,1018.2Z" fill="#def0ed"/>
<path d="M913.1,1053.1C914.5,1051.2 917,1050.1 919.8,1051.5C922.5,1052.9 927,1058.7 929.7,1061.5C932.5,1064.2 935.9,1065.1 936.4,1068.1C937,1071.2 935.3,1078.1 933.1,1079.8C930.9,1081.4 926.1,1078.7 923.1,1078.1C920,1077.6 916.7,1078.9 914.8,1076.5C912.8,1074 911.7,1067 911.4,1063.1C911.2,1059.2 911.7,1055.1 913.1,1053.1Z" fill="#def0ed"/>
<path d="M909.8,1091.4C910.9,1089.8 915.9,1087.3 919.8,1088.1C923.6,1088.9 930.9,1093.9 933.1,1096.4C935.3,1098.9 934.7,1102.3 933.1,1103.1C931.4,1103.9 926.4,1102.3 923.1,1101.4C919.8,1100.6 915.3,1099.8 913.1,1098.1C910.9,1096.4 908.7,1093.1 909.8,1091.4Z" fill="#def0ed"/>
<path d="M1597.2,1219.8C1598.8,1217.3 1607.6,1212.3 1609.7,1212.3C1611.7,1212.3 1611.3,1217.3 1609.7,1219.8C1608,1222.3 1601.8,1227.3 1599.7,1227.3C1597.6,1227.3 1595.5,1222.3 1597.2,1219.8Z" fill="#def0ed"/>
<path d="M838.3,1569.9C839.4,1561 844.1,1561.6 844.9,1566.6C845.8,1571.6 844.4,1591 843.3,1599.9C842.2,1608.8 839.1,1624.9 838.3,1619.9C837.4,1614.9 837.2,1578.8 838.3,1569.9Z" fill="#def0ed"/>
<path d="M1229.9,1457.2C1233.7,1452.6 1243.2,1451.3 1249.9,1452.2C1256.5,1453 1263.2,1458.4 1269.9,1462.2C1276.5,1465.9 1284,1470.5 1289.8,1474.6C1295.7,1478.8 1303.2,1483 1304.8,1487.1C1306.5,1491.3 1304,1497.1 1299.8,1499.6C1295.7,1502.1 1286.5,1502.1 1279.9,1502.1C1273.2,1502.1 1265.7,1498.8 1259.9,1499.6C1254.1,1500.4 1249.5,1507.1 1244.9,1507.1C1240.3,1507.1 1235.3,1504.2 1232.4,1499.6C1229.5,1495 1227.8,1486.7 1227.4,1479.6C1227,1472.6 1226.2,1461.7 1229.9,1457.2Z" fill="#def0ed"/>
<path d="M791.5,414.8C792.9,412.9 797.3,411.5 799.8,411.5C802.3,411.5 806.5,413.4 806.5,414.8C806.5,416.2 801.5,417.3 799.8,419.8C798.2,422.3 797.6,426.5 796.5,429.8C795.4,433.1 794.8,436.4 793.2,439.8C791.5,443.1 788.7,447.8 786.5,449.8C784.3,451.7 780.4,452.5 779.9,451.4C779.3,450.3 781.5,446.2 783.2,443.1C784.9,440 788.5,436.4 789.8,433.1C791.2,429.8 791.2,426.2 791.5,423.1C791.8,420.1 790.1,416.7 791.5,414.8Z" fill="#58b0a7"/>
<circle cx="789.8" cy="456.4" r="5" fill="#58b0a7"/>
<path d="M527.6,268.9C531.8,266.1 546,263.9 550.9,265.6C555.9,267.2 557,273.3 557.6,278.9C558.2,284.4 558.7,295.5 554.3,298.9C549.8,302.2 535.7,301.6 531,298.9C526.3,296.1 526.5,287.2 526,282.2C525.4,277.2 523.5,271.7 527.6,268.9Z" fill="#1a7e76"/>
<path d="M534.3,478.7C538.2,473.4 546,470.3 550.9,470.3C555.9,470.3 561.5,473.9 564.3,478.7C567,483.4 568.1,492 567.6,498.6C567,505.3 563.7,512 560.9,518.6C558.2,525.3 555.4,533 550.9,538.6C546.5,544.1 539.8,548.6 534.3,551.9C528.7,555.2 522.6,556.4 517.6,558.6C512.7,560.8 508.8,566.3 504.3,565.2C499.9,564.1 494.3,555.2 491,551.9C487.7,548.6 483.2,548.6 484.4,545.3C485.5,541.9 492.7,536.4 497.7,531.9C502.7,527.5 509.3,523.6 514.3,518.6C519.3,513.6 524.3,508.6 527.6,502C531,495.3 530.4,483.9 534.3,478.7Z" fill="#1a7e76"/>
<path d="M434.4,668.5C438.8,663.5 451.1,661.8 457.7,661.8C464.4,661.8 470.5,662.9 474.4,668.5C478.2,674 479.4,686.2 481,695.1C482.7,704 482.1,714 484.4,721.7C486.6,729.5 492.1,733.9 494.3,741.7C496.6,749.5 496.6,760.6 497.7,768.3C498.8,776.1 502.7,784.4 501,788.3C499.3,792.2 492.1,793.9 487.7,791.6C483.2,789.4 478.8,781.1 474.4,775C469.9,768.9 465.5,761.7 461,755C456.6,748.4 451.6,741.7 447.7,735C443.8,728.4 440.5,722.3 437.7,715.1C435,707.9 431.6,699.5 431.1,691.8C430.5,684 430,673.4 434.4,668.5Z" fill="#1a7e76"/>
<circle cx="455.1" cy="594.2" r="5" fill="#1a7e76"/>
<circle cx="469.4" cy="593.5" r="5" fill="#1a7e76"/>
<circle cx="483.7" cy="593.5" r="5" fill="#1a7e76"/>
<circle cx="517" cy="769.3" r="5" fill="#1a7e76"/>
<circle cx="454.4" cy="736.7" r="5" fill="#1a7e76"/>
<path d="M958.8,448.7C961,445.4 968,442.6 973.8,442C979.6,441.5 989.9,442 993.8,445.4C997.7,448.7 998.8,457.8 997.1,462C995.5,466.2 988.2,469.2 983.8,470.3C979.4,471.4 974.4,470.1 970.5,468.7C966.6,467.3 962.4,465.3 960.5,462C958.6,458.7 956.6,452 958.8,448.7Z" fill="#1a7e76"/>
<path d="M748.3,1019.8C750.8,1016.2 762.4,1016 769.9,1014.9C777.4,1013.7 786,1012.9 793.2,1013.2C800.4,1013.5 807.7,1014.6 813.2,1016.5C818.8,1018.5 823.2,1021.5 826.5,1024.8C829.9,1028.2 830.4,1032.9 833.2,1036.5C836,1040.1 840.4,1042.6 843.2,1046.5C846,1050.4 847.3,1055.9 849.8,1059.8C852.3,1063.7 855.9,1065.4 858.2,1069.8C860.4,1074.2 861.5,1081.4 863.2,1086.4C864.8,1091.4 866.8,1095.3 868.1,1099.8C869.5,1104.2 871.8,1108.9 871.5,1113.1C871.2,1117.2 869,1122.2 866.5,1124.7C864,1127.2 860.4,1128.1 856.5,1128.1C852.6,1128.1 847.6,1125.6 843.2,1124.7C838.7,1123.9 833.7,1124.5 829.9,1123.1C826,1121.7 823.2,1119.2 819.9,1116.4C816.5,1113.6 813.2,1110 809.9,1106.4C806.5,1102.8 802.7,1098.9 799.9,1094.8C797.1,1090.6 796.8,1085.6 793.2,1081.4C789.6,1077.3 782.4,1072.6 778.2,1069.8C774.1,1067 770.8,1068.1 768.3,1064.8C765.8,1061.5 765.5,1054.5 763.3,1049.8C761,1045.1 757.4,1041.5 754.9,1036.5C752.4,1031.5 745.8,1023.5 748.3,1019.8Z" fill="#1a7e76"/>
<path d="M883.1,1179.7C884.2,1174.7 889.2,1168 893.1,1163C897,1158 900.9,1152.8 906.4,1149.7C912,1146.7 919.8,1145.8 926.4,1144.7C933.1,1143.6 941.4,1141.7 946.4,1143C951.4,1144.4 953.6,1149.1 956.4,1153C959.2,1156.9 960.3,1162.5 963,1166.4C965.8,1170.2 968.6,1173.6 973,1176.3C977.5,1179.1 983.6,1181.1 989.7,1183C995.8,1184.9 1006.3,1181.3 1009.7,1188C1013,1194.7 1028,1217.1 1009.7,1223C991.3,1228.8 919.2,1225.7 899.8,1223C880.4,1220.2 895.3,1211.3 893.1,1206.3C890.9,1201.3 888.1,1197.4 886.5,1193C884.8,1188.5 882,1184.7 883.1,1179.7Z" fill="#1a7e76"/>
<path d="M1706.3,779.7C1708,777 1718,775.8 1723,776.4C1728,777 1735.2,779.7 1736.3,783.1C1737.4,786.4 1733.5,794.7 1729.6,796.4C1725.8,798 1716.9,795.8 1713,793C1709.1,790.3 1704.7,782.5 1706.3,779.7Z" fill="#1a7e76"/>
<path d="M1494.9,863C1496.8,861.3 1504.1,860.2 1506.6,861.3C1509.1,862.4 1510.7,867.1 1509.9,869.6C1509.1,872.1 1504.1,876 1501.6,876.3C1499.1,876.6 1496,873.5 1494.9,871.3C1493.8,869.1 1493,864.6 1494.9,863Z" fill="#1a7e76"/>
<path d="M622.2,954.9C623.9,953 630.1,951.1 634.7,951.1C639.3,951.1 644.7,953 649.7,954.9C654.7,956.8 659.7,959.9 664.7,962.4C669.6,964.9 674.6,966.9 679.6,969.9C684.6,972.8 690.9,976.9 694.6,979.9C698.4,982.8 701.7,984.8 702.1,987.3C702.5,989.8 700.4,993.6 697.1,994.8C693.8,996.1 686.7,995.3 682.1,994.8C677.6,994.4 673.8,993.2 669.6,992.3C665.5,991.5 661.3,991.9 657.2,989.8C653,987.8 648.8,983.2 644.7,979.9C640.5,976.5 635.5,972.8 632.2,969.9C628.9,966.9 626.4,964.9 624.7,962.4C623,959.9 620.5,956.8 622.2,954.9Z" fill="#1a7e76"/>
<circle cx="682.1" cy="1006.8" r="3" fill="#1a7e76"/>
<path d="M854.5,1347C847,1352 852,1367.8 849.5,1377C847,1386.1 844.5,1392.4 839.5,1401.9C834.6,1411.5 823.7,1425.3 819.6,1434.4C815.4,1443.6 817.1,1449 814.6,1456.9C812.1,1464.8 808.8,1476 804.6,1481.9C800.4,1487.7 794.6,1488.5 789.6,1491.8C784.6,1495.2 778.8,1496.8 774.6,1501.8C770.5,1506.8 767.5,1515.2 764.6,1521.8C761.7,1528.5 761.3,1537.2 757.1,1541.8C753,1546.4 744.7,1546 739.7,1549.3C734.7,1552.6 729.7,1556.4 727.2,1561.8C724.7,1567.2 725.1,1574.3 724.7,1581.7C724.3,1589.2 722.6,1600.1 724.7,1606.7C726.8,1613.4 734.7,1614.2 737.2,1621.7C739.7,1629.2 738.8,1642.5 739.7,1651.7C740.5,1660.8 740.5,1668.3 742.2,1676.6C743.8,1685 746.7,1693.3 749.6,1701.6C752.6,1709.9 756.3,1718.3 759.6,1726.6C763,1734.9 767.1,1746.1 769.6,1751.6C772.1,1757 772.1,1760.7 774.6,1759.1C777.1,1757.4 781.7,1748.6 784.6,1741.6C787.5,1734.5 790,1724.9 792.1,1716.6C794.2,1708.3 797.5,1700 797.1,1691.6C796.7,1683.3 791.7,1674.1 789.6,1666.7C787.5,1659.2 786.3,1653.3 784.6,1646.7C782.9,1640 778.8,1632.1 779.6,1626.7C780.4,1621.3 785.4,1618.4 789.6,1614.2C793.8,1610 799.6,1605.5 804.6,1601.7C809.6,1598 817.1,1595.9 819.6,1591.7C822.1,1587.6 817.9,1581.7 819.6,1576.8C821.2,1571.8 824.6,1565.9 829.6,1561.8C834.6,1557.6 843.7,1555.9 849.5,1551.8C855.4,1547.6 857,1541 864.5,1536.8C872,1532.6 894.5,1526.8 894.5,1526.8L894.5,1347C894.5,1347 862,1342 854.5,1347Z" fill="#1a7e76"/>
<circle cx="777.1" cy="1481.9" r="16" fill="#1a7e76"/>
<path d="M1050.4,1106.3C1053.2,1104.1 1062,1104.1 1067,1106.3C1072,1108.5 1078.7,1114.6 1080.4,1119.6C1082,1124.6 1080.4,1134 1077,1136.3C1073.7,1138.5 1064.8,1135.7 1060.4,1132.9C1055.9,1130.1 1052.1,1124 1050.4,1119.6C1048.7,1115.2 1047.6,1108.5 1050.4,1106.3Z" fill="#1a7e76"/>
<circle cx="1103.7" cy="1183.5" r="9" fill="#1a7e76"/>
<circle cx="1172.9" cy="1160.6" r="4" fill="#1a7e76"/>
<circle cx="1029.8" cy="1103" r="4" fill="#1a7e76"/>
<path d="M1342.5,1409.6C1343.5,1407.3 1353.7,1405.5 1356.2,1408.4C1358.7,1411.3 1358.5,1424.8 1357.4,1427.1C1356.4,1429.4 1352.4,1425 1349.9,1422.1C1347.4,1419.2 1341.4,1411.9 1342.5,1409.6Z" fill="#1a7e76"/>
<path d="M1579.7,1239.8C1581.4,1236.5 1590.1,1234 1594.7,1234.8C1599.3,1235.6 1606.3,1241.1 1607.2,1244.8C1608,1248.5 1603.4,1255.6 1599.7,1257.3C1595.9,1258.9 1588,1257.7 1584.7,1254.8C1581.4,1251.9 1578,1243.1 1579.7,1239.8Z" fill="#1a7e76"/>
<path d="M1564.7,1249.8C1566.8,1246.5 1571.8,1243.5 1574.7,1244.8C1577.6,1246 1578,1254.8 1582.2,1257.3C1586.4,1259.8 1596.8,1256.9 1599.7,1259.8C1602.6,1262.7 1602.2,1270.6 1599.7,1274.8C1597.2,1278.9 1587.6,1284.8 1584.7,1284.8C1581.8,1284.8 1584.3,1276.8 1582.2,1274.8C1580.1,1272.7 1575.5,1273.9 1572.2,1272.3C1568.9,1270.6 1563.5,1268.5 1562.2,1264.8C1561,1261 1562.6,1253.1 1564.7,1249.8Z" fill="#1a7e76"/>
<path d="M1507.3,1299.7C1509.4,1297.9 1519.3,1296.8 1524.8,1297.2C1530.2,1297.7 1535.6,1301.8 1539.7,1302.2C1543.9,1302.6 1544.7,1301 1549.7,1299.7C1554.7,1298.5 1566.4,1293.1 1569.7,1294.7C1573,1296.4 1575.5,1307.2 1569.7,1309.7C1563.9,1312.2 1544.3,1309.9 1534.7,1309.7C1525.2,1309.5 1516.8,1310.1 1512.3,1308.5C1507.7,1306.8 1505.2,1301.6 1507.3,1299.7Z" fill="#1a7e76"/>
<path d="M986.4,1553.3C986.4,1548.3 993.1,1541.1 999.8,1536.6C1006.4,1532.2 1017,1529.4 1026.4,1526.6C1035.8,1523.9 1047.5,1522.2 1056.4,1520C1065.2,1517.8 1072.5,1516.6 1079.7,1513.3C1086.9,1510 1093.5,1503.3 1099.6,1500C1105.8,1496.7 1109.6,1494.5 1116.3,1493.3C1123,1492.2 1137.9,1490 1139.6,1493.3C1141.3,1496.7 1130.7,1507.8 1126.3,1513.3C1121.8,1518.9 1117.4,1522.8 1113,1526.6C1108.5,1530.5 1103,1533.9 1099.6,1536.6C1096.3,1539.4 1097.4,1542.7 1093,1543.3C1088.5,1543.8 1077.5,1537.2 1073,1540C1068.6,1542.7 1068.6,1553.3 1066.4,1559.9C1064.1,1566.6 1064.1,1577.7 1059.7,1579.9C1055.3,1582.1 1046.4,1574.9 1039.7,1573.3C1033.1,1571.6 1026.4,1571 1019.7,1569.9C1013.1,1568.8 1005.3,1569.4 999.8,1566.6C994.2,1563.8 986.4,1558.3 986.4,1553.3Z" fill="#1a7e76"/>
<path d="M876.6,1536.6C878.2,1531.1 883.8,1523.9 889.9,1520C896,1516.1 907.6,1511.1 913.2,1513.3C918.7,1515.5 922.1,1526.6 923.2,1533.3C924.3,1540 922.6,1547.2 919.8,1553.3C917.1,1559.4 911,1567.7 906.5,1569.9C902.1,1572.1 897.6,1569.4 893.2,1566.6C888.8,1563.8 882.7,1558.3 879.9,1553.3C877.1,1548.3 874.9,1542.2 876.6,1536.6Z" fill="#1a7e76"/>
<path d="M1169.6,1540C1170.7,1536.1 1174.6,1529.4 1179.6,1526.6C1184.6,1523.9 1195.1,1522.8 1199.5,1523.3C1204,1523.9 1207.9,1527.7 1206.2,1530C1204.5,1532.2 1193.4,1533.9 1189.5,1536.6C1185.7,1539.4 1185.7,1544.4 1182.9,1546.6C1180.1,1548.8 1175.1,1551.1 1172.9,1549.9C1170.7,1548.8 1168.5,1543.8 1169.6,1540Z" fill="#1a7e76"/>
<path d="M899.8,1149.9C905.7,1146.6 916.5,1145.8 924.8,1145C933.1,1144.1 944,1142.5 949.8,1145C955.6,1147.4 955.6,1154.9 959.8,1159.9C963.9,1164.9 968.1,1171.2 974.8,1174.9C981.4,1178.7 991.4,1180.7 999.7,1182.4C1008,1184.1 1017.2,1183.7 1024.7,1184.9C1032.2,1186.2 1038.4,1187.8 1044.7,1189.9C1050.9,1192 1055.9,1195.7 1062.2,1197.4C1068.4,1199.1 1078.4,1196.1 1082.1,1199.9C1085.9,1203.6 1085,1213.2 1084.6,1219.9C1084.2,1226.5 1080.9,1233.2 1079.6,1239.8C1078.4,1246.5 1078,1251.5 1077.1,1259.8C1076.3,1268.1 1071.7,1283.1 1074.6,1289.8C1077.6,1296.5 1089.2,1295.6 1094.6,1299.8C1100,1303.9 1104.2,1308.9 1107.1,1314.8C1110,1320.6 1109.2,1328.5 1112.1,1334.7C1115,1341 1122.9,1345.6 1124.6,1352.2C1126.3,1358.9 1122.9,1367.6 1122.1,1374.7C1121.3,1381.8 1117.5,1388.4 1119.6,1394.7C1121.7,1400.9 1132.1,1406.3 1134.6,1412.2C1137.1,1418 1132.5,1423.4 1134.6,1429.6C1136.7,1435.9 1146.2,1443 1147.1,1449.6C1147.9,1456.3 1140.8,1462.9 1139.6,1469.6C1138.3,1476.3 1142.1,1482.9 1139.6,1489.6C1137.1,1496.2 1130.4,1505.4 1124.6,1509.5C1118.8,1513.7 1111.7,1510 1104.6,1514.5C1097.5,1519.1 1087.5,1529.9 1082.1,1537C1076.7,1544.1 1075.1,1550.8 1072.1,1557C1069.2,1563.2 1068.4,1571.6 1064.7,1574.5C1060.9,1577.4 1056.3,1575.3 1049.7,1574.5C1043,1573.6 1033,1571.1 1024.7,1569.5C1016.4,1567.8 1006,1567.8 999.7,1564.5C993.5,1561.2 988.9,1554.5 987.2,1549.5C985.6,1544.5 985.6,1538.7 989.7,1534.5C993.9,1530.4 1003.1,1527 1012.2,1524.5C1021.4,1522 1037.2,1522.9 1044.7,1519.5C1052.2,1516.2 1056.3,1510.4 1057.2,1504.6C1058,1498.7 1053,1488.3 1049.7,1484.6C1046.3,1480.8 1042.2,1480.4 1037.2,1482.1C1032.2,1483.7 1027.6,1492.5 1019.7,1494.6C1011.8,1496.6 999.3,1495.8 989.7,1494.6C980.2,1493.3 971.4,1486.2 962.3,1487.1C953.1,1487.9 941,1493.3 934.8,1499.6C928.6,1505.8 926.9,1516.2 924.8,1524.5C922.7,1532.9 924.8,1542.8 922.3,1549.5C919.8,1556.2 914.4,1561.2 909.8,1564.5C905.2,1567.8 899.8,1571.1 894.8,1569.5C889.8,1567.8 882.8,1559.5 879.9,1554.5C876.9,1549.5 876.5,1545.3 877.4,1539.5C878.2,1533.7 886.1,1523.7 884.9,1519.5C883.6,1515.4 874.4,1512 869.9,1514.5C865.3,1517 860.7,1528.7 857.4,1534.5C854.1,1540.3 855.3,1544.9 849.9,1549.5C844.5,1554.1 833.2,1557.8 824.9,1562C816.6,1566.2 804.1,1568.2 799.9,1574.5C795.8,1580.7 801.6,1592.8 799.9,1599.5C798.3,1606.1 795.8,1611.9 790,1614.4C784.1,1616.9 770,1621.1 765,1614.4C760,1607.8 758.3,1585.3 760,1574.5C761.7,1563.7 772.5,1557.8 775,1549.5C777.5,1541.2 776.6,1532.9 775,1524.5C773.3,1516.2 765.8,1508.7 765,1499.6C764.2,1490.4 765,1475 770,1469.6C775,1464.2 787.9,1463.8 795,1467.1C802,1470.4 806.6,1488.3 812.4,1489.6C818.3,1490.8 823.7,1479.2 829.9,1474.6C836.2,1470 846.6,1468.3 849.9,1462.1C853.2,1455.9 851.1,1445.5 849.9,1437.1C848.6,1428.8 843.2,1420.5 842.4,1412.2C841.6,1403.8 842.4,1395.5 844.9,1387.2C847.4,1378.9 855.7,1370.5 857.4,1362.2C859,1353.9 854.5,1344.3 854.9,1337.2C855.3,1330.2 857.4,1326 859.9,1319.8C862.4,1313.5 867.4,1307.3 869.9,1299.8C872.4,1292.3 874.9,1283.1 874.9,1274.8C874.9,1266.5 869,1258.2 869.9,1249.8C870.7,1241.5 877.4,1233.2 879.9,1224.9C882.4,1216.5 884.9,1207 884.9,1199.9C884.9,1192.8 879,1188.2 879.9,1182.4C880.7,1176.6 886.5,1170.3 889.8,1164.9C893.2,1159.5 894,1153.3 899.8,1149.9Z" fill="#1a7e76"/>
<path d="M807.4,1095C817,1091.7 859,1090.4 869.9,1095C880.7,1099.6 874,1117.1 872.4,1122.5C870.7,1127.9 864.5,1127.1 859.9,1127.5C855.3,1127.9 850.7,1125.8 844.9,1125C839.1,1124.1 830.3,1124.1 824.9,1122.5C819.5,1120.8 815.3,1119.6 812.4,1115C809.5,1110.4 797.9,1098.3 807.4,1095Z" fill="#1a7e76"/>
<path d="M1092.1,1177.4C1093,1174.5 1100.9,1174.1 1104.6,1174.9C1108.4,1175.8 1113.4,1179.5 1114.6,1182.4C1115.8,1185.3 1114.6,1190.7 1112.1,1192.4C1109.6,1194.1 1102.9,1194.9 1099.6,1192.4C1096.3,1189.9 1091.3,1180.3 1092.1,1177.4Z" fill="#1a7e76"/>
<circle cx="1173.3" cy="1160.7" r="3" fill="#1a7e76"/>
<path d="M1049.7,1107.5C1052.2,1104.6 1060.1,1105.4 1064.7,1107.5C1069.2,1109.6 1075.1,1114.6 1077.1,1120C1079.2,1125.4 1079.2,1137 1077.1,1140C1075.1,1142.9 1069.2,1140 1064.7,1137.5C1060.1,1135 1052.2,1130 1049.7,1125C1047.2,1120 1047.2,1110.4 1049.7,1107.5Z" fill="#1a7e76"/>
<circle cx="772.3" cy="1948.1" r="5" fill="#1a7e76"/>
<circle cx="1173" cy="1160.5" r="4" fill="#1a7e76"/>
<path d="M1342.3,1409.7C1343.7,1407.8 1353.5,1406.4 1356,1408.5C1358.5,1410.5 1358.7,1420.3 1357.3,1422.2C1355.8,1424.1 1349.8,1421.8 1347.3,1419.7C1344.8,1417.6 1340.8,1411.6 1342.3,1409.7Z" fill="#1a7e76"/>
<path d="M666.6,323.2C667.2,319.3 670,316.6 673.3,313.2C676.6,309.9 682.2,306.6 686.6,303.3C691.1,299.9 695.5,296.6 699.9,293.3C704.4,289.9 708.8,286 713.3,283.3C717.7,280.5 721.6,278 726.6,276.6C731.6,275.2 737.7,275 743.2,275C748.8,275 754.3,276.1 759.9,276.6C765.4,277.2 771.5,277.4 776.5,278.3C781.5,279.1 786.5,279.1 789.8,281.6C793.2,284.1 794.3,289.7 796.5,293.3C798.7,296.9 800.7,299.4 803.2,303.3C805.7,307.1 810.4,312.7 811.5,316.6C812.6,320.5 811.8,324.1 809.8,326.6C807.9,329.1 803.7,329.9 799.8,331.6C796,333.2 790.1,334.1 786.5,336.5C782.9,339 780.4,342.7 778.2,346.5C776,350.4 775.7,356 773.2,359.9C770.7,363.7 767.1,366.8 763.2,369.8C759.3,372.9 754.9,376.5 749.9,378.2C744.9,379.8 738.8,379.8 733.2,379.8C727.7,379.8 721.3,379 716.6,378.2C711.9,377.3 707.7,377.9 704.9,374.8C702.2,371.8 701.9,364 699.9,359.9C698,355.7 696.6,352.4 693.3,349.9C690,347.4 683.9,347.1 680,344.9C676.1,342.7 672.2,340.2 670,336.5C667.8,332.9 666.1,327.1 666.6,323.2Z" fill="#1a7e76"/>
<circle cx="851.4" cy="275" r="5" fill="#1a7e76"/>
<circle cx="835.6" cy="291.6" r="8" fill="#1a7e76"/>
<circle cx="821.5" cy="307.4" r="4" fill="#1a7e76"/>
<circle cx="820.6" cy="322.9" r="3" fill="#1a7e76"/>
<circle cx="709.1" cy="386.5" r="3" fill="#1a7e76"/>
<circle cx="724.9" cy="386.5" r="3" fill="#1a7e76"/>
<path d="M793.2,429.8C794.1,428.4 796.8,426.7 797.3,428.1C797.9,429.5 797.5,435.3 796.5,438.1C795.5,440.9 792.9,443.7 791.5,444.8C790.1,445.9 788.2,446.2 788.2,444.8C788.2,443.4 790.7,438.9 791.5,436.4C792.3,433.9 792.2,431.2 793.2,429.8Z" fill="#1a7e76"/>
<circle cx="789.8" cy="456.4" r="2.5" fill="#1a7e76"/>
<path d="M1532.2,1284.8C1533.9,1282.3 1543.5,1281.8 1549.7,1279.8C1556,1277.7 1565.5,1272.7 1569.7,1272.3C1573.9,1271.9 1576.4,1274.3 1574.7,1277.3C1573,1280.2 1565.5,1286.8 1559.7,1289.7C1553.9,1292.7 1544.3,1295.6 1539.7,1294.7C1535.2,1293.9 1530.6,1287.3 1532.2,1284.8Z" fill="#a3dbd3"/>
<path d="M536,477C537.6,474.2 543.7,471.7 546,473.7C548.2,475.6 549.8,484.8 549.3,488.6C548.7,492.5 544.8,496.7 542.6,497C540.4,497.3 537.1,493.6 536,490.3C534.9,487 534.3,479.8 536,477Z" fill="#005046"/>
<path d="M552.6,475.3C553.8,473.7 559.8,474.8 560.9,477C562,479.2 560.5,487 559.3,488.6C558,490.3 554.7,489.2 553.6,487C552.5,484.8 551.4,477 552.6,475.3Z" fill="#005046"/>
<circle cx="519.3" cy="531.9" r="5" fill="#005046"/>
<circle cx="471" cy="753.4" r="5" fill="#005046"/>
<path d="M975.5,447C976.3,445.1 982.1,444.3 983.8,445.4C985.5,446.5 986.3,451.7 985.5,453.7C984.6,455.6 980.5,458.1 978.8,457C977.1,455.9 974.6,449 975.5,447Z" fill="#005046"/>
<path d="M769.9,1049.8C771.9,1047.9 778.2,1045.4 783.2,1044.8C788.2,1044.3 795.5,1045.4 799.9,1046.5C804.3,1047.6 808.8,1049.8 809.9,1051.5C811,1053.1 805.4,1054.5 806.5,1056.5C807.7,1058.4 813.2,1060.9 816.5,1063.1C819.9,1065.4 823.2,1067.6 826.5,1069.8C829.9,1072 833.7,1073.7 836.5,1076.5C839.3,1079.2 841.5,1082.3 843.2,1086.4C844.8,1090.6 846.2,1097 846.5,1101.4C846.8,1105.9 846,1109.5 844.8,1113.1C843.7,1116.7 842.9,1122 839.8,1123.1C836.8,1124.2 830.4,1121.4 826.5,1119.7C822.6,1118.1 819.3,1115.6 816.5,1113.1C813.8,1110.6 812.1,1107.5 809.9,1104.8C807.7,1102 805.4,1099.8 803.2,1096.4C801,1093.1 798.2,1088.1 796.6,1084.8C794.9,1081.4 794.9,1079.2 793.2,1076.5C791.6,1073.7 789.1,1070.6 786.6,1068.1C784.1,1065.6 780.7,1063.4 778.2,1061.5C775.8,1059.5 773,1058.4 771.6,1056.5C770.2,1054.5 768,1051.8 769.9,1049.8Z" fill="#005046"/>
<path d="M888.1,1178C889,1175.2 898.4,1167.2 901.4,1166.4C904.5,1165.5 903.1,1172.7 906.4,1173C909.8,1173.3 920,1167.2 921.4,1168C922.8,1168.8 915.6,1174.7 914.8,1178C913.9,1181.3 917.8,1186.6 916.4,1188C915,1189.4 909.8,1187.2 906.4,1186.3C903.1,1185.5 899.5,1184.4 896.5,1183C893.4,1181.6 887.3,1180.8 888.1,1178Z" fill="#005046"/>
<path d="M933.1,1223C921.4,1220.7 934.2,1212.7 939.7,1209.6C945.3,1206.6 954.7,1206 966.4,1204.6C978,1203.3 1002.4,1198.3 1009.7,1201.3C1016.9,1204.4 1022.4,1219.3 1009.7,1223C996.9,1226.6 944.7,1225.2 933.1,1223Z" fill="#005046"/>
<circle cx="1503.2" cy="868" r="4.5" fill="#005046"/>
<path d="M642.2,969.9C642.6,968 646.3,965.7 649.7,966.1C653,966.5 659.2,970.1 662.2,972.4C665.1,974.6 668,978.4 667.2,979.9C666.3,981.3 660.5,981.5 657.2,981.1C653.8,980.7 649.7,979.2 647.2,977.4C644.7,975.5 641.8,971.7 642.2,969.9Z" fill="#005046"/>
<path d="M869.5,1347C864.5,1352.8 867,1371.1 864.5,1382C862,1392.8 855.4,1402.8 854.5,1411.9C853.7,1421.1 857,1429.4 859.5,1436.9C862,1444.4 870.3,1449.4 869.5,1456.9C868.7,1464.4 861.2,1476 854.5,1481.9C847.9,1487.7 837.1,1490.2 829.6,1491.8C822.1,1493.5 816.2,1490.6 809.6,1491.8C802.9,1493.1 794.6,1495.6 789.6,1499.3C784.6,1503.1 780.4,1508.9 779.6,1514.3C778.8,1519.7 785.4,1525.6 784.6,1531.8C783.8,1538 777.5,1545.5 774.6,1551.8C771.7,1558 768,1563.4 767.1,1569.3C766.3,1575.1 767.5,1581.3 769.6,1586.7C771.7,1592.2 776.3,1598.4 779.6,1601.7C782.9,1605.1 787.5,1608.4 789.6,1606.7C791.7,1605.1 790,1596.7 792.1,1591.7C794.2,1586.7 798.3,1580.9 802.1,1576.8C805.8,1572.6 810,1570.9 814.6,1566.8C819.2,1562.6 823.7,1555.9 829.6,1551.8C835.4,1547.6 842.9,1546 849.5,1541.8C856.2,1537.6 862,1531.8 869.5,1526.8C877,1521.8 894.5,1511.8 894.5,1511.8L894.5,1347C894.5,1347 874.5,1341.2 869.5,1347Z" fill="#005046"/>
<circle cx="777.1" cy="1483.1" r="12" fill="#005046"/>
<circle cx="757.6" cy="1601.2" r="5" fill="#005046"/>
<path d="M884.9,1174.9C884.9,1171.2 894,1165.8 899.8,1164.9C905.7,1164.1 917.3,1166.2 919.8,1169.9C922.3,1173.7 918.1,1184.5 914.8,1187.4C911.5,1190.3 904.8,1189.5 899.8,1187.4C894.8,1185.3 884.9,1178.7 884.9,1174.9Z" fill="#005046"/>
<path d="M922.3,1224.9C927.3,1222.4 933.1,1218.2 939.8,1214.9C946.5,1211.5 954.4,1207 962.3,1204.9C970.2,1202.8 978.9,1202.4 987.2,1202.4C995.6,1202.4 1004.7,1203.2 1012.2,1204.9C1019.7,1206.5 1027.2,1208.2 1032.2,1212.4C1037.2,1216.5 1039.3,1224.4 1042.2,1229.9C1045.1,1235.3 1046.3,1239.8 1049.7,1244.8C1053,1249.8 1058.4,1254 1062.2,1259.8C1065.9,1265.7 1069.6,1273.1 1072.1,1279.8C1074.6,1286.5 1074.2,1293.1 1077.1,1299.8C1080.1,1306.4 1088.4,1313.9 1089.6,1319.8C1090.9,1325.6 1087.5,1330.2 1084.6,1334.7C1081.7,1339.3 1075.1,1343.1 1072.1,1347.2C1069.2,1351.4 1070.1,1354.3 1067.2,1359.7C1064.2,1365.1 1059.2,1375.1 1054.7,1379.7C1050.1,1384.3 1045.5,1385.9 1039.7,1387.2C1033.9,1388.4 1026.4,1386.4 1019.7,1387.2C1013,1388 1006.4,1390.9 999.7,1392.2C993.1,1393.4 986.4,1395.5 979.7,1394.7C973.1,1393.8 965.6,1388.4 959.8,1387.2C953.9,1385.9 949.8,1382.6 944.8,1387.2C939.8,1391.8 933.5,1406.3 929.8,1414.7C926.1,1423 925.2,1431.3 922.3,1437.1C919.4,1443 914.4,1444.2 912.3,1449.6C910.2,1455 911.1,1463.4 909.8,1469.6C908.6,1475.8 908.2,1482.1 904.8,1487.1C901.5,1492.1 894.8,1497.1 889.8,1499.6C884.9,1502.1 879.4,1502.1 874.9,1502.1C870.3,1502.1 864.9,1495.8 862.4,1499.6C859.9,1503.3 862,1517 859.9,1524.5C857.8,1532 855.7,1539.1 849.9,1544.5C844.1,1549.9 831.6,1556.2 824.9,1557C818.3,1557.8 814.9,1554.1 809.9,1549.5C804.9,1544.9 799.5,1533.7 795,1529.5C790.4,1525.4 785,1527.4 782.5,1524.5C780,1521.6 778.7,1516.2 780,1512C781.2,1507.9 785.4,1503.7 790,1499.6C794.5,1495.4 802,1487.5 807.4,1487.1C812.8,1486.7 817.8,1497.5 822.4,1497.1C827,1496.6 829.5,1488.7 834.9,1484.6C840.3,1480.4 848.2,1476.3 854.9,1472.1C861.5,1467.9 872.4,1464.2 874.9,1459.6C877.4,1455 872.4,1448.8 869.9,1444.6C867.4,1440.5 862,1439.6 859.9,1434.6C857.8,1429.6 856.1,1421.3 857.4,1414.7C858.6,1408 865.3,1401.8 867.4,1394.7C869.5,1387.6 869,1379.7 869.9,1372.2C870.7,1364.7 872.4,1356.8 872.4,1349.7C872.4,1342.6 869.5,1336.4 869.9,1329.7C870.3,1323.1 872.4,1316.4 874.9,1309.8C877.4,1303.1 883.6,1296.5 884.9,1289.8C886.1,1283.1 882.4,1276.5 882.4,1269.8C882.4,1263.2 882.8,1254 884.9,1249.8C886.9,1245.7 890.7,1248.2 894.8,1244.8C899,1241.5 905.2,1233.2 909.8,1229.9C914.4,1226.5 917.3,1227.4 922.3,1224.9Z" fill="#005046"/>
<path d="M765,1479.6C765.8,1475.4 773.7,1471.7 777.5,1472.1C781.2,1472.5 786.2,1478.3 787.5,1482.1C788.7,1485.8 787.5,1492.1 785,1494.6C782.5,1497.1 775.8,1499.6 772.5,1497.1C769.1,1494.6 764.2,1483.7 765,1479.6Z" fill="#005046"/>
<path d="M812.4,1095C817,1091.3 841.6,1091.7 847.4,1095C853.2,1098.3 849.5,1110.4 847.4,1115C845.3,1119.6 839.5,1122.1 834.9,1122.5C830.3,1122.9 823.7,1122.1 819.9,1117.5C816.2,1112.9 807.9,1098.8 812.4,1095Z" fill="#005046"/>
<path d="M701.6,313.2C701.3,309.4 705.2,306.9 708.3,303.3C711.3,299.6 715.8,295.5 719.9,291.6C724.1,287.7 728.2,282.2 733.2,279.9C738.2,277.7 744.3,278.3 749.9,278.3C755.4,278.3 761.5,278.6 766.5,279.9C771.5,281.3 776.8,283.3 779.9,286.6C782.9,289.9 784.6,295.5 784.9,299.9C785.1,304.4 782.9,309.1 781.5,313.2C780.1,317.4 780.1,322.1 776.5,324.9C772.9,327.7 765.4,328.5 759.9,329.9C754.3,331.3 748.8,333.2 743.2,333.2C737.7,333.2 732.1,331 726.6,329.9C721,328.8 714.1,329.3 709.9,326.6C705.8,323.8 701.9,317.1 701.6,313.2Z" fill="#005046"/>
<circle cx="678.3" cy="323.2" r="3.5" fill="#005046"/>
<circle cx="787.8" cy="322.9" r="3.5" fill="#005046"/>
<path d="M734.7,1571.8C735.5,1568.4 739.7,1564.3 742.2,1564.3C744.7,1564.3 749.2,1568.4 749.6,1571.8C750.1,1575.1 746.7,1582.2 744.7,1584.2C742.6,1586.3 738.8,1586.3 737.2,1584.2C735.5,1582.2 733.8,1575.1 734.7,1571.8Z" fill="#a3dbd3"/>
<path d="M779.6,1556.8C781.3,1553.4 787.1,1548.9 789.6,1549.3C792.1,1549.7 795,1555.5 794.6,1559.3C794.2,1563 789.6,1570.1 787.1,1571.8C784.6,1573.4 780.9,1571.8 779.6,1569.3C778.4,1566.8 778,1560.1 779.6,1556.8Z" fill="#a3dbd3"/>
<path d="M764.6,1494.3C765,1490.6 770,1489.8 772.1,1491.8C774.2,1493.9 777.5,1503.1 777.1,1506.8C776.7,1510.6 771.7,1516.4 769.6,1514.3C767.5,1512.2 764.2,1498.1 764.6,1494.3Z" fill="#a3dbd3"/>
<path d="M832.1,1406.9C833.3,1403.6 840,1400.3 842,1401.9C844.1,1403.6 845.8,1413.6 844.5,1416.9C843.3,1420.3 836.6,1423.6 834.6,1421.9C832.5,1420.3 830.8,1410.3 832.1,1406.9Z" fill="#a3dbd3"/>
<path d="M839.5,1571.8C840,1566.8 845,1561.8 847,1561.8C849.1,1561.8 852.5,1566.8 852,1571.8C851.6,1576.8 846.6,1591.7 844.5,1591.7C842.5,1591.7 839.1,1576.8 839.5,1571.8Z" fill="#a3dbd3"/>
<circle cx="740.4" cy="1574.8" r="3" fill="#def0ed"/>
<path d="M818.2,1096.4C819,1094.5 821.8,1093.9 823.2,1094.8C824.6,1095.6 826.5,1099.2 826.5,1101.4C826.5,1103.6 824.6,1107.3 823.2,1108.1C821.8,1108.9 819,1108.4 818.2,1106.4C817.4,1104.5 817.4,1098.4 818.2,1096.4Z" fill="#003c30"/>
<circle cx="809.9" cy="1085.6" r="3" fill="#003c30"/>
<path d="M787.1,1501.8C789.6,1498.5 799.2,1494.3 804.6,1494.3C810,1494.3 813.7,1502.3 819.6,1501.8C825.4,1501.4 832.9,1493.5 839.5,1491.8C846.2,1490.2 855.8,1489.3 859.5,1491.8C863.3,1494.3 863.3,1501 862,1506.8C860.8,1512.7 856.6,1521 852,1526.8C847.5,1532.6 840,1538 834.6,1541.8C829.1,1545.5 823.7,1550.1 819.6,1549.3C815.4,1548.5 812.9,1540.5 809.6,1536.8C806.3,1533.1 802.9,1530.6 799.6,1526.8C796.3,1523.1 791.7,1518.5 789.6,1514.3C787.5,1510.2 784.6,1505.2 787.1,1501.8Z" fill="#003c30"/>
<circle cx="777.6" cy="1483.6" r="8" fill="#003c30"/>
<path d="M884.9,1249.8C886.9,1246.3 895.3,1251.9 899.8,1253.6C904.4,1255.2 907.3,1259.6 912.3,1259.8C917.3,1260 925.2,1254 929.8,1254.8C934.4,1255.7 935.6,1263.6 939.8,1264.8C944,1266.1 949.8,1261.5 954.8,1262.3C959.8,1263.2 964.3,1268.1 969.8,1269.8C975.2,1271.5 982.2,1269.8 987.2,1272.3C992.2,1274.8 995.1,1281.9 999.7,1284.8C1004.3,1287.7 1011.4,1286 1014.7,1289.8C1018,1293.5 1019.1,1300.6 1019.7,1307.3C1020.3,1313.9 1019.3,1323.5 1018.5,1329.7C1017.6,1336 1017.8,1340.4 1014.7,1344.7C1011.6,1349.1 1004.3,1353.9 999.7,1356C995.1,1358 991.4,1358.7 987.2,1357.2C983.1,1355.8 978.5,1350.3 974.8,1347.2C971,1344.1 969.3,1342.2 964.8,1338.5C960.2,1334.7 953.1,1324.3 947.3,1324.8C941.5,1325.2 931.9,1335.6 929.8,1341C927.7,1346.4 935.6,1351.6 934.8,1357.2C934,1362.8 929,1369.7 924.8,1374.7C920.6,1379.7 913.2,1381.4 909.8,1387.2C906.5,1393 907.7,1405.1 904.8,1409.7C901.9,1414.2 896.1,1415.1 892.3,1414.7C888.6,1414.2 882.8,1410.9 882.4,1407.2C881.9,1403.4 888.2,1397.6 889.8,1392.2C891.5,1386.8 893.2,1380.9 892.3,1374.7C891.5,1368.5 886.9,1361.4 884.9,1354.7C882.8,1348.1 880.3,1341.4 879.9,1334.7C879.4,1328.1 881.3,1321.4 882.4,1314.8C883.4,1308.1 885.3,1301.4 886.1,1294.8C886.9,1288.1 887.6,1282.3 887.3,1274.8C887.1,1267.3 882.8,1253.4 884.9,1249.8Z" fill="#003c30"/>
<path d="M792.5,1502.1C794.5,1497.9 802.9,1490.8 807.4,1492.1C812,1493.3 815.8,1508.7 819.9,1509.5C824.1,1510.4 827.4,1500.4 832.4,1497.1C837.4,1493.7 845.3,1489.2 849.9,1489.6C854.5,1490 858.2,1494.6 859.9,1499.6C861.5,1504.6 861.5,1514.5 859.9,1519.5C858.2,1524.5 852,1525.4 849.9,1529.5C847.8,1533.7 850.3,1541.2 847.4,1544.5C844.5,1547.8 837,1548.3 832.4,1549.5C827.8,1550.8 823.7,1553.7 819.9,1552C816.2,1550.3 812.4,1544.1 809.9,1539.5C807.4,1534.9 807.4,1528.3 804.9,1524.5C802.4,1520.8 797,1520.8 795,1517C792.9,1513.3 790.4,1506.2 792.5,1502.1Z" fill="#003c30"/>
<path d="M728.2,291.6C729.1,288.5 732.4,284.9 736.6,283.3C740.7,281.6 748.5,281.1 753.2,281.6C757.9,282.2 762.7,283.6 764.9,286.6C767.1,289.7 766.8,296 766.5,299.9C766.3,303.8 766,307.7 763.2,309.9C760.4,312.1 754.1,313 749.9,313.2C745.7,313.5 741.3,313.5 738.2,311.6C735.2,309.6 733.2,304.9 731.6,301.6C729.9,298.3 727.4,294.7 728.2,291.6Z" fill="#003c30"/>
<path d="M553.2,1901.5C557.4,1899 572.1,1897.6 579.9,1898.2C587.6,1898.7 597.1,1901.8 599.9,1904.8C602.6,1907.9 601.5,1914.3 596.5,1916.5C591.5,1918.7 576.8,1918.7 569.9,1918.2C563,1917.6 557.7,1915.9 554.9,1913.2C552.1,1910.4 549.1,1904 553.2,1901.5Z" fill="#ffffff" fill-opacity="0.8"/>
<path d="M546.6,2013.1C549.1,2008.6 559.3,2004.2 563.2,2006.4C567.1,2008.6 570.4,2020.8 569.9,2026.4C569.3,2031.9 563.5,2038.6 559.9,2039.7C556.3,2040.8 550.5,2037.5 548.2,2033C546,2028.6 544.1,2017.5 546.6,2013.1Z" fill="#ffffff" fill-opacity="0.8"/>
<path d="M529.9,2096.3C532.2,2090.7 542.1,2087.4 546.6,2089.6C551,2091.9 556.6,2103 556.6,2109.6C556.6,2116.3 550.5,2127.4 546.6,2129.6C542.7,2131.8 536,2128.5 533.3,2122.9C530.5,2117.4 527.7,2101.8 529.9,2096.3Z" fill="#ffffff" fill-opacity="0.8"/>
<path d="M513.3,2142.9C515.8,2137.4 526,2133.5 529.9,2136.3C533.8,2139 537.1,2152.3 536.6,2159.6C536,2166.8 530.2,2177.9 526.6,2179.5C523,2181.2 517.2,2175.7 515,2169.5C512.7,2163.4 510.8,2148.5 513.3,2142.9Z" fill="#ffffff" fill-opacity="0.8"/>
<path d="M569.9,2239.5C573.2,2236.1 589.9,2234.5 596.5,2236.1C603.2,2237.8 609.8,2245.6 609.8,2249.5C609.8,2253.3 602.1,2258.3 596.5,2259.5C591,2260.6 581,2259.5 576.5,2256.1C572.1,2252.8 566.6,2242.8 569.9,2239.5Z" fill="#ffffff" fill-opacity="0.8"/>
<path d="M603.2,2259.5C606.5,2256.7 620.4,2255 626.5,2256.1C632.6,2257.2 639.8,2262.8 639.8,2266.1C639.8,2269.4 632,2275 626.5,2276.1C620.9,2277.2 610.4,2275.5 606.5,2272.8C602.6,2270 599.9,2262.2 603.2,2259.5Z" fill="#ffffff" fill-opacity="0.8"/>
<path d="M663.1,2286.1C665.9,2282.5 682,2279.4 689.8,2279.4C697.5,2279.4 708.1,2282.8 709.7,2286.1C711.4,2289.4 705.9,2296.9 699.7,2299.4C693.6,2301.9 679.2,2303.3 673.1,2301.1C667,2298.9 660.3,2289.7 663.1,2286.1Z" fill="#ffffff" fill-opacity="0.8"/>
<path d="M669.8,2319.4C673.1,2316.6 688.6,2314.9 696.4,2316.1C704.2,2317.2 715.3,2322.7 716.4,2326C717.5,2329.4 709.7,2334.9 703.1,2336C696.4,2337.1 682,2335.5 676.4,2332.7C670.9,2329.9 666.5,2322.2 669.8,2319.4Z" fill="#ffffff" fill-opacity="0.8"/>
<path d="M539.9,2176.2C541.9,2172.9 549.9,2170.7 553.2,2172.9C556.6,2175.1 560.5,2184.5 559.9,2189.5C559.3,2194.5 553,2202.3 549.9,2202.8C546.9,2203.4 543.3,2197.3 541.6,2192.9C539.9,2188.4 538,2179.5 539.9,2176.2Z" fill="#ffffff" fill-opacity="0.8"/>
</g></g>
<g fill="none" stroke="#000" stroke-width="3.5" stroke-linejoin="round" stroke-linecap="round">
<path d="M442.7,303.9 459.4,303.2 482.7,280.5 496,277.2 501,240.6 519.3,225.6 541,223.9 542.6,217.3 567.6,219.6 602.6,197.3 621.5,181.7 634.2,184 641.5,192.3 633.5,210.6 615.9,214 625.2,232.3 622.5,245.6 611.9,265.6 624.2,287.2 638.2,285.5 643.5,265.6 632.5,246.2 631.9,228.9 670.8,215.6 666.8,200.6 679.1,190 690.1,212.3 714.1,213 734.1,232.3 734.7,240.6 764,241.6 797.3,238.9 804,242.9 817.3,253.9 840,257.2 855.6,247.2 857.3,238.9 936.5,236.6 909.9,246.2 918.9,260.6 932.2,259.6 945.5,263.9 969.5,278.9 974.8,304.5 991.5,303.9 1003.1,312.8 1025.4,325.5 1044.4,344.5 1046.1,360.5 1056.1,361.1 1086,387.8 1125.3,394.4 1127.6,387.8 1153.6,385.4 1188.6,396.1 1222.5,406.1 1258.5,433.7 1263.5,443.7 1266.8,440.4 1273.5,447 1283.5,478.7 1292.8,508.6 1302.5,509.3 1303.5,518.6 1315.1,521.3 1318.4,533.6 1316.8,541.9 1303.5,558.6 1310.1,566.9 1333.4,576.9 1366.7,586.9 1363.4,605.2 1385,596.9 1410,601.9 1410,601.9 1438.3,613.5 1459.9,621.8 1473.3,625.8 1486.6,641.8 1493.2,653.5 1481.6,680.1 1497.2,660.1 1524.9,654.5 1549.8,663.5 1573.2,668.5 1591.5,669.4 1618.1,666.8 1634.8,668.5 1683,696.8 1719.7,731.7 1743,740 1759.6,739 1777.9,741.7 1786.3,753.4 1792.9,781.7 1801.2,813.3 1796.2,844.9 1796.2,845 1789.6,865 1762.9,894.9 1746.3,913.3 1729.6,928.2 1716.3,948.2 1703,968.2 1686.4,989.8 1676.4,993.2 1673,981.5 1668,988.2 1663.1,1011.5 1666.4,1044.8 1669.7,1081.4 1663.1,1121.4 1659.7,1141.3 1644.7,1159.7 1641.4,1197.9 1626.4,1224.6 1609.8,1242.9 1606.5,1257.9 1603.1,1277.9 1578.1,1291.2 1571.5,1309.5 1536.5,1310.5 1499.9,1316.1 1463.3,1329.5 1430,1341.1 1410,1356.1 1410,1362.8 1390,1377.7 1366.7,1404.4 1356.7,1431 1363.4,1467.6 1358.4,1497.6 1336.7,1514.3 1323.4,1520.9 1321.8,1521 1306.8,1546 1286.8,1570.9 1263.5,1589.3 1245.2,1603.6 1233.5,1629.2 1226.9,1637.5 1206.9,1654.2 1193.6,1674.2 1157.6,1691.8 1133.6,1685.8 1116.3,1689.1 1087,1675.2 1065.4,1676.5 1048.7,1663.5 1043.1,1674.8 1084.4,1702.5 1079.7,1724.1 1100.3,1739.1 1098.7,1754.1 1067.7,1795 1020.4,1811.7 956.2,1818.3 921.2,1814.7 928.2,1834 921.2,1858 927.9,1874.6 907.9,1885.6 875.6,1889.6 845,1877.9 832.3,1887.3 837.3,1917.2 858.9,1927.2 876.3,1917.2 885.6,1934.5 857.3,1943.9 830.6,1963.8 827.3,1993.8 819,2013.1 789,2013.4 763,2031.1 754,2052.7 784.7,2077 816.3,2083.4 805.6,2112 768,2130 746.4,2167.6 719.1,2180.3 704.7,2195.2 715.7,2229.2 736.4,2246.5 696.4,2242.5 651.5,2264.2 646.5,2292.5 631.5,2295.1 596.5,2285.8 519.9,2244.2 509.3,2223.2 519.3,2205.2 502.6,2182.6 498.3,2128.6 512.6,2098.3 546.6,2074.4 497.3,2065 527.3,2036.1 538.3,1983.8 573.9,1994.5 590.5,1928.9 568.9,1920.5 559.2,1959.5 539.3,1955.5 559.9,1850.6 574.9,1829 565.9,1797.4 562.6,1761.4 575.9,1760.7 595.9,1710.8 618.2,1659.2 631.5,1610.9 624.2,1563.6 634.2,1537 630.9,1521 631.9,1520.9 629.9,1497.6 649.2,1457.7 654.2,1404.4 665.8,1324.5 674.1,1254.5 672.5,1207.9 665.8,1161.3 632.5,1144 630.2,1130.7 567.6,1100.7 511,1064.8 485,1044.8 472,1018.1 477.7,1009.8 451.1,968.2 417.8,906.6 387.8,845 384.5,844.9 371.1,815 354.5,795 318.5,775 327.9,760 313.5,730 322.9,706.7 349.5,686.8 364.5,661.1 360.2,648.5 346.2,663.5 327.9,650.1 334.5,641.8 328.5,611.8 339.5,608.5 346.2,588.5 357.8,563.6 356.2,553.6 377.8,543.6 394.5,535.3 390.1,524.6 400.1,521.9 401.1,505.3 409.4,493.6 424.4,492 450.4,454.7 438.4,448.7 444.4,432 436.1,400.4 443.7,392.1 437.7,365.5 427.7,348.8 432.7,333.2 443.4,332.2 446.1,323.8Z"/>
<path d="M276.2,273.9 288.6,283.9 289.6,292.2 299.6,293.9 303.9,290.5 312.9,297.2 327.9,295.5 341.2,288.2 361.2,282.2 372.8,272.2 390.5,274.6 411.1,278.9 427.7,287.2 442.7,303.9 446.1,323.8 443.4,332.2 432.7,333.2 427.7,348.8 416.1,338.8 409.4,322.2 416.1,313.8 407.8,311.5 396.8,297.2 386.1,291.5 372.8,293.9 367.8,302.2 357.8,310.5 347.2,313.8 346.2,322.8 359.5,338.8 344.5,347.1 331.2,348.8 324.5,328.2 321.2,334.8 310.5,332.2 304.5,320.5 282.9,313.8 264.6,315.5 268.9,303.9 267.9,297.2 271.9,294.9 265.6,290.5 264.6,276.2Z"/>
<path d="M942.2,233.9 960.5,230.6 968.2,232.3 966.5,256.2 938.9,259.6 933.2,257.2 943.2,248.2Z"/>
<path d="M720.4,2255.2 698.1,2251.5 669.8,2264.2 658.1,2287.5 641.5,2301.5 596.5,2289.1 529.3,2261.8 571.6,2296.8 603.2,2314.1 644.8,2332.4 678.1,2338.4 703.1,2346.4 736.4,2349.7 764,2339.7 773,2328.4 790.3,2338.4 821.3,2336.7 835.6,2320.8 789.6,2312.4 749,2294.1 733,2267.5Z"/>
<path d="M957.8,2229.2 996.1,2210.9 1022.7,2218.5 1042,2205.9 1068.3,2220.2 1057.7,2231.9 1015.1,2241.5 1000.4,2230.2 973.4,2244.8Z"/>
<path d="M247.3,169 248.6,182.3 243,185.6 240.3,199 242.3,207.3 235.6,215.6 237.3,223.9 240.6,230.6 249.6,246.2 261.3,258.9 276.2,273.9"/>
<path d="M198,228.9 209.7,225.6 218.6,228.3 224.6,234.9 233,236.6 240.6,230.6"/>
<path d="M198,256.2 208,260.6 209.7,268.9 231.3,282.2 241.3,290.5 243.9,297.2 239.6,302.9 247.9,308.8 262.9,314.8 264.6,315.5 267.9,321.5"/>
<path d="M394.5,535.3 431.1,553.6 441.1,566.9 467.7,570.9 477.7,565.2 507.7,581.9"/>
<path d="M349.5,686.8 353.8,700.1 343.5,706.7 345.5,718.4 357.8,715.1 383.8,736.7 401.1,723.4 411.1,695.1 427.7,675.1 464.4,661.8 509.3,608.5 507.7,581.9"/>
<path d="M507.7,581.9 517.6,582.5 537.6,598.5 546,610.2 560.9,618.5 579.2,651.8 602.6,655.8 619.2,647.5 630.9,651.8 650.8,650.1 676.5,665.1 655.8,698.4 662.5,697.8 680.8,715.7"/>
<path d="M680.8,715.7 696.5,613.5 690.8,595.2 677.5,581.9 676.5,558.6 704.1,556.9 702.4,546.9 682.5,543.6 682.5,522.9 732.4,521.9 734.7,515.3 744.1,523.6 757.4,510.3 772.4,540.3"/>
<path d="M615.9,214 597.6,233.9 584.2,248.9 572.6,285.5 587.6,288.9 595.9,312.2 600.9,340.5 614.2,352.1 674.1,350.5 697.5,382.1 737.4,381.4 750.7,378.8 762.4,384.8 747.4,422.1 752.4,452 762.4,472 747.4,488.6 764,508.6 772.4,540.3"/>
<path d="M1003.1,312.8 978.8,330.5 975.5,342.1 986.5,353.8 978.8,360.5 959.8,365.5 958.8,380.4 950.5,388.8 975.5,417.1"/>
<path d="M975.5,417.1 977.1,422.1 960.5,433.7 937.2,442 910.5,452 905.6,463.7 900.6,462 893.9,453.7 867.3,450.4 847.3,447 842.3,442 853.9,455.4 855.6,478.7 858.9,498.6 887.2,502 863.9,517 858.9,530.3 824,546.9 820.6,556.9 817.3,550.2 804,553.6 794,551.9 772.4,540.3"/>
<path d="M842.3,442 862.3,462 867.3,488.6 858.9,498.6"/>
<path d="M975.5,417.1 987.1,413.7 996.5,417.1 993.1,433.7 1003.8,438.7 1010.4,452 1002.1,465.3 997.1,490.3 1003.8,505.3 1005.4,518.6 1017.1,530.3 1030.4,537.9"/>
<path d="M1086,387.8 1082,417.1 1062,424.7 1058.7,448.7 1072,472 1082,472.7 1087.7,490.3 1105.3,517"/>
<path d="M1030.4,537.9 1042.1,536.9 1050.4,528.6 1070.4,521.9 1080.4,515.3 1105.3,517 1123.6,518.6 1125.3,508.6 1123,498.6 1137,500.3 1153.6,497 1163.6,502"/>
<path d="M1188.6,396.1 1171.9,422.7 1174.3,445.4 1186.9,463.7 1180.3,482 1170.3,502"/>
<path d="M1163.6,502 1183.6,508.6 1193.6,503 1203.6,505.3 1206.9,512 1220.2,508.6 1231.9,497 1240.2,478.7 1250.2,462 1263.5,443.7"/>
<path d="M887.2,502 903.9,512 910.5,518.6 910.5,531.9 917.2,551.9 913.9,575.2 922.2,595.2 917.2,601.9 935.5,621.8 943.8,623.5 948.8,598.5 960.5,593.5 967.2,595.2 973.8,605.2 985.5,598.5 987.1,585.2 993.8,572.9 1030.4,572.9"/>
<path d="M1030.4,537.9 1032.1,572.9 1033.7,591.9 1043.7,608.5 1067,626.8 1090.4,636.8 1108.7,648.5 1110.3,655.8 1047.1,791.6 1044.4,801.6 1057.1,821.6 1070.4,844.9"/>
<path d="M1053.7,816.6 1048.7,844.9"/>
<path d="M1163.6,502 1161.9,518.6 1180.3,523.6 1200.2,536.9 1211.9,553.6 1220.2,581.9 1233.5,598.5 1243.5,613.5 1253.5,613.5 1260.2,613.5"/>
<path d="M1303.5,558.6 1283.5,581.9 1270.2,598.5 1260.2,613.5 1246.8,625.2 1230.2,627.8 1248.5,631.2 1270.2,615.2 1288.5,607.9"/>
<path d="M1291.8,588.5 1296.8,580.2 1330.1,581.9 1360.1,585.2 1366.7,590.2 1363.4,601.9 1356.7,616.8 1333.4,633.5 1303.5,641.8 1293.5,633.5 1290.1,611.8Z"/>
<path d="M1363.4,616.8 1350.1,623.5 1336.7,635.2 1326.8,661.8"/>
<path d="M1438.3,613.5 1433.3,641.8 1425,668.5 1416.7,688.4 1410,701.7 1388.4,725.1 1356.7,748.4"/>
<path d="M1356.7,748.4 1370,755 1366.7,778.3 1353.4,791.6 1340.1,801.6 1336.7,821.6 1340.1,844.9"/>
<path d="M1356.7,748.4 1376.7,750 1393.4,760 1400,785 1396.7,808.3 1386.7,815 1403.3,834.9 1410,841.6"/>
<path d="M867.3,844.9 882.2,833.3 908.9,833.3 920.5,844.9"/>
<path d="M1573.2,668.5 1566.5,681.8 1549.8,691.8 1538.2,715.1 1541.5,735 1543.2,751.7 1534.9,768.3 1534.9,785 1541.5,795 1538.2,810 1523.2,813.3 1509.9,810 1496.6,816.6 1481.6,829.9 1459.9,838.3 1453.3,844.9"/>
<path d="M1591.5,669.4 1586.5,688.4 1599.8,718.4 1594.8,735 1603.1,768.3 1609.8,791.6 1619.8,798.3 1614.8,813.3 1611.4,824.9 1616.4,844.9"/>
<path d="M1719.7,731.7 1703,748.4 1693,768.3 1679.7,778.3 1673,801.6 1676.4,818.3 1674.7,831.6 1666.4,844.9"/>
<path d="M1611.4,824.9 1643.1,826.6 1654.7,831.6 1664.7,844.9"/>
<path d="M1679.7,778.3 1703,776.7 1721.3,768.3 1723,778.3 1711.3,785 1721.3,795 1736.3,798.3 1743,785 1749.6,776.7 1792.9,783.3"/>
<path d="M1674.7,831.6 1686.4,838.3 1703,833.3 1719.7,824.9 1728,831.6 1723,844.9"/>
<path d="M1729.6,844.9 1743,836.6 1772.9,828.3 1779.6,824.9 1796.2,826.6"/>
<path d="M665.8,1161.3 682.5,1153 690.8,1138"/>
<path d="M690.8,1138 710.8,1104.7 696.5,1076.4 704.1,1066.4 698.4,1054.8 710.8,1038.1 713.4,988.2 719.1,978.9 694.1,929.9"/>
<path d="M690.8,1138 705.8,1159.7 710.8,1181.3 727.4,1196.3 716.8,1227.2 734.1,1262.9 746.7,1307.2 769,1303.8"/>
<path d="M769,1303.8 795.7,1273.9 804,1274.5"/>
<path d="M769,1303.8 773.4,1311.2 762.4,1343.5 727.4,1359.4 729.1,1412.7 722.4,1422.7 732.4,1435 709.1,1454.3 687.5,1487.6 676.8,1514.3 677.5,1520.9"/>
<path d="M823.3,938.2 830.6,951.5 853.9,973.2 887.2,981.5 913.9,996.5 937.2,1008.2 958.8,1008.2 977.1,1014.8 985.5,1034.8 987.1,1058.1 978.8,1059.8 990.5,1094.7 1052.1,1097.1 1045.4,1108 1047.1,1123 1067,1138 1075.4,1158 1067,1184.6 1057.1,1206.3 1053.7,1211.3"/>
<path d="M977.1,1014.8 988.8,996.5 1000.5,973.2 995.5,954.9 997.1,934.9 983.8,929.9 947.2,928.2 948.8,888.3 945.5,858.3"/>
<path d="M913.9,845 927.2,858.3 945.5,858.3 1043.7,857.7 1048.7,845"/>
<path d="M1068.7,845 1073.7,858.3 1093.7,875 1108.7,879.3 1305.1,890"/>
<path d="M1336.7,845 1320.1,865 1305.1,890"/>
<path d="M1305.1,890 1296.8,918.3 1291.8,954.9 1295.1,984.8 1306.8,973.2 1301.8,988.2 1283.5,1044.8 1263.5,1064.8 1230.2,1094.7 1213.5,1128 1216.9,1154.7"/>
<path d="M1301.8,988.2 1333.4,999.8 1343.4,983.2 1353.4,1001.5 1388.4,999.8 1410,994.8"/>
<path d="M1075.4,1148 1097,1131.4 1118.7,1127.4 1150.3,1139.7 1166.9,1137.3 1180.3,1141.3 1196.9,1128 1195.2,1139.7 1186.9,1148.7 1215.2,1151.3"/>
<path d="M1216.9,1154.7 1223.5,1171.3 1283.5,1196.3"/>
<path d="M1283.5,1196.3 1303.5,1174.6 1336.7,1166.3 1380,1164.6 1401.7,1153 1400,1134.7 1406.7,1111.4 1398.3,1091.4 1403.3,1083.1"/>
<path d="M1370,1072.4 1398.3,1072.4 1398.3,1089.7 1370,1089.7Z"/>
<path d="M1283.5,1196.3 1283.5,1214.6 1296.8,1209.6 1336.7,1214.6 1340.1,1224.6 1350.1,1219.6 1396.7,1216.3 1403.3,1227.9 1410,1257.9"/>
<path d="M1283.5,1214.6 1263.5,1234.6 1246.8,1264.5 1220.2,1292.8 1196.9,1311.2 1180.3,1341.1"/>
<path d="M1220.2,1296.2 1246.8,1297.8 1283.5,1302.8 1316.8,1307.8 1328.4,1324.5 1338.4,1362.8 1360.1,1366.1 1366.7,1381.1 1370,1391.1"/>
<path d="M1057.1,1206.3 1063.7,1244.6 1060.4,1279.5 1097,1286.2 1107,1281.2 1132,1291.2 1140.3,1327.8 1143.6,1341.1 1165.3,1337.1 1178.6,1342.8 1170.3,1377.7 1166.9,1394.4"/>
<path d="M1166.9,1394.4 1160.3,1424.4 1133.6,1447.7 1107,1455 1040.4,1441 1070.4,1394.4 1067,1379.4 1037.1,1367.8 993.8,1344.5 967.2,1337.1 907.2,1281.2"/>
<path d="M907.2,1281.2 918.9,1241.2 923.9,1222.9 938.9,1202.9 993.8,1194.6 1023.8,1194.6 1053.7,1211.3"/>
<path d="M804,1276.2 837.3,1279.5 855.6,1304.5 868.9,1279.5 907.2,1279.5"/>
<path d="M1166.9,1394.4 1181.9,1391.1 1193.6,1404.4 1196.9,1437.7 1170.3,1454.3 1137,1477.6 1110.3,1497.6 1090.4,1520.9"/>
<path d="M1193.6,1407.7 1233.5,1416 1270.2,1424.4 1273.5,1414.4 1293.5,1409.4 1316.8,1407.7 1333.4,1411 1356.7,1404.4"/>
<path d="M1193.6,1441 1206.9,1439.3 1246.8,1444.3 1270.2,1461 1296.8,1484.3 1321.8,1487.6 1313.4,1507.6 1316.8,1517.6"/>
<path d="M1596.5,855 1606.5,863.3 1609.8,878.3 1623.1,873.3 1636.4,858.3 1649.7,851.7 1669.7,858.3 1686.4,868.3 1693,881.6 1703,861.6 1729.6,871.6 1756.3,861.6 1786.3,860"/>
<path d="M1693,881.6 1743,909.9"/>
<path d="M1693,881.6 1703,898.3 1701.3,918.3 1691.4,926.6 1703,943.2 1716.3,941.6 1719.7,934.9"/>
<path d="M1410,858.3 1416.7,868.3 1425,881.6 1430,898.3 1443.3,906.6"/>
<path d="M1445,845 1443.3,865 1446.6,885 1443.3,906.6"/>
<path d="M1443.3,906.6 1456.6,908.3 1463.3,919.9 1476.6,924.9 1499.9,914.9 1509.9,904.9 1513.2,878.3 1523.2,876.6 1549.8,881.6 1566.5,871.6 1583.1,860 1596.5,855 1609.8,845"/>
<path d="M1443.3,906.6 1431.6,921.6 1425,936.6 1438.3,951.5 1431.6,971.5 1438.3,1001.5 1433.3,1018.1 1443.3,1038.1 1445,1051.4 1440,1064.8"/>
<path d="M1410,994.8 1423.3,988.2 1435,986.5"/>
<path d="M1440,1064.8 1423.3,1048.1 1421.7,1058.1 1410,1064.8 1415,1074.7 1413.3,1084.7 1410,1086.4"/>
<path d="M1440,1064.8 1459.9,1051.4 1491.6,1031.5 1508.2,1034.8 1511.6,1044.8 1529.9,1044.8 1549.8,1054.8 1573.2,1059.8 1589.8,1074.7 1593.1,1079.7 1623.1,1081.4 1638.1,1091.4 1633.1,1103 1624.8,1111.4 1623.1,1121.4 1614.8,1124.7 1614.8,1134.7 1624.8,1146.3 1643.1,1159.7"/>
<path d="M1623.1,1148 1603.1,1151.3 1599.8,1164.6 1601.5,1178 1594.8,1179.6 1603.1,1194.6 1589.8,1221.3 1576.5,1222.9 1574.8,1239.6"/>
<path d="M1574.8,1239.6 1579.8,1249.6 1601.5,1254.5"/>
<path d="M1574.8,1239.6 1556.5,1269.5 1509.9,1281.2 1481.6,1291.2"/>
<path d="M1481.6,1291.2 1488.2,1297.8 1499.9,1299.5 1498.2,1306.2 1479.9,1314.5"/>
<path d="M1481.6,1291.2 1450,1299.5 1446.6,1306.2 1433.3,1306.2 1425,1291.2 1421.7,1274.5 1425,1261.2 1410,1257.9"/>
<path d="M677.5,1521 680.1,1544.3 660.2,1577.6 674.1,1632.5 683.5,1637.5 682.5,1667.5 664.8,1698.1 666.5,1724.8 640.8,1746.8 641.5,1775.7 650.8,1806 630.9,1818 615.9,1878.9 621.5,1917.2 609.2,1924.6 615.9,1962.2 630.9,1973.2 620.2,1986.5 634.9,1992.1 638.5,2004.5 624.2,2010.5 628.2,2028.8 615.9,2073.7 599.2,2098.7 603.2,2115.3 592.6,2135.3 568.3,2148.6 570.9,2183.6 582.6,2195.3 604.2,2193.6"/>
<path d="M1090.4,1521 1072,1539.3"/>
<path d="M1072,1539.3 1087,1541 1093.7,1537 1122,1561 1123.6,1567.6 1135.3,1561 1153.6,1575.9 1170.3,1584.3 1195.2,1599.2 1203.6,1614.2 1215.2,1620.2 1198.6,1635.9 1201.9,1649.2 1206.9,1654.2"/>
<path d="M1072,1539.3 1063.7,1567.6 1054.4,1599.2 1055.4,1630.9 1048.7,1637.5 1046.4,1654.2 1048.7,1663.5"/>
<path d="M1273.5,1536 1276.8,1544.3 1295.1,1541 1293.5,1557.6 1280.1,1572.6 1253.5,1584.3 1245.2,1599.2 1243.5,1592.6 1251.8,1575.9 1268.5,1567.6 1276.8,1549.3Z" fill="#fff"/>
<path d="M651.5,1806.3 632.2,1818 623.2,1849.6 615.5,1879.6 621.5,1917.9 608.2,1923.5 616.5,1961.2 631.5,1972.8 620.8,1986.1 634.8,1992.8 638.8,2004.4 623.8,2011.1 628.2,2029.4 615.5,2074.4 599.2,2099.3 603.2,2115 593.2,2135 568.2,2148.6 570.6,2182.6 583.2,2194.2 603.9,2192.6 603.2,2216.9 615.8,2234.9 686.4,2239.2 736.4,2246.5"/>
<path d="M720.4,2255.2 720.4,2326.4 773,2326.4"/>
<path d="M684.6,680 679.6,714.9 652.2,712.4 619.8,721.2 586.1,742.4 579.9,762.3 573.6,772.3 578.6,787.3 557.4,799.7 557.4,809.7 549.9,816 561.2,839.6 582.4,864.6 576.1,879.6 599.8,882.1 608.6,897 636,898.3 660.9,879.6 659.7,929.5 674.7,931.9 692.1,927"/>
<path d="M654.7,697.5 685.9,680 679.6,714.9 664.7,702.5Z"/>
<path d="M692.1,927 717.1,930.7 729.5,928.2 739.5,919.5 769.5,904.5 780.7,893.3 823.1,889.5 824.3,909.5 823.1,938.2"/>
<path d="M557.4,807.2 664.7,835.9 780.7,893.3"/>
<path d="M780.7,893.3 791.9,878.3 806.9,878.3 814.4,882.1 829.3,874.6 834.3,879.6 841.8,865.8 866.7,862.1 869.2,847.1 881.7,832.2 907.9,833.4 924.1,852.1 934.1,859.6 941.6,855.9 976.5,855.9"/>
<path d="M1409.8,833.1 1426.5,833.1 1423.1,846.4 1409.8,853.1 1409.8,858"/>
<path d="M1454.8,841.4 1445.8,845.7"/>
</g>
<g fill="none" stroke="#000" stroke-width="5.6" stroke-linejoin="round" stroke-linecap="round">
<path d="M680.8,715.7 696.5,613.5 690.8,595.2 677.5,581.9 676.5,558.6 704.1,556.9 702.4,546.9 682.5,543.6 682.5,522.9 732.4,521.9 734.7,515.3 744.1,523.6 757.4,510.3 772.4,540.3"/>
<path d="M975.5,417.1 977.1,422.1 960.5,433.7 937.2,442 910.5,452 905.6,463.7 900.6,462 893.9,453.7 867.3,450.4 847.3,447 842.3,442 853.9,455.4 855.6,478.7 858.9,498.6 887.2,502 863.9,517 858.9,530.3 824,546.9 820.6,556.9 817.3,550.2 804,553.6 794,551.9 772.4,540.3"/>
<path d="M975.5,417.1 987.1,413.7 996.5,417.1 993.1,433.7 1003.8,438.7 1010.4,452 1002.1,465.3 997.1,490.3 1003.8,505.3 1005.4,518.6 1017.1,530.3 1030.4,537.9"/>
<path d="M1030.4,537.9 1042.1,536.9 1050.4,528.6 1070.4,521.9 1080.4,515.3 1105.3,517 1123.6,518.6 1125.3,508.6 1123,498.6 1137,500.3 1153.6,497 1163.6,502"/>
<path d="M1163.6,502 1183.6,508.6 1193.6,503 1203.6,505.3 1206.9,512 1220.2,508.6 1231.9,497 1240.2,478.7 1250.2,462 1263.5,443.7"/>
<path d="M823.3,938.2 830.6,951.5 853.9,973.2 887.2,981.5 913.9,996.5 937.2,1008.2 958.8,1008.2 977.1,1014.8 985.5,1034.8 987.1,1058.1 978.8,1059.8 990.5,1094.7 1052.1,1097.1 1045.4,1108 1047.1,1123 1067,1138 1075.4,1158 1067,1184.6 1057.1,1206.3 1053.7,1211.3"/>
<path d="M1057.1,1206.3 1063.7,1244.6 1060.4,1279.5 1097,1286.2 1107,1281.2 1132,1291.2 1140.3,1327.8 1143.6,1341.1 1165.3,1337.1 1178.6,1342.8 1170.3,1377.7 1166.9,1394.4"/>
<path d="M1166.9,1394.4 1181.9,1391.1 1193.6,1404.4 1196.9,1437.7 1170.3,1454.3 1137,1477.6 1110.3,1497.6 1090.4,1520.9"/>
<path d="M1090.4,1521 1072,1539.3"/>
<path d="M1072,1539.3 1087,1541 1093.7,1537 1122,1561 1123.6,1567.6 1135.3,1561 1153.6,1575.9 1170.3,1584.3 1195.2,1599.2 1203.6,1614.2 1215.2,1620.2 1198.6,1635.9 1201.9,1649.2 1206.9,1654.2"/>
<path d="M684.6,680 679.6,714.9 652.2,712.4 619.8,721.2 586.1,742.4 579.9,762.3 573.6,772.3 578.6,787.3 557.4,799.7 557.4,809.7 549.9,816 561.2,839.6 582.4,864.6 576.1,879.6 599.8,882.1 608.6,897 636,898.3 660.9,879.6 659.7,929.5 674.7,931.9 692.1,927"/>
<path d="M692.1,927 717.1,930.7 729.5,928.2 739.5,919.5 769.5,904.5 780.7,893.3 823.1,889.5 824.3,909.5 823.1,938.2"/>
<path d="M1263.5,443.7 1266.8,440.4 1273.5,447 1283.5,478.7 1292.8,508.6 1302.5,509.3 1303.5,518.6 1315.1,521.3 1318.4,533.6 1316.8,541.9 1303.5,558.6 1310.1,566.9 1333.4,576.9 1366.7,586.9 1363.4,605.2 1385,596.9 1410,601.9 1410,601.9 1438.3,613.5 1459.9,621.8 1473.3,625.8 1486.6,641.8 1493.2,653.5 1481.6,680.1 1497.2,660.1 1524.9,654.5 1549.8,663.5 1573.2,668.5 1591.5,669.4 1618.1,666.8 1634.8,668.5 1683,696.8 1719.7,731.7 1743,740 1759.6,739 1777.9,741.7 1786.3,753.4 1792.9,781.7 1801.2,813.3 1796.2,844.9 1796.2,845 1789.6,865 1762.9,894.9 1746.3,913.3 1729.6,928.2 1716.3,948.2 1703,968.2 1686.4,989.8 1676.4,993.2 1673,981.5 1668,988.2 1663.1,1011.5 1666.4,1044.8 1669.7,1081.4 1663.1,1121.4 1659.7,1141.3 1644.7,1159.7 1641.4,1197.9 1626.4,1224.6 1609.8,1242.9 1606.5,1257.9 1603.1,1277.9 1578.1,1291.2 1571.5,1309.5 1536.5,1310.5 1499.9,1316.1 1463.3,1329.5 1430,1341.1 1410,1356.1 1410,1362.8 1390,1377.7 1366.7,1404.4 1356.7,1431 1363.4,1467.6 1358.4,1497.6 1336.7,1514.3 1323.4,1520.9 1321.8,1521 1306.8,1546 1286.8,1570.9 1263.5,1589.3 1245.2,1603.6 1233.5,1629.2 1226.9,1637.5 1206.9,1654.2"/>
</g>
</g>
<g transform="translate(1720,2150) scale(0.10989)">
<path d="M1460,272 L1680,495 L1612,495 C1600,800 1480,1050 1300,1210 C1150,1340 950,1380 780,1350 C560,1310 380,1180 270,1000 C200,880 170,740 178,630 C180,700 200,790 250,880 C330,1010 480,1130 660,1160 C800,1185 940,1140 1050,1050 C1200,930 1290,700 1300,495 L1228,495 Z" fill="#0077bb"/>
<path d="M203,800 C195,560 360,388 560,385 C700,385 790,470 770,588 L700,590 L890,795 L1120,590 L1050,585 C1040,330 900,135 640,155 C340,180 180,420 178,640" fill="none" stroke="#0077bb" stroke-width="13" stroke-linejoin="miter"/>
<circle cx="892" cy="972" r="156" fill="#f39200"/>
<text x="278" y="860" font-size="225" font-weight="bold" font-style="italic" textLength="465" lengthAdjust="spacingAndGlyphs" style="font-family:'Liberation Sans','DejaVu Sans',sans-serif;fill:#111">INPE</text>
</g>

<rect x="198.8" y="169.4" width="1752" height="2192.1" fill="none" stroke="#000" stroke-width="3.3"/>
<text x="1073.8" y="75.5" font-size="58.33" text-anchor="middle" dx="-8">MERGE - Potencial de Evapotranspiração</text>
<text x="1073.8" y="144" font-size="58.33" text-anchor="middle">Válido para 01/2011</text>
<text x="358.7" y="2428" font-size="58.33" text-anchor="middle">80°W</text>
<text x="677.2" y="2428" font-size="58.33" text-anchor="middle">70°W</text>
<text x="995.8" y="2428" font-size="58.33" text-anchor="middle">60°W</text>
<text x="1314.3" y="2428" font-size="58.33" text-anchor="middle">50°W</text>
<text x="1632.9" y="2428" font-size="58.33" text-anchor="middle">40°W</text>
<text x="176.5" y="276.4" font-size="58.33" text-anchor="end">10°N</text>
<text x="176.5" y="595.1" font-size="58.33" text-anchor="end">0°</text>
<text x="176.5" y="913.8" font-size="58.33" text-anchor="end">10°S</text>
<text x="176.5" y="1232.5" font-size="58.33" text-anchor="end">20°S</text>
<text x="176.5" y="1551.2" font-size="58.33" text-anchor="end">30°S</text>
<text x="176.5" y="1869.9" font-size="58.33" text-anchor="end">40°S</text>
<text x="176.5" y="2188.6" font-size="58.33" text-anchor="end">50°S</text>
<rect x="1993" y="2200" width="51" height="220.5" fill="#6e4007"/>
<rect x="1993" y="1980.1" width="51" height="220.5" fill="#a5691b"/>
<rect x="1993" y="1760.1" width="51" height="220.5" fill="#cfa256"/>
<rect x="1993" y="1540.2" width="51" height="220.5" fill="#ead59f"/>
<rect x="1993" y="1320.2" width="51" height="220.5" fill="#f5efdc"/>
<rect x="1993" y="1100.2" width="51" height="220.5" fill="#def0ed"/>
<rect x="1993" y="880.3" width="51" height="220.5" fill="#a3dbd3"/>
<rect x="1993" y="660.3" width="51" height="220.5" fill="#58b0a7"/>
<rect x="1993" y="440.4" width="51" height="220.5" fill="#1a7e76"/>
<rect x="1993" y="220.4" width="51" height="220.5" fill="#005046"/>
<path d="M1993,220.4 L2018.5,110 L2044,220.4 Z" fill="#003c30"/>
<path d="M1993,2420 L1993,220.4 L2018.5,110 L2044,220.4 L2044,2420 Z" fill="none" stroke="#000" stroke-width="3.3" stroke-linejoin="miter" stroke-miterlimit="4"/>
<path d="M2044,2420 h15.6" stroke="#000" stroke-width="3.3"/>
<text x="2074.5" y="2439.6" font-size="50">0</text>
<path d="M2044,2200 h15.6" stroke="#000" stroke-width="3.3"/>
<text x="2074.5" y="2219.6" font-size="50">20</text>
<path d="M2044,1980.1 h15.6" stroke="#000" stroke-width="3.3"/>
<text x="2074.5" y="1999.7" font-size="50">40</text>
<path d="M2044,1760.1 h15.6" stroke="#000" stroke-width="3.3"/>
<text x="2074.5" y="1779.7" font-size="50">60</text>
<path d="M2044,1540.2 h15.6" stroke="#000" stroke-width="3.3"/>
<text x="2074.5" y="1559.8" font-size="50">80</text>
<path d="M2044,1320.2 h15.6" stroke="#000" stroke-width="3.3"/>
<text x="2074.5" y="1339.8" font-size="50">100</text>
<path d="M2044,1100.2 h15.6" stroke="#000" stroke-width="3.3"/>
<text x="2074.5" y="1119.8" font-size="50">120</text>
<path d="M2044,880.3 h15.6" stroke="#000" stroke-width="3.3"/>
<text x="2074.5" y="899.9" font-size="50">140</text>
<path d="M2044,660.3 h15.6" stroke="#000" stroke-width="3.3"/>
<text x="2074.5" y="679.9" font-size="50">160</text>
<path d="M2044,440.4 h15.6" stroke="#000" stroke-width="3.3"/>
<text x="2074.5" y="460" font-size="50">180</text>
<path d="M2044,220.4 h15.6" stroke="#000" stroke-width="3.3"/>
<text x="2074.5" y="240" font-size="50">200</text>
</svg></body></html>
